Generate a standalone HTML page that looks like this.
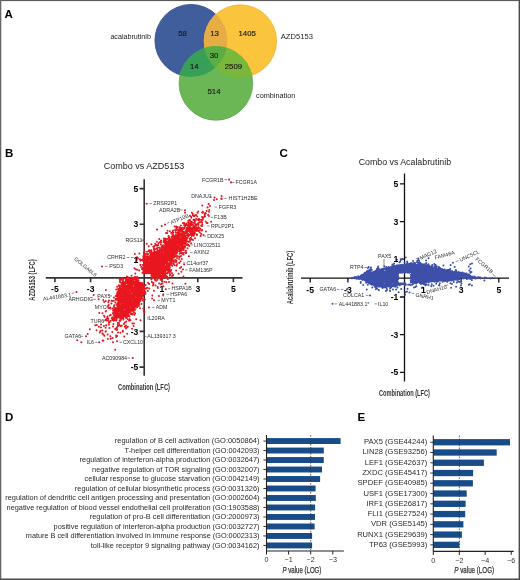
<!DOCTYPE html><html><head><meta charset="utf-8"><style>
html,body{margin:0;padding:0;background:#fff;}
body{width:520px;height:580px;overflow:hidden;position:relative;font-family:"Liberation Sans",sans-serif;}
svg{position:absolute;left:0;top:0;}
#m{filter:blur(0.3px);}
text{font-family:"Liberation Sans",sans-serif;}
</style></head><body>
<svg id="m" width="520" height="580" viewBox="0 0 520 580">
<text x="4.6" y="17.9" font-size="11.5" font-weight="bold" fill="#000">A</text>
<text x="5.0" y="156.6" font-size="11.5" font-weight="bold" fill="#000">B</text>
<text x="279.6" y="156.6" font-size="11.5" font-weight="bold" fill="#000">C</text>
<text x="5.0" y="420.8" font-size="11.5" font-weight="bold" fill="#000">D</text>
<text x="357.5" y="420.8" font-size="11.5" font-weight="bold" fill="#000">E</text>
<defs>
<clipPath id="cb"><circle cx="191" cy="40.5" r="36.5"/></clipPath>
<clipPath id="cy"><circle cx="240.4" cy="41" r="36.6"/></clipPath>
</defs>
<circle cx="191" cy="40.5" r="36.1" fill="#405e9b" stroke="#324d86" stroke-width="0.8"/>
<circle cx="240.4" cy="41" r="36.2" fill="#fbc43d" stroke="#eab23a" stroke-width="0.8"/>
<circle cx="215.9" cy="83.4" r="36.800000000000004" fill="#6bb756" stroke="#5aa84a" stroke-width="0.8"/>
<g clip-path="url(#cb)"><circle cx="240.4" cy="41" r="36.6" fill="#e6ad44"/></g>
<g clip-path="url(#cb)"><circle cx="215.9" cy="83.4" r="37.2" fill="#379f58"/></g>
<g clip-path="url(#cy)"><circle cx="215.9" cy="83.4" r="37.2" fill="#79b83b"/></g>
<g clip-path="url(#cb)"><g clip-path="url(#cy)"><circle cx="215.9" cy="83.4" r="37.2" fill="#5aae44"/></g></g>
<text x="182.5" y="36.2" font-size="7.8" text-anchor="middle" fill="#1a1a1a" stroke="#1a1a1a" stroke-width="0.15">58</text>
<text x="214.6" y="36.1" font-size="7.8" text-anchor="middle" fill="#1a1a1a" stroke="#1a1a1a" stroke-width="0.15">13</text>
<text x="247.2" y="36.0" font-size="7.8" text-anchor="middle" fill="#1a1a1a" stroke="#1a1a1a" stroke-width="0.15">1405</text>
<text x="214.1" y="57.6" font-size="7.8" text-anchor="middle" fill="#1a1a1a" stroke="#1a1a1a" stroke-width="0.15">30</text>
<text x="194.3" y="69.2" font-size="7.8" text-anchor="middle" fill="#1a1a1a" stroke="#1a1a1a" stroke-width="0.15">14</text>
<text x="233.4" y="69.2" font-size="7.8" text-anchor="middle" fill="#1a1a1a" stroke="#1a1a1a" stroke-width="0.15">2509</text>
<text x="214" y="94.2" font-size="7.8" text-anchor="middle" fill="#1a1a1a" stroke="#1a1a1a" stroke-width="0.15">514</text>
<text x="110.4" y="38.8" font-size="7.15" fill="#222">acalabrutinib</text>
<text x="280.8" y="38.5" font-size="7.6" fill="#222">AZD5153</text>
<text x="256" y="98.3" font-size="7.3" fill="#222">combination</text>
<text x="103.8" y="168.8" font-size="9" fill="#222">Combo vs AZD5153</text>
<g stroke="#333" stroke-width="1.6" fill="none">
<path d="M144.2 179.2V375.8M45.8 277.9H242.5"/>
<path d="M54.9 277.9v4.4M144.2 367.1h-4.6"/>
<path d="M90.6 277.9v4.4M144.2 331.4h-4.6"/>
<path d="M126.3 277.9v4.4M144.2 295.8h-4.6"/>
<path d="M162.0 277.9v4.4M144.2 260.0h-4.6"/>
<path d="M197.8 277.9v4.4M144.2 224.3h-4.6"/>
<path d="M233.4 277.9v4.4M144.2 188.6h-4.6"/>
</g>
<path d="M145.7 268.7h0M160 260.1h0M150 269.6h0M144.7 271h0M151.2 267.6h0M157.6 258.9h0M149.2 267.4h0M149.4 268.2h0M150.2 266.9h0M155.6 275.6h0M161.6 258.1h0M144.7 267.7h0M163.4 267.5h0M152.6 273.4h0M145.9 259.5h0M153.6 274.7h0M160.7 256.4h0M149.3 270.7h0M145.6 269.4h0M158.8 269.5h0M153.7 248.9h0M155.8 270.9h0M153.8 260.7h0M148.1 254.1h0M172 273.2h0M166.3 261.7h0M149.8 267.9h0M151.2 254.2h0M166.7 244.8h0M146.9 267.2h0M154 270.4h0M146 272.9h0M155.5 266h0M150.9 265.3h0M148.6 265.6h0M152.9 274.7h0M162.7 268.2h0M153.8 266.1h0M155.3 274.6h0M164.9 257.2h0M154.7 275.1h0M169.9 260.3h0M176.1 270.4h0M150 266.6h0M151.7 276.2h0M150.5 273.1h0M151.4 261h0M154.1 270.7h0M146.5 270.1h0M148.6 263.6h0M152.6 271h0M147.8 270h0M158 263.7h0M156.1 265h0M149.8 250.2h0M157.2 258.3h0M157 269.7h0M144.7 265.4h0M149 266.2h0M153.1 263.7h0M167.6 265h0M144.8 268.1h0M158.8 270.7h0M168.5 270.7h0M148.8 262.6h0M161.5 259.4h0M153.8 264.3h0M163.5 256h0M145.7 270.5h0M160.9 263h0M164.4 277.3h0M143.7 269.2h0M157.9 271.8h0M152.5 264.1h0M146.5 267.5h0M159.4 266.2h0M148.7 272.3h0M149.2 257.5h0M157.1 265.8h0M159.1 270.5h0M162.1 263.1h0M144.4 272.8h0M147 271h0M149 268.9h0M152.8 252.7h0M146.5 272.9h0M153.5 262.9h0M175.6 230.5h0M145.2 272.3h0M148.1 272.6h0M157.1 255.7h0M153.5 268.2h0M150.4 268.3h0M179.9 256.4h0M174.8 248.1h0M149.2 264.6h0M154.2 269.2h0M147.1 269.9h0M158.5 265h0M148.3 270.4h0M157.4 269h0M152.1 255.3h0M164.1 250.3h0M146.1 270.9h0M147.7 272.2h0M154.6 272.5h0M152.8 275.4h0M161.9 258.1h0M156.5 269.3h0M154 276.1h0M160.8 267.5h0M144.9 269.9h0M145.1 270.2h0M148.3 266.4h0M160.9 267.5h0M154.4 268.1h0M159.9 261.8h0M157.9 261.3h0M164 272.1h0M157.2 255.2h0M158.3 245.3h0M159.2 253.8h0M151.5 254.3h0M144.3 268h0M143.4 257.4h0M147.2 272.2h0M162.8 274.4h0M152.7 277.3h0M146.1 270.8h0M166.7 246h0M156.9 255.7h0M155.1 274.7h0M154.8 255.3h0M159.6 264.4h0M151.7 264.5h0M166.8 255.6h0M152.1 265.3h0M150 258.8h0M149.3 267.7h0M151.8 273.3h0M157.7 266.1h0M149.4 267.9h0M150.3 266.7h0M153 270.3h0M153 264.8h0M144.6 261.7h0M154.4 257.6h0M163.7 270.2h0M150.1 265.3h0M147.1 258h0M148.6 270.9h0M161.3 266.2h0M161 273.3h0M155.4 266.3h0M150.1 271.2h0M152.7 274.2h0M162 270.1h0M161.1 258.4h0M159 265.6h0M157.1 267.1h0M149.6 262.5h0M148.2 257.4h0M155.7 256.1h0M143.5 256.4h0M178.6 273.8h0M153.1 269.4h0M153.6 261h0M159.1 250.8h0M162.8 259.1h0M144.8 259.8h0M153.9 253.9h0M152.6 266.8h0M156.2 267.2h0M147.7 254.2h0M155.2 267.4h0M145.8 270h0M143.7 273h0M147.8 272.1h0M150.7 270.9h0M169.5 265.8h0M155.3 263.3h0M184.1 264.5h0M155.6 267.8h0M151 257h0M153.5 254.2h0M154.7 257.4h0M150.5 260.7h0M150.2 260.7h0M151.7 260h0M143.6 269.5h0M146.9 254h0M160.5 258.5h0M153 268h0M152.8 272.2h0M162.8 263.1h0M157.8 273.9h0M172.4 253.8h0M151.4 261.8h0M156.2 270.9h0M155 272.8h0M167.5 269.3h0M152.6 276.6h0M154.4 267.7h0M164.8 272.9h0M146.4 257.8h0M169.8 263.1h0M162.5 257.7h0M155.8 269.8h0M154.2 275.6h0M153.8 272h0M156.3 276.1h0M154 248.1h0M155.3 272.6h0M159.3 264.5h0M151.6 256.2h0M148.4 266.8h0M165.7 277.6h0M162.9 271h0M157.2 260.4h0M159.9 276.2h0M163.9 271.2h0M164.7 274h0M147.6 260.2h0M148.3 256.4h0M168.9 263.5h0M153.1 272.2h0M153.8 275.7h0M176.5 250.3h0M169.8 257h0M145.3 269.8h0M154.8 264.8h0M157.8 271.1h0M151.7 275.5h0M173.3 251h0M168.3 264.9h0M157.8 260.2h0M148.6 271.6h0M163.1 250.5h0M152.9 273.8h0M161.8 270.6h0M168.6 257.5h0M154.9 270.8h0M170.7 251.6h0M147.5 271.9h0M155.3 260.1h0M146.9 258.5h0M149 261.5h0M158.4 258.2h0M151.8 268.7h0M171.6 259.8h0M158.6 274.2h0M146.2 264.1h0M153.8 268.6h0M160.1 275.5h0M144 262.4h0M163.2 268.9h0M143.9 262.1h0M151.4 244.2h0M154.9 264.9h0M144.7 270.4h0M150 262.4h0M181.3 271.7h0M152 273.1h0M147.7 269.2h0M152.5 275.5h0M183.4 276.6h0M173.7 257.4h0M153.7 269.2h0M150.8 268.8h0M163.5 245.5h0M156.7 261.3h0M158.7 261.8h0M151.7 263.2h0M148 256.6h0M169.6 269.7h0M157.9 261h0M162.7 262.6h0M152.7 273h0M154.1 276.2h0M159 265.8h0M169.3 239.9h0M147.6 270.2h0M155.1 257.7h0M146.8 265.8h0M158.3 262.8h0M150 264h0M156.2 268.3h0M143.9 273.2h0M156.7 269.6h0M149.5 269.6h0M157.2 266.1h0M151.1 270.5h0M157 271.5h0M179.1 245h0M179.1 258.9h0M163.7 268.7h0M153.5 257.7h0M146.8 268.2h0M152.2 273.9h0M144.7 270h0M166.1 258.5h0M164.7 262.2h0M149.1 272.3h0M154 254.1h0M144.1 259.2h0M147.5 271.8h0M151.5 267.3h0M144.2 262.8h0M153.3 274.3h0M167.8 259.8h0M153.1 277.7h0M161.5 276.3h0M160.3 256.8h0M153.9 271.8h0M144.1 272.5h0M158.4 254.2h0M160.3 262.8h0M152.5 273.1h0M161.7 273.2h0M151.9 277.2h0M159.9 261.3h0M156.9 264.8h0M143.8 269h0M150.2 265.6h0M167 269.5h0M150.6 260.7h0M176.6 265.8h0M149.3 271.1h0M154 277.6h0M153.6 276.9h0M148.4 271.3h0M154.7 259.4h0M170.2 274.3h0M167.5 270.6h0M144.6 266.6h0M145.3 271h0M155.7 275.4h0M152.3 268.8h0M158.1 251.8h0M162.3 255.9h0M144.2 272.5h0M156.8 251.4h0M158.4 253.8h0M149.1 270.6h0M145.4 272.9h0M154.2 252.9h0M154.8 275.3h0M152.3 259.3h0M176 241.4h0M164.4 270.4h0M149.9 272.5h0M160.6 260.7h0M148.7 246.3h0M150.4 263.5h0M158.9 256h0M150.7 258.2h0M166.4 269.4h0M153.8 253h0M164.7 275.4h0M155.7 265.8h0M161.1 269.8h0M146.1 267.2h0M156 261.4h0M143.6 265h0M160.1 271.9h0M152.8 261h0M145.9 269.9h0M165.4 269.7h0M165.9 262.1h0M168.7 236.1h0M148.6 263.3h0M147 271.2h0M151.6 272h0M145.3 259.2h0M148.2 266.9h0M165.7 258.4h0M160 274.9h0M161.1 265.7h0M151.8 262.9h0M158.7 274.6h0M147.6 266.5h0M155.8 256.2h0M145.2 262.9h0M170 265.3h0M161.4 270.7h0M148.7 264.5h0M157.7 277.4h0M151.5 275.6h0M152 269.7h0M152.4 269.4h0M152.3 268.8h0M152.5 273.8h0M155.9 263.7h0M157.4 266.9h0M149.1 264.8h0M155.7 268.3h0M145.8 261.6h0M150.2 266h0M149.8 266.5h0M165.1 273.2h0M157 276.8h0M159.1 271.1h0M146.6 270.5h0M158 258.1h0M152 266.2h0M163.9 258h0M162.5 263.3h0M148.9 268.7h0M146.3 269.4h0M155.6 260.6h0M145 253.8h0M155.6 251.8h0M164.9 269h0M165.7 262.4h0M163.3 270.8h0M153.7 275h0M145.8 258.8h0M157.9 267.3h0M160.8 272h0M146 258.9h0M150.9 263h0M149.9 269.1h0M147.8 259.4h0M144.5 269.6h0M167.2 273.5h0M148.5 272h0M159.1 261.5h0M145.9 268.8h0M163.1 259.2h0M153.5 259.3h0M144.8 269.9h0M163.2 276.5h0M152.2 266.7h0M150.2 255.3h0M155.3 271.2h0M163.7 264.6h0M162.6 260.3h0M165.3 275.9h0M151.5 263.2h0M149.4 257.3h0M156.6 253.5h0M155.9 260.1h0M162.5 269.9h0M147 272.8h0M150.1 271h0M152.9 265.8h0M154.6 268.3h0M143.8 252.6h0M147.8 269.8h0M157.2 267h0M143.5 268.8h0M162.1 262.2h0M143.3 256.2h0M153.8 252.7h0M157.3 273.7h0M151.1 257.2h0M157.7 251h0M170.3 250.2h0M166.4 266.8h0M147.4 264.8h0M154 267.8h0M159 268.1h0M154.9 267h0M162 262h0M159.1 276.2h0M144.1 270h0M147 251.8h0M152.5 269.1h0M162.1 266.3h0M153.3 265.2h0M151.8 263.7h0M156.9 273.4h0M148.3 267.9h0M159.2 264.4h0M163.5 272.8h0M154 265.8h0M150 271.9h0M160.4 268.8h0M159.3 260h0M151.8 265.9h0M154.5 265.8h0M149.4 273.1h0M151.5 255.9h0M161.5 259.8h0M168.3 265.5h0M165.5 270.7h0M150.4 269.2h0M175.9 252.3h0M155.9 262.4h0M173.2 275.1h0M150.8 263.6h0M165.7 258.2h0M154.6 263.7h0M150.8 263.8h0M154.3 272.5h0M150.9 272.2h0M151.5 265.6h0M150.9 268.4h0M145.3 273.1h0M157.4 254.4h0M145.8 267.6h0M165.2 274.8h0M149.1 268.2h0M146.3 259.2h0M162.9 274.7h0M160.5 256h0M166.9 267.7h0M164.5 272.2h0M153.6 264.3h0M145.9 271.9h0M144.9 267.5h0M150.4 268.9h0M151.1 270.2h0M152.9 276.6h0M145.9 272.7h0M152.4 263.3h0M144.3 261.6h0M160.4 273.7h0M155.4 268.2h0M151.8 269.9h0M165.5 239.3h0M150.7 269.2h0M157.1 261.4h0M152 255.5h0M154.4 269h0M149.3 264.2h0M145.2 270.1h0M154.2 268.3h0M164.4 275.2h0M165.4 261.2h0M147.8 262h0M145.1 267.6h0M154.1 271.9h0M156.4 271.1h0M155.2 262.8h0M146.5 256.6h0M163.7 254.8h0M149.4 272.5h0M149.7 266.1h0M156.9 266.9h0M167.4 264h0M160.1 277.7h0M153.6 273.7h0M152.1 275.3h0M166.8 268.1h0M146 273.1h0M164.8 251.8h0M158.2 254.8h0M147.1 270.9h0M149.6 273h0M156.7 275.4h0M145.2 254.1h0M151.3 250.4h0M159.6 276.1h0M153.6 258.2h0M150.9 272.4h0M151.5 251.9h0M165.4 240.6h0M150.3 272.7h0M149.9 264.9h0M157.8 262h0M147.8 267.7h0M148.2 262.5h0M151 267.8h0M151.9 277.5h0M152.8 273.5h0M152.2 260.5h0M152.5 260.9h0M152.1 265.2h0M150.3 253.1h0M152.7 269.3h0M145.4 270h0M148.9 273.1h0M161.2 263.8h0M156.7 277.4h0M171.6 263.6h0M148.9 268.8h0M153.3 258.8h0M144.3 270.1h0M156.6 267h0M147.7 272.6h0M150.2 270.9h0M153 256.5h0M164.9 272.3h0M158.3 269.4h0M148.3 269.1h0M146 270.6h0M150.7 256.8h0M146.4 265.3h0M161 267.4h0M164.3 259.3h0M148.2 270.9h0M161.2 256.2h0M152.2 263.3h0M154.1 251.1h0M146.6 270h0M160 269.8h0M171.2 270.1h0M161.2 270.6h0M157.5 270.5h0M165.9 266h0M158.9 270.3h0M151.7 272.3h0M146.3 258.7h0M159.6 259h0M143.9 269.7h0M148.4 273.2h0M151.6 277.1h0M174.3 254.4h0M147 269.1h0M145.1 261.2h0M159.3 260h0M171.9 250.1h0M154.2 272.8h0M150.1 258.2h0M170.3 270.1h0M161.4 269.3h0M149.8 271.7h0M148.7 269.7h0M164.4 259.9h0M158.7 253.7h0M163.3 265h0M152.5 269.8h0M150.2 269.5h0M168.9 272.5h0M155.6 274.6h0M165.3 240.6h0M164.2 255.8h0M144.6 272.8h0M165.6 272.2h0M147 269.5h0M165.2 269.8h0M160 263.2h0M148.5 267.3h0M154.3 270.9h0M149.5 270.9h0M165 267.1h0M144.5 256.6h0M150.5 266.3h0M162 261.6h0M154.5 263.6h0M145.9 264.7h0M152.9 273.7h0M165.9 247.4h0M149.6 265.5h0M145.5 272.1h0M153 277.3h0M144.6 268.8h0M147.2 269.4h0M144.3 269.4h0M151.6 273.2h0M169.3 259.4h0M163.7 263.9h0M162.4 256.4h0M144.6 263.3h0M150.2 261h0M163.9 256.7h0M150.2 259.3h0M156.7 274.4h0M160.6 254.3h0M148.1 270.7h0M155.6 275.4h0M154.5 267.1h0M173.7 257.2h0M146.6 269h0M159.7 262.9h0M155.6 262.9h0M150.2 263.8h0M179.4 257.1h0M161.7 258.7h0M175.5 237.9h0M154.1 259.8h0M162.7 254.8h0M145.5 260.6h0M148.7 258.8h0M156.2 257.6h0M149.2 261.8h0M183.5 236h0M145 262.1h0M147.5 268.5h0M154.1 268.3h0M147.1 259.1h0M149 265.6h0M149 258.7h0M153.3 246.8h0M145.6 267.3h0M163.1 277.8h0M151.8 269.1h0M159.1 269.5h0M145.4 271.4h0M161.2 253.4h0M146.1 258.4h0M144.3 271.7h0M152.5 269.5h0M155.8 256.3h0M170.3 242.6h0M156.9 255.4h0M161 262.4h0M152.1 265.4h0M160 270.3h0M161.9 261.2h0M147.6 254.5h0M169.9 264.2h0M155.5 266.8h0M151.5 275.2h0M150.2 266.5h0M152.5 259.4h0M148.8 267.5h0M155.1 277h0M155 256.6h0M178.7 248h0M159.7 277.3h0M180.6 261.2h0M154.1 268.2h0M151.3 259.9h0M166 263.4h0M160 265h0M155.9 265.6h0M162.5 254.9h0M188.9 256.2h0M168.7 266h0M155.8 272.2h0M156.4 261.8h0M153.2 266.7h0M149.8 263.4h0M160.3 274.2h0M154.9 267.2h0M164 255.5h0M168 272.6h0M150.3 255.4h0M158.4 274.4h0M166.4 261.3h0M144.7 269h0M163.8 263.2h0M151.8 257.9h0M162 259.9h0M149.6 251.8h0M146.4 267.9h0M148.9 250.5h0M153.3 273.1h0M154.7 272.5h0M155.8 263.7h0M143.7 261.5h0M153 270.5h0M156.4 268.1h0M172.5 275.7h0M143.6 261.1h0M152 272.2h0M152.1 271h0M151.2 260.7h0M158.3 267.7h0M163.4 274.7h0M148.5 268.2h0M164.9 270.6h0M154.1 263.9h0M164.6 269.8h0M146.8 273.2h0M168 249.5h0M151 272.7h0M158 275.2h0M156.2 269.9h0M160.8 265h0M147.7 267.8h0M153.3 269.6h0M147.5 266.9h0M163.5 266.3h0M145.7 263.7h0M160.5 264.2h0M158.3 258.9h0M148.4 272.2h0M146.5 271.3h0M156.5 265.7h0M148.8 269.5h0M153.3 259.1h0M157.5 269.3h0M156.8 257.7h0M164 254.4h0M169.9 274.2h0M162.3 273.4h0M166.5 264.1h0M148.8 267.1h0M167.8 277.5h0M155.2 276.3h0M155 277.6h0M143.4 272.4h0M157.7 260.2h0M153 276.1h0M148.3 268.6h0M156.9 273.5h0M158.6 274.1h0M156.3 273.9h0M147.9 268h0M169.4 253.4h0M157 270.3h0M166.2 265.7h0M160 269.9h0M152.3 267.7h0M149.4 267.8h0M152.4 266h0M158.5 264.2h0M181.2 266.9h0M162.4 265.9h0M152.6 264.4h0M159.3 272.9h0M157.2 259.7h0M144 265.4h0M166.2 260h0M164.4 262.2h0M164.3 263.6h0M145 272h0M153.8 274.4h0M180.8 253.1h0M147.8 267.7h0M144 270h0M151.4 271.6h0M147.6 261.9h0M168.5 256h0M154 257.8h0M156.9 269h0M170.2 265.4h0M150.9 272.2h0M151.4 260.4h0M149.9 273.2h0M163.9 259.9h0M168 260.6h0M144.1 257.1h0M154.9 272.9h0M154.5 272.3h0M152.8 257h0M154.9 249.3h0M160.9 259.5h0M153.8 273h0M155.7 264.6h0M154.5 256.1h0M160.2 249.9h0M165.4 272.4h0M150.8 260.2h0M158.1 261.5h0M176.4 261.4h0M149.8 259.3h0M143.6 260.7h0M153.5 269.6h0M147.4 265.2h0M160.2 254.7h0M150.5 263.8h0M152.6 265.2h0M158.5 260.1h0M162.6 272.4h0M147.5 268.2h0M163.3 259.2h0M168.1 258.2h0M154.8 260.1h0M149.2 258h0M173.4 264h0M158.7 268.4h0M158.7 264.8h0M173.8 244.5h0M152.6 274.6h0M152.8 277.5h0M146.6 260h0M144.3 269.1h0M167.2 276.7h0M151.1 266.1h0M169.7 258.4h0M146 260.3h0M159.6 261.6h0M154.2 267.9h0M149.5 265.8h0M152.5 276.2h0M151.3 259.7h0M144.2 272.1h0M161.5 268.2h0M148 263.3h0M147.6 270.1h0M162.3 263h0M146.2 259h0M153.2 261.5h0M172.2 265.8h0M145.4 269.9h0M151.2 268.1h0M151.2 271.4h0M155.9 266.8h0M145.7 260.9h0M147.2 261.7h0M164.6 268.6h0M146.9 272.7h0M159.4 252.7h0M154.7 273h0M154.6 273h0M144.6 265.8h0M161.7 265.1h0M146.8 243.8h0M157.1 274.6h0M173.8 263h0M154.9 275.8h0M173.4 256.4h0M164.7 263.5h0M144.6 270.8h0M154.6 263.8h0M158.2 268.4h0M163.6 268.8h0M152.3 271.6h0M151.7 254h0M147.4 272.6h0M156.1 274.9h0M143.5 271.7h0M153.1 257.7h0M151.4 270.4h0M156.7 260.8h0M148.5 263.4h0M165.8 269.1h0M152.5 275.3h0M152.3 265.4h0M158 260h0M165.1 267.4h0M155.6 268.8h0M144.5 268.9h0M154 267.8h0M165.2 241.8h0M164.8 273.5h0M143.4 258.4h0M161.4 264.3h0M153.2 266.5h0M163 261.9h0M151.9 269.8h0M155.9 273.9h0M147.5 261.5h0M145.9 271.2h0M167 254.4h0M149.9 263h0M144.5 264.3h0M160.5 271.5h0M150.7 261.8h0M151.2 269.8h0M158.8 277.4h0M159.8 276h0M158.4 253.4h0M155.4 268.1h0M160.1 262.2h0M162 271.3h0M147.7 271.5h0M168.9 264h0M159.7 268.3h0M168.4 268.7h0M149.2 258.1h0M154.8 273.4h0M153.3 273.4h0M151.9 260h0M154.7 266.4h0M157.5 266.6h0M170 263h0M167.5 256.3h0M145.6 270.4h0M163 251.2h0M155.8 273.8h0M149.5 271h0M157.5 272.6h0M150.6 256.7h0M148.7 262.3h0M160.2 266.4h0M154.8 272.6h0M152.7 267.3h0M152.5 257.7h0M165.2 261.2h0M144.5 271h0M150.2 253.1h0M151.7 277.9h0M148.2 263h0M160.7 266.7h0M153.9 266.4h0M147.4 273h0M147.1 268.8h0M146.6 267h0M153.5 274.8h0M170.7 271.8h0M144.1 271.1h0M160.3 277.2h0M161.5 268.3h0M156 269.5h0M144.4 272.9h0M151.5 264.8h0M144.6 254.8h0M160.8 267.1h0M144.5 268.4h0M144.7 265.1h0M148.3 266.3h0M151.5 254.3h0M150.1 272.3h0M151.6 269h0M144.5 270.3h0M151.6 263.9h0M147.3 258.4h0M145.6 263.1h0M151.1 272h0M143.9 270.7h0M152.3 272h0M158.3 275.6h0M152.9 275.6h0M151.2 257.8h0M158.4 267.1h0M151.1 271h0M148.5 272.6h0M160.2 258.3h0M161.2 276.7h0M143.9 259.8h0M155.2 270.1h0M153.2 275.7h0M151.3 269.9h0M145.7 269.3h0M151.3 260.1h0M147.4 261.1h0M158 266.9h0M153.3 259.6h0M151.7 275h0M155.9 254.3h0M148.9 251.2h0M155.4 257.8h0M166.3 275.8h0M155.1 271.1h0M146.5 259.6h0M156.3 270.2h0M156.4 270h0M161.3 267.2h0M143.9 260.3h0M152.1 273.3h0M150.7 271.4h0M168.1 259.6h0M151.2 268.2h0M152.2 263h0M162 266.8h0M152.6 270.3h0M154 265.4h0M157.8 273.2h0M152.6 268.5h0M144.2 261.4h0M150.3 267.9h0M163.3 246.3h0M164.1 254.1h0M145.9 260.4h0M169.8 275.6h0M157.5 276.3h0M156.9 252.9h0M162.4 262.3h0M158.3 277.8h0M167.4 268.6h0M151.3 267.1h0M171.9 276h0M161 257.1h0M145.8 272.3h0M148.8 267.3h0M150.4 264.2h0M155.8 274.8h0M161.8 246.6h0M154.4 253.1h0M145.3 263.3h0M152 272.8h0M152.7 271.6h0M151.8 268.8h0M149.1 258.9h0M143.9 261.7h0M165.8 267.6h0M150.8 259.1h0M153.6 265.1h0M151.6 265.1h0M155.1 264.6h0M146 262.6h0M157.2 268.7h0M150.6 267.1h0M150.2 272.7h0M158.5 260.1h0M158.2 258.7h0M168.6 266.8h0M157.6 270.3h0M150.9 266.3h0M159.5 262.6h0M151.5 273.8h0M152.2 259.3h0M153.8 270.9h0M165.5 273.1h0M158.5 273.5h0M149.3 258.4h0M151.7 277.9h0M162.8 250.1h0M145.7 259.2h0M149.1 267.9h0M163 265.8h0M145.3 258.7h0M163.9 273.9h0M144.5 255.7h0M163.6 261.1h0M163.6 260.6h0M159.9 269.1h0M151.2 266.9h0M159.2 276.6h0M144.2 253.8h0M146.6 265.2h0M155.5 263.5h0M156 276.3h0M148.3 273h0M159.3 255.1h0M160.9 255.6h0M165.9 262.1h0M150.6 269.9h0M156 277.4h0M166.2 257.9h0M149.4 263.8h0M156 257.6h0M169.3 260.6h0M208.1 214.9h0M176 239.8h0M184 237.7h0M165.7 248.4h0M160.1 256.9h0M161.1 256h0M175.2 259.9h0M172.3 258.8h0M162.3 271.4h0M176.3 245.8h0M156.2 255h0M174.7 246.7h0M164 259.4h0M176.6 247.9h0M161.2 252.5h0M174.6 249.9h0M177.9 232.5h0M187.7 231.5h0M164 248.2h0M170.2 248.7h0M165.6 257.1h0M160.6 265.1h0M171.5 250.8h0M149.1 272h0M179.5 229.2h0M174.3 244.7h0M167 254.3h0M170.3 257.6h0M183.4 243.8h0M158 250.8h0M178.2 241.2h0M167.9 256.9h0M160.8 261.7h0M182.8 239.6h0M170.5 246h0M171.5 250.6h0M173.5 244.9h0M168.7 255h0M176.4 246.9h0M162.6 255.5h0M151.8 263.8h0M170.7 242.5h0M183.8 249.9h0M173.5 249.5h0M174.5 236.7h0M175.5 244.5h0M198.2 219.9h0M150.1 263.6h0M172.4 236.8h0M176.3 239.8h0M153.1 272.5h0M173.2 247.8h0M172.9 251.9h0M155.8 262.6h0M174.4 244.9h0M161.2 272h0M193.6 233.3h0M158.8 267.4h0M179.1 245.8h0M171 246.3h0M152.2 267.7h0M152.5 269.8h0M175.2 246h0M157 267h0M162.4 255.4h0M171.8 248.9h0M165 253.7h0M165.6 258.3h0M164.3 250.9h0M169.4 250.5h0M152.8 266.7h0M155 271.4h0M166.8 252.5h0M174.7 238.2h0M172.4 250h0M166.4 255.8h0M183.6 231.9h0M161.4 265.8h0M183.1 242.7h0M169.1 249.6h0M181.2 244.8h0M170.1 248.3h0M169.5 240h0M167.7 254.2h0M181.1 249h0M171.6 255.9h0M158 275.1h0M143.5 271.9h0M175.2 243.6h0M177.4 241.8h0M164.2 264.5h0M171.3 242.2h0M183.2 242h0M167.7 262.9h0M176 237.9h0M171.6 248.3h0M165.5 257.6h0M180.6 243.4h0M174.8 242.5h0M159.9 271.9h0M157 264.1h0M148.6 268h0M176.7 238.5h0M169.9 238.4h0M159.2 257.4h0M165.2 260h0M179.3 244.2h0M168.8 237.7h0M157.1 249.1h0M147.2 267.2h0M155.9 245h0M169.3 256.7h0M190.4 239.9h0M173.8 251.7h0M182 237.7h0M175.8 244h0M161.5 275.8h0M185.4 231.5h0M153.7 269.7h0M182.9 247.6h0M192.8 227.3h0M156.5 254.3h0M172.1 255.5h0M174.5 241.5h0M182.3 243.9h0M150.3 266.1h0M169.1 267.7h0M156.5 259.5h0M152.3 258.9h0M160.2 261.2h0M161.2 254.9h0M163.7 248.5h0M168 260.3h0M168 257.9h0M171.9 250.7h0M175 251.8h0M178.7 237.5h0M186.7 233.1h0M159.3 260.4h0M164.3 264.3h0M166.1 254.7h0M159.6 264.2h0M153.8 266.2h0M162.3 250.9h0M150.4 268.4h0M160.2 252.8h0M182.1 249.9h0M184.8 245.9h0M181.4 238.2h0M149 267h0M170 257.8h0M155.2 262.1h0M153.1 274.9h0M190.1 234.5h0M168.2 248.4h0M173.3 239.5h0M182.5 242.8h0M185.8 231.1h0M149.2 267.8h0M190.9 232.9h0M175.6 250.9h0M158.4 261.5h0M170.2 247h0M158.6 243.2h0M160.4 275h0M171.4 247h0M163 268.6h0M168 247h0M199.1 230.8h0M151.9 271.5h0M160.8 260.4h0M163.5 269.2h0M157.6 257.6h0M177.5 247.2h0M170.3 246.3h0M161.3 262.1h0M155.2 243.7h0M171.1 255.8h0M166 258.6h0M187.5 248.3h0M149.6 265.2h0M170.5 249.2h0M179.3 250.4h0M174.5 254.2h0M148.7 268.8h0M157.8 265.9h0M177.1 250.5h0M163.9 238.6h0M159.6 253.5h0M179.7 249.5h0M149.7 271.6h0M166.9 249.5h0M165.7 243.9h0M156.5 253.6h0M169.9 245.8h0M160.2 252.8h0M154.1 261.1h0M181.5 242.8h0M157.6 269.1h0M163.9 253.5h0M168.5 236.3h0M183.7 232.9h0M166 263.6h0M173.4 242.1h0M163.2 258.4h0M174.6 265.3h0M163.8 253.8h0M168.6 259.8h0M164.4 252h0M182.7 227.8h0M173 247.1h0M152 272.9h0M150.2 271.9h0M174.1 237.1h0M176.3 242.9h0M178.5 242.9h0M173.2 260.3h0M169.3 270h0M155.4 255.8h0M153 257.6h0M171.4 254.2h0M179.5 251.5h0M156.5 255.5h0M155.5 262.2h0M179 249.6h0M167.6 264.9h0M162.3 253.7h0M185.3 236.6h0M182.5 232h0M161.1 255.2h0M177.7 229.7h0M175 245.2h0M174.7 243.1h0M166.7 251.3h0M191.8 236h0M169.2 259.3h0M171.5 239.3h0M183.1 238.6h0M163.4 250.8h0M166.8 250.9h0M167.1 250.8h0M162.7 254.1h0M150.6 271.3h0M155.1 261.4h0M185.5 243h0M155.4 262.8h0M179.7 233.3h0M171.3 248.9h0M159.1 258.3h0M171.1 247.3h0M165.4 267.4h0M157.4 266.3h0M151 267.6h0M166.7 246.8h0M163.9 246.7h0M162 264.6h0M182 243.8h0M170.9 262.6h0M176.1 237.6h0M164 270.1h0M167.7 250.1h0M172.1 232.8h0M169.4 252.2h0M164.2 258.4h0M153.4 274.8h0M171.3 261.5h0M145.6 266.3h0M154.8 259.8h0M178.6 240.6h0M176.2 244.6h0M156 265.7h0M166.1 253h0M168.2 254.9h0M179 241.7h0M157.3 256h0M154.2 266.7h0M182.8 235.6h0M183.4 237.4h0M160.6 261.1h0M160.8 262.4h0M157.6 256.7h0M171.4 249.9h0M144.6 251.6h0M158.1 251.4h0M155.1 271.5h0M184.5 242.8h0M153.7 267.6h0M158.6 264.2h0M164.3 248.9h0M166.9 250.7h0M175.8 232.4h0M169.1 265.2h0M150 262.7h0M163.2 262.6h0M154.4 253.8h0M168.1 254.7h0M162.1 266.7h0M198.9 219h0M169 253.3h0M182.3 244.4h0M161 241.5h0M168.5 258.1h0M166.4 259.7h0M156.5 263.4h0M172 252.7h0M179 240.5h0M169.3 254.4h0M168.7 247.8h0M176.9 248.7h0M175.6 248.1h0M164.2 249.9h0M185.4 236.6h0M152.6 267.2h0M181.5 239.8h0M201.7 230.4h0M178.9 230.8h0M182.2 243h0M177.2 232.5h0M181.5 239h0M158.1 252h0M171.5 250.8h0M155.3 263.2h0M148 268.6h0M174 257.5h0M166.6 243.7h0M174.2 255.6h0M155.7 258.3h0M152.4 271.4h0M180.5 240.6h0M156.1 258.1h0M183.2 232.2h0M156.9 276.4h0M170.2 263.6h0M161.4 251.6h0M171.9 251.8h0M168.6 247.1h0M167.6 230.8h0M173.3 253.2h0M158.9 271.3h0M172.9 243.7h0M170.6 247.3h0M180.3 229.9h0M180.5 243.7h0M167.4 262.8h0M158 261.7h0M154.2 271.6h0M190.3 229.3h0M153.4 277.3h0M161.6 251.9h0M161.5 251.8h0M174 254.1h0M179.8 242.7h0M190.3 232.5h0M166.5 257.7h0M161.1 255.6h0M159.1 251.9h0M164.7 242.7h0M161.7 248.2h0M180.6 239.3h0M173.2 247.7h0M165.8 255.4h0M173.9 254.3h0M169.2 255.2h0M182.5 230h0M163.8 240.2h0M168.1 246.5h0M154.8 265h0M180.9 233.8h0M161.8 258.1h0M160.3 265.1h0M145.1 267.3h0M179.4 240.2h0M151.5 271.1h0M194.9 233.2h0M162.2 261.5h0M180.5 248.1h0M172.5 253.2h0M166.9 262.3h0M174.3 248.7h0M155 256.8h0M161 240.4h0M170.8 247.8h0M156.9 241.7h0M181.9 238.8h0M172 251.2h0M176 246.9h0M158 258.6h0M178.7 233.3h0M174.8 243.8h0M161.7 254h0M183.7 228.7h0M160.6 253.7h0M173 261.3h0M156.9 266h0M158.6 253.2h0M167.2 257.4h0M164.6 255.2h0M181.2 245.1h0M174.7 244.2h0M198.9 227.7h0M158.5 265.4h0M173.6 249.4h0M176.5 245.4h0M179.4 235.9h0M153.2 268.8h0M157.1 245.7h0M169.6 262.9h0M171.8 257h0M184.5 228.4h0M185.9 235.8h0M152.5 266.2h0M153.6 275h0M157.5 264.3h0M184.8 238.2h0M161.3 254.3h0M173.6 251.1h0M154.2 253.8h0M177.7 235.5h0M193 240.1h0M168.6 253.4h0M172.5 244.8h0M169.5 252.1h0M167.3 248.4h0M181.8 235h0M196.2 219.7h0M166.3 247.2h0M166.5 255.8h0M189.3 246h0M172.7 242.3h0M168.6 248.7h0M156.1 266.6h0M149.5 262.2h0M172.7 244.6h0M171.3 249.1h0M145.8 261.7h0M174.6 245.9h0M168.1 241.2h0M177.5 236h0M176.9 243.8h0M178.4 232.7h0M182.6 246.2h0M171.2 242.8h0M186.1 252.9h0M153.5 264.1h0M161.6 251.5h0M163.8 264.7h0M173.4 248.1h0M160.1 276.1h0M204.7 215.3h0M171 264.3h0M154.6 267.4h0M166.7 246.9h0M155.2 261.7h0M181.7 241.3h0M172.4 261.6h0M161.8 269.6h0M174.6 246.2h0M184.1 233.1h0M173.4 241.9h0M172.7 255.4h0M186 233.2h0M148.1 263.6h0M172.3 234.8h0M194.6 228.5h0M181.8 258.9h0M155.4 258.5h0M156.3 265.3h0M148 259h0M193.4 232.8h0M155.3 264.3h0M172.6 243.2h0M169.9 241.4h0M173.1 230.5h0M170.6 252.2h0M156.7 245h0M173.9 238.8h0M178 230.1h0M198.5 224.7h0M166.3 246.5h0M178.3 242.9h0M159 261.5h0M177.2 235.4h0M156.1 269.9h0M164.4 245.6h0M165 252.5h0M156.2 262.2h0M166.8 259.7h0M152.5 266.3h0M153.9 257.3h0M169.2 252.4h0M182 246.3h0M180.1 244.5h0M177.6 246.9h0M162.2 272.9h0M164.6 251.4h0M170.4 258.4h0M191.1 230.3h0M191 225.6h0M164.6 252.9h0M148.3 265.4h0M169.9 247.2h0M163.8 265.8h0M166.9 246.4h0M168.3 253.1h0M156.7 258.2h0M183.8 236.2h0M145.7 255.9h0M146.2 273.2h0M159.3 250.6h0M170.9 262.3h0M151.8 268.4h0M168.2 257.1h0M165.4 267.3h0M158.2 263.6h0M145.4 263.4h0M166 241.1h0M187.7 241.3h0M167.1 246.6h0M175.2 239.9h0M154 256.2h0M166.6 257.1h0M170.1 253h0M157.7 261.8h0M196.1 218.9h0M168.9 254.3h0M175.1 253.5h0M170.9 246.4h0M165.3 250.6h0M161.1 253.6h0M170.3 244.6h0M162.7 250.2h0M158.8 251h0M159.7 250.2h0M169.3 250.4h0M151.7 264h0M170.3 248.8h0M170.5 247.8h0M160 269.6h0M173 244.8h0M176.2 226.6h0M173.5 240.5h0M172.5 245.9h0M169.2 271.4h0M172.9 241.5h0M166.1 252.5h0M174.1 237.6h0M169.5 251.9h0M170.1 242.8h0M196.1 228.7h0M175.7 250.4h0M151.4 250.4h0M161.8 259.2h0M155.9 257.5h0M167.9 265h0M164.6 248.6h0M165.3 253.2h0M161.7 265.9h0M170.8 257.8h0M164.9 262.9h0M160.1 253.7h0M161.1 249.9h0M170.9 249.6h0M154.9 265h0M149.2 265.8h0M155.6 276.2h0M162.6 271.1h0M170.4 255.5h0M158 257.5h0M166.1 245.6h0M170.2 254.8h0M173.3 238.6h0M158 251.5h0M172.6 255.1h0M169.1 240.1h0M149.6 258.5h0M168.2 250.4h0M183.9 237.4h0M194.7 230.9h0M163.2 265.7h0M172.6 247.4h0M171 239.8h0M171 239.9h0M179.2 240.6h0M161 267.3h0M176.8 246.8h0M157.6 269.9h0M162.2 256.4h0M166.9 261.6h0M181.1 256.1h0M157.6 254.9h0M163.9 247h0M164.4 251.4h0M167.7 256h0M166.1 246.6h0M152 273.5h0M157.9 255.7h0M183 243h0M156.8 259.6h0M159.1 265.4h0M172 256.1h0M153.7 276.6h0M172.2 252.1h0M152 272.5h0M170.2 240.2h0M180.5 238.2h0M167.1 251.1h0M170.8 244.7h0M156.9 270.2h0M158 257.5h0M162.4 264.6h0M171.6 236.9h0M155.2 267.2h0M180.6 242.1h0M181.9 248.9h0M160.2 255.5h0M179.6 232.3h0M151.8 263.1h0M169.6 242h0M175.8 248.7h0M164.4 263.4h0M180.2 249.5h0M165.1 253.6h0M182.9 242.6h0M174 254h0M178.9 243.7h0M165.5 262.7h0M160.8 265.4h0M153.5 258.7h0M152.7 266.9h0M179.7 248.9h0M163.1 255.5h0M165 261.3h0M176.1 241.9h0M191.6 234.4h0M164.4 256.6h0M170.8 247.6h0M157.8 247.7h0M161.7 255.6h0M170 255.1h0M181.5 252.8h0M185 246.6h0M161.3 258.8h0M161.7 263.3h0M169.9 231.2h0M177 241.5h0M161.1 265.9h0M176 236.6h0M176.9 234.9h0M183.3 240.7h0M160.2 268.8h0M165.8 256.3h0M171.5 258.3h0M164.2 250.1h0M177 264.2h0M166.5 256.9h0M176.7 244.3h0M174.3 248.7h0M165.3 247.6h0M161 257.5h0M164.8 251h0M162.1 255h0M172.4 242.4h0M157.3 270.3h0M168.6 249h0M170.5 249.2h0M162.5 250.1h0M159.9 272h0M180.1 245.5h0M176 249.2h0M146.4 263.4h0M170.1 261.4h0M163.4 258.7h0M162.2 257.4h0M153 270.8h0M168 247.6h0M169.4 257.4h0M154 271.1h0M163.7 253.7h0M168.2 258.8h0M156.6 248.4h0M195.2 225.1h0M179.6 253.8h0M164.9 250.2h0M154.6 252.5h0M173 242.2h0M175.5 248.3h0M180.3 233.9h0M174.6 243.8h0M144 263.1h0M176.6 241.2h0M168.5 266.1h0M161 261h0M149.3 261.6h0M178.5 243.4h0M176 244.1h0M170.4 253.5h0M200.1 229.8h0M159.7 253.1h0M183.7 248.3h0M154.8 267.2h0M158.8 267.5h0M163.1 258.8h0M184.9 247.6h0M178.6 242.8h0M173.6 249.1h0M199.8 232.4h0M181 241.9h0M157.2 252.7h0M159.6 254.2h0M184.7 239.1h0M184 225.1h0M162.1 256.8h0M156.1 262.7h0M171.7 240.3h0M170.2 253.9h0M161.8 266.4h0M160 256.1h0M161.5 264.6h0M151 265.9h0M168.9 264h0M174.3 237.2h0M167.2 255.9h0M168.8 258.7h0M171.8 237.3h0M176.5 241.2h0M166.2 250h0M188.5 236.5h0M168 257.6h0M150.2 268.7h0M182.8 244.7h0M174.3 240.1h0M165.6 244.1h0M151.6 257.1h0M159.3 257.3h0M143.8 270.5h0M168.1 256.6h0M152.8 266.9h0M178.8 236.5h0M164.6 262h0M154.7 269.2h0M178.4 241.6h0M166 259.1h0M171.2 243.9h0M184.7 240h0M154.9 271.1h0M151.4 270.6h0M163.8 263.7h0M160.9 252.1h0M176.1 248.6h0M164.5 253.7h0M174.4 248.3h0M149.1 270h0M155.6 268.7h0M158.6 255.3h0M159.2 260.5h0M165 260h0M177.3 246.1h0M169.7 248.3h0M170.4 254h0M160.5 263h0M158.2 263.3h0M168.4 259h0M177.8 234h0M152.1 252.4h0M188.8 220.4h0M181.4 242.6h0M167.9 264.9h0M156.7 256.8h0M167.2 266.4h0M176.2 228.1h0M188.9 242h0M178.2 247.9h0M161.1 254.3h0M185.6 238.4h0M166.4 264h0M169.3 258.6h0M156.7 258.5h0M164.8 254.8h0M165.5 248.6h0M186.1 242.1h0M144.8 273.2h0M168 241.3h0M167.7 239h0M173.9 251h0M180.6 245.8h0M155.9 262.1h0M158.8 254.8h0M153.9 253h0M150.8 265.2h0M154.5 255.6h0M155.8 259.3h0M183.9 233.7h0M163 250.6h0M197.8 228.9h0M166.4 257.5h0M176.5 248.6h0M172.4 245.8h0M181.9 250h0M157.2 268h0M173.7 242.5h0M167.6 260.6h0M169.7 254.1h0M169.1 237.3h0M171.4 257.3h0M190.8 222.7h0M171.4 247.6h0M167.3 252.2h0M174.6 256.9h0M157.7 263.8h0M166.6 252h0M177.8 255.9h0M157.1 269.1h0M168 253.6h0M190.2 231.3h0M168.9 263.3h0M186.5 231.6h0M166.9 258.4h0M168.1 254.8h0M183 242.4h0M162.7 261.9h0M171.2 246h0M175 240.3h0M172.1 247.2h0M174.3 241.4h0M175.9 256.2h0M163 262.8h0M178.3 232.5h0M166.5 241.9h0M165 251.2h0M170.5 243.9h0M160.2 265.8h0M155.5 264.6h0M167.9 264.8h0M181.3 246.9h0M162.8 263.5h0M154.7 261.9h0M163.2 268.6h0M162 266.8h0M144.2 270.6h0M184.6 245.7h0M176.6 228.6h0M147.8 270.5h0M159.1 255.2h0M159.4 257.6h0M185.1 252.4h0M165 255.4h0M168.1 243.1h0M177.4 248.2h0M176.8 248.7h0M175.2 245.8h0M163 256.5h0M148.1 266.2h0M186 244.3h0M162.6 265.3h0M193.7 227.9h0M154.7 268.6h0M162.7 245.5h0M174.1 255.6h0M152.7 254.2h0M178.2 239.2h0M166.6 260.7h0M165.4 250.8h0M164.2 248.2h0M162.9 247.4h0M163.7 249.6h0M155 252.3h0M177.5 236.5h0M153.4 266.2h0M171 255.7h0M164.9 250.2h0M186.6 232h0M160.3 253.3h0M178.3 240.2h0M160.8 265.3h0M163.7 255.9h0M172.2 246.6h0M188.4 228.9h0M167.4 244.5h0M179.3 245h0M167.7 247.6h0M166.7 247.2h0M183.8 241h0M185 212.7h0M175.4 245.4h0M174.3 256.2h0M169.3 256.9h0M166 256.6h0M193.2 231.7h0M171 251.8h0M180.1 230.6h0M152 276.8h0M171.5 253h0M170.8 248.3h0M154.5 268.7h0M171.7 248.5h0M166 251.1h0M159.2 250.7h0M149.4 268.2h0M158.3 259.1h0M173.2 241.3h0M170.7 242.9h0M173 248.4h0M170.6 241.4h0M174.8 242.3h0M177 257.9h0M157.2 265.1h0M172.8 237.3h0M171.9 256.6h0M167.6 244.6h0M177.4 247.3h0M156.9 271h0M149.4 264h0M161 242.5h0M181 230.1h0M155.3 260.4h0M176.6 253.8h0M154 272.8h0M182 240.1h0M149.4 271.3h0M177.5 251.3h0M190.9 233.3h0M175.4 238.7h0M157.7 264h0M167.3 255.6h0M174.3 244.9h0M153.3 269.7h0M168.9 252h0M177.9 242.1h0M153.1 255h0M174.8 245.9h0M167.4 255.9h0M170.4 257.1h0M181.3 228h0M167.7 257.6h0M149.1 267h0M165 243.3h0M148.1 259.1h0M145.4 264.4h0M176.3 239.7h0M146.6 262.2h0M181.6 250.6h0M152.8 262.7h0M166 251.7h0M156 257.5h0M165 267.3h0M165.3 268.5h0M157 267h0M182.2 253.8h0M158 256.9h0M168 245.5h0M192.2 232.8h0M154.5 257.9h0M183.4 232.7h0M166.7 262.4h0M171.8 245h0M155.5 269.3h0M152.2 264.1h0M159.4 251.2h0M180.5 235.8h0M175.8 235.1h0M185.4 236.7h0M166.2 238.9h0M175.5 246.8h0M160 241.9h0M164.2 260.5h0M178.3 243.3h0M169 255.4h0M185.8 237h0M153.2 273.5h0M147.2 264.4h0M151.2 257.4h0M164.9 238.5h0M161.8 251.3h0M153.1 258.2h0M162.2 252.2h0M163.1 266.9h0M160.2 249.3h0M159.6 247.8h0M164 258.5h0M163.3 258.4h0M159.3 262.6h0M161 267h0M180.8 230.6h0M165.3 259h0M145.7 270.5h0M150.9 254.3h0M182.8 239.6h0M186.3 223.6h0M181.5 243.6h0M174.5 236.2h0M160.9 244.4h0M179.5 256.9h0M163.6 241.9h0M156.5 257.5h0M159.1 260.7h0M165.3 258.7h0M174.1 251.7h0M157.7 256.5h0M181.1 240.1h0M160.6 253.4h0M171.1 264h0M172 244.8h0M157.2 259.1h0M163.1 260.3h0M180.8 249.2h0M146.8 267.8h0M163.9 270.2h0M169.9 267.8h0M182 237.3h0M171.7 243.9h0M172.3 255.8h0M176.3 245.8h0M164.9 271.7h0M181.8 239.2h0M168.5 266.8h0M177.2 243.1h0M177.8 241.9h0M153.5 263.1h0M162 252.6h0M179.2 240.7h0M163.5 255.2h0M165.3 258.9h0M173.6 250h0M158.4 252.8h0M170.4 253.6h0M174.5 246.2h0M177.1 249.1h0M162.3 269.5h0M173.3 235.2h0M178.2 238.2h0M169 252.9h0M173.3 247.9h0M149.9 263.6h0M174.1 241.4h0M166.4 256.8h0M165.9 252.6h0M153.8 270.9h0M148.9 263.8h0M154.7 276h0M154.7 265.1h0M147.9 259.9h0M183.6 254.4h0M166.8 250.7h0M151.2 270.9h0M169.1 256.1h0M163 254.9h0M159.8 261.5h0M149.1 267.6h0M153.3 258.4h0M182.9 223.1h0M158.4 259.1h0M160.7 256.5h0M159.9 269h0M168.1 258.5h0M176.9 237h0M170 251.3h0M159.7 253.5h0M166.3 254h0M186.7 231.1h0M163.4 259h0M182.3 240.8h0M155.7 256.8h0M173.5 235.2h0M153.9 263.9h0M157.3 260.4h0M177.3 240.6h0M170.9 251.2h0M166.8 256h0M179.1 240.5h0M180.1 230.3h0M178 247.7h0M167.9 244.2h0M163.9 250.7h0M174.8 236.6h0M169.1 247.2h0M152.5 271h0M168.7 237.9h0M163.6 248.2h0M169.7 257.9h0M169 247.4h0M158.8 268.7h0M168.3 255.7h0M176.9 253.1h0M177.7 246.5h0M176 255.7h0M175.8 242h0M196.8 234.2h0M183.2 249.8h0M168.3 244.3h0M181.6 236.4h0M188.5 226.8h0M178.5 243.3h0M163.9 258h0M156 267.1h0M154.5 269.8h0M178.6 240.4h0M151.1 256.5h0M180.8 237.9h0M183.4 240.1h0M185.7 239.6h0M164.5 259.3h0M168.5 252.5h0M183.8 237.7h0M170.8 248.6h0M171.9 254.3h0M159.9 249.7h0M180 248.3h0M165.1 263.1h0M159.9 265.7h0M149.7 267.9h0M175.7 242.5h0M159.6 259.7h0M152.8 260h0M203.5 235h0M170.1 249.3h0M169.2 252.9h0M161.7 259.9h0M167.2 256.8h0M197.3 230.4h0M166.3 263.9h0M157.8 250.7h0M168.5 258h0M148.2 269h0M155 261h0M159.8 265.1h0M171.5 261.2h0M184.2 243.7h0M165.7 251h0M191.2 223.4h0M177.5 245.9h0M164.1 256.3h0M182 244.8h0M159.2 238.9h0M161.8 273.2h0M160.2 261.4h0M183.2 231.9h0M181.8 242.8h0M164.2 253.8h0M154.9 263.8h0M161.6 257h0M181.5 237.1h0M154.6 245.9h0M175.9 239.8h0M156.8 260.8h0M169.7 251.9h0M179.6 233.3h0M175.9 249.7h0M153.7 258.2h0M171 252.8h0M169.7 249.5h0M161.9 259.6h0M173.7 242.9h0M159.1 266.9h0M173.7 253.7h0M168.1 252.4h0M156.5 264.1h0M161.1 249.2h0M166.4 254h0M172 250.9h0M188.2 234.7h0M158 266.5h0M182.1 241.1h0M154.8 261.4h0M181.2 241h0M176.5 247.9h0M186.2 240.8h0M164.4 259.2h0M155.4 266.1h0M176.8 249h0M186.8 229.9h0M172.7 253.1h0M161.5 252h0M156.8 269.4h0M161.3 269.6h0M176.1 249.7h0M189.6 238.7h0M161.5 258.7h0M162.6 274.7h0M158.2 262.8h0M153.6 265.4h0M186.1 225.2h0M178.6 243.6h0M156.3 255.8h0M159.3 256.4h0M152.8 265.4h0M176.4 260.6h0M162.1 254h0M170.4 246.6h0M180.8 239h0M153.2 260.8h0M191.5 229.5h0M183.9 236.5h0M151.9 276.4h0M151.1 261.1h0M169 255.4h0M161.6 247.9h0M167.6 258.3h0M173.1 253.3h0M167.6 244.8h0M169.5 253.9h0M172.6 258.4h0M174.6 226.5h0M174 262h0M163.5 268.4h0M166.2 259h0M178.3 240.8h0M152.6 265.3h0M152.4 271.7h0M154.8 264h0M164.8 260.2h0M166.8 249.7h0M164.1 247.6h0M151.9 266.3h0M185 233.8h0M160.7 254.8h0M166.4 249h0M179.3 239h0M179.9 249.6h0M155.8 266.2h0M187.2 238h0M159 256.6h0M164.6 266h0M151.1 267.5h0M175.5 252h0M179.2 257h0M168.4 260h0M167.5 251.2h0M165.3 250.2h0M163.8 268h0M147.3 266.6h0M154.9 269h0M170.3 251h0M162.4 274.8h0M178.8 245.2h0M173.9 261.4h0M167.1 253.1h0M170.8 249.2h0M160.4 273.2h0M165.3 259.2h0M184.4 236.9h0M170 249.6h0M165.8 266h0M165.4 245.3h0M165.2 257.5h0M159.7 264.6h0M178 240.9h0M168.1 247.7h0M171.2 247.2h0M171.6 245.2h0M175.1 253.8h0M162.9 246.4h0M160.6 249.7h0M172.2 241.4h0M160.2 265.8h0M153.2 259.3h0M183.9 243.4h0M150.1 270.6h0M179.5 237.9h0M170.8 245.5h0M172.6 248.5h0M168.3 246.7h0M157.6 250.4h0M154.7 269.6h0M151.5 261.7h0M180.8 244.4h0M168 255.8h0M152.8 274.9h0M167 249h0M157 264.2h0M169.5 240h0M172.6 253.8h0M164.1 261h0M159.7 265.6h0M164.6 250.7h0M148.8 258.4h0M182.7 238.5h0M163.1 245.8h0M181.1 242.3h0M185.4 240.5h0M195.5 224.2h0M188.5 229.5h0M180.6 228h0M189.2 235.3h0M176.9 247.3h0M189 228.3h0M192.1 229.2h0M190.5 224.8h0M174.9 241.9h0M192.8 227.3h0M198.2 219.2h0M177.3 235.4h0M209 216.1h0M184.1 228.5h0M190.2 221.1h0M206.8 222.9h0M200.2 228.8h0M182.6 244h0M198.3 231.1h0M194.1 234.6h0M209 211.8h0M191.8 234.7h0M177.7 232.4h0M194.3 232h0M183.6 236.5h0M205.2 212.9h0M188.4 222.8h0M208.7 203.9h0M181 245.1h0M202.9 211.7h0M171.1 252.4h0M184.6 236.6h0M191.7 221.9h0M207.5 223h0M191.4 228.3h0M174.6 239h0M179.9 249.1h0M202.1 212.5h0M191.2 217.8h0M170.6 239.5h0M187 227.8h0M193.5 220.1h0M184.3 234.6h0M185.8 225.4h0M161.5 249h0M171.2 233.1h0M179.6 227.2h0M190.6 224.7h0M201.2 233.9h0M179.3 251.3h0M189.6 230.4h0M194.8 220.7h0M202.6 219.8h0M193.2 228.5h0M182.9 248.6h0M190.3 234.7h0M186.1 239.4h0M167.2 232.9h0M192.9 234.6h0M185.9 232.7h0M169.7 242.7h0M176.9 238.8h0M186.1 238.5h0M221.6 199.1h0M174.6 248.8h0M174.1 238h0M196.2 230.5h0M205.8 213.4h0M170.9 241.4h0M197.7 227.7h0M177.1 243.7h0M179.1 236.5h0M194.6 232.3h0M177.8 243.6h0M202.7 219.7h0M195.8 227.1h0M193.9 228.6h0M194.9 229.9h0M173.3 232.8h0M201.1 225.8h0M199.8 219.6h0M205.7 221.6h0M188.1 234h0M184.8 242.8h0M206.7 211h0M190.3 240.3h0M194.6 215.8h0M190.8 237.8h0M193.2 225.3h0M165.7 239.8h0M198.3 226.9h0M176.8 237.2h0M197.3 216.6h0M194.2 226.8h0M209.2 209.9h0M188.7 227.2h0M182.3 231.1h0M211.1 221.7h0M181.3 228.7h0M203.5 217.3h0M193.9 222.8h0M191.6 231.1h0M193.6 215.9h0M202.8 212.7h0M185.3 225.2h0M221.6 196h0M180.9 225.4h0M185.9 250.7h0M192.8 215.2h0M197.6 212.8h0M201.5 220.8h0M202.1 222.3h0M173.5 247.5h0M179.3 247.5h0M183.2 238.5h0M193.2 232.1h0M182.7 237.2h0M187.9 227.1h0M194.8 221.5h0M190.1 223.3h0M187.2 229.9h0M178.2 239.2h0M200.1 222.2h0M202.9 218.1h0M192.7 213.4h0M191.7 229.2h0M193.9 226.9h0M175.4 236.5h0M165.9 247.6h0M177 235.5h0M176.5 229.7h0M191.1 243.2h0M216.8 199.3h0M186.8 231.8h0M183.8 232.8h0M172.7 231.2h0M178.8 235.7h0M202 217h0M198.5 223h0M181 243.7h0M195 215.5h0M175.4 236.7h0M178.4 239.5h0M202.2 230h0M195.2 225h0M170.9 244h0M189.5 226.4h0M187.6 235.8h0M175.7 245.5h0M179.1 243.4h0M189 223.9h0M191 225.4h0M181.7 230.6h0M201.2 220h0M187 238.7h0M186.4 235.4h0M202.3 205.6h0M171.7 242.6h0M191.7 239.2h0M192.8 230.4h0M189 225.9h0M176 232.8h0M192 232h0M163.7 240.8h0M179.7 239.2h0M187.4 224.9h0M183.2 253.4h0M194.2 234.8h0M177.6 227.1h0M179.4 235.1h0M166 232.9h0M182.6 233.8h0M188.5 234.6h0M199.1 220.6h0M180.5 242.7h0M184.3 234.2h0M191.9 232.6h0M175.1 230h0M180.1 229.8h0M181.8 235.2h0M188.3 245h0M178.8 234.8h0M196 214.9h0M183 239h0M174.9 243.3h0M194.5 222.7h0M178.4 238.8h0M186.4 229.6h0M184.7 233.4h0M183.1 242.6h0M161.4 258.3h0M192.3 233.5h0M198.2 211.5h0M204.7 214h0M183.7 233.4h0M191.2 216.8h0M178.6 242.3h0M168.3 254h0M194.1 219.5h0M208.5 204.1h0M186.1 238.5h0M184.2 223.1h0M178.6 248h0M189.6 231.7h0M198.1 223.4h0M188.1 230.9h0M184.8 224.5h0M180.9 251h0M173.8 248.2h0M186.8 228.3h0M190.2 227.6h0M172.3 252.5h0M196.3 230.9h0M184.3 238h0M195.6 229.1h0M172.3 250.5h0M181.7 231.7h0M182.4 238.6h0M184.1 238.6h0M196.3 227.8h0M193.8 235.8h0M192.4 232h0M188.2 220.9h0M180.9 250.1h0M191.9 212.7h0M195.1 238.3h0M168.6 244.9h0M205.4 213.2h0M170 242h0M176.5 248.2h0M183.6 240.3h0M196.4 228.9h0M185.1 226.2h0M193.5 215.3h0M190 241.1h0M188.6 228.6h0M191.8 229.6h0M195.8 230h0M188.8 229.7h0M192 222.6h0M192.6 224.5h0M179.2 228.9h0M171.7 240.2h0M177.4 238.7h0M183.8 246.5h0M180.9 245.5h0M203 219.1h0M184.2 242.1h0M187.4 231.8h0M195.6 227.8h0M175.9 244.4h0M193.5 219.7h0M179.5 243.6h0M192.9 229.9h0M173 245.7h0M183 234.3h0M197.7 224.1h0M179 246h0M194.8 222.9h0M196.5 224.4h0M196.6 225.2h0M181.3 238.2h0M187.2 233.5h0M184.7 227.6h0M187.2 244.3h0M202.2 224.2h0M188.1 222.8h0M189.9 215.8h0M205.9 231.6h0M196 227.8h0M184.6 246.8h0M176.3 246.1h0M194.3 215.9h0M189.7 220.1h0M122 316.9h0M122.4 306.4h0M125.5 296.2h0M136.2 287.3h0M136.6 295.5h0M137.6 296.3h0M133.8 303.6h0M137.3 292.5h0M122.1 283.9h0M137.2 302.4h0M134.5 299.6h0M125.9 312.2h0M143.5 288.8h0M124.8 315.7h0M122.1 291.7h0M138 284.8h0M130.4 304.7h0M141 287.4h0M128.5 281.6h0M127.8 292.3h0M130 311h0M135.4 283.9h0M136.1 290h0M135.2 289.6h0M139.9 301h0M120.5 296.5h0M126.2 287h0M121.5 310.2h0M140.9 287.9h0M129.9 301.8h0M121 312.2h0M141.3 287.5h0M122.2 308.2h0M128.8 306.1h0M130.9 285.7h0M136.1 300.3h0M117.3 293.6h0M122.5 296.5h0M125 308.3h0M139.8 290.3h0M136.2 277.9h0M137.1 283.9h0M137.8 303h0M115.6 310.3h0M130.3 308.6h0M120.5 310.8h0M126.8 306.2h0M132.1 304.6h0M126.9 301.7h0M129.5 284.1h0M135.7 279.7h0M128.9 296.2h0M127.2 296.1h0M134.7 296.7h0M132.2 286.4h0M127.5 307.9h0M128.9 281.3h0M117.4 316.1h0M113.8 300.8h0M138.4 296.2h0M136.6 282.6h0M115.4 316.9h0M138.6 283h0M128.7 311.4h0M124 311.2h0M128.6 284.2h0M133.3 278.5h0M118.2 313.8h0M127.9 282.4h0M131.3 279.1h0M134.3 283.2h0M135.8 292.1h0M142.1 283.2h0M137.4 298.9h0M135 285.9h0M123.1 305.3h0M141.5 287.5h0M135 277.6h0M121.4 282.9h0M121 294.5h0M115.7 315.6h0M142.9 288.2h0M126.9 288.8h0M122.9 291.2h0M142.2 285.1h0M131.4 283.1h0M120.2 314.9h0M142 285.6h0M135.4 288.1h0M134.1 306.1h0M121.9 305.2h0M136.1 284.5h0M120.1 279.2h0M139.5 301h0M142 295.2h0M135.4 298.4h0M136 280.8h0M130.7 290.5h0M132.9 295.6h0M133.2 293.4h0M132 285.5h0M118.7 292.1h0M138.7 289.8h0M121.5 311.4h0M118.1 310.4h0M117.3 305.7h0M127.1 281.9h0M124.8 289.1h0M133.9 298.3h0M124.9 285.2h0M120 308.8h0M136.9 293.9h0M125.7 308.5h0M120.2 296.6h0M132.7 309.1h0M141.6 291.9h0M139 306.1h0M124 298h0M131.7 291.6h0M125.4 287.1h0M133.5 295.5h0M123.5 294.8h0M128.9 281.3h0M130.2 280.7h0M135.5 279.1h0M126.4 281.7h0M140.7 296.3h0M145.6 284.9h0M124.9 292.2h0M129.4 307.4h0M144.7 289.8h0M143.3 287.2h0M141.5 295h0M117.9 311.8h0M135.1 302.7h0M140.2 295.7h0M132.8 281h0M137.1 291.4h0M123 292.9h0M118.2 302.8h0M135.6 284.2h0M123.5 297.8h0M134.3 306.1h0M124.2 300.6h0M126.5 291.3h0M121 289.6h0M124.8 282.2h0M124.3 308.6h0M125.4 316.2h0M139.2 302.2h0M126.9 312.3h0M133.2 304.3h0M123.8 301.6h0M137.3 284.6h0M146.4 288.3h0M133.7 289.7h0M130.7 304.2h0M126.5 298.7h0M124.2 290.5h0M129.5 293.6h0M128.8 310.8h0M119.3 286.5h0M134.2 310.1h0M122.8 311.5h0M128.7 309.7h0M123.6 314.6h0M142.8 285h0M139.3 289.8h0M122 295.7h0M121.4 279.6h0M118 309.1h0M137.5 281.7h0M124.1 292.9h0M135.1 289.8h0M140.1 286h0M119.5 300.2h0M130.4 285.1h0M134.2 298.3h0M123.7 292.9h0M135.2 294.2h0M139.5 294h0M118.2 300.1h0M126.4 298h0M128.4 287.6h0M126.6 291.8h0M119.8 287.7h0M134.4 286.4h0M145.5 293.8h0M135 292.2h0M140.2 299.9h0M124.8 294.1h0M128.4 283h0M132.6 291h0M132.2 289.9h0M130 282.1h0M138.3 304.9h0M132.9 295.8h0M128.7 283h0M133.1 302.9h0M122.8 308.2h0M136.8 280.9h0M136.4 286.8h0M125.2 303.4h0M126.1 290.8h0M138.4 290h0M140.7 297h0M133.6 304.3h0M134.8 296.9h0M142.4 283.8h0M124.5 282.4h0M137.2 289h0M137.5 304.7h0M138 303.5h0M133.2 305.1h0M135.3 282.5h0M140.7 300.5h0M131.6 284.9h0M123.8 298.1h0M119.5 301.5h0M126.8 279h0M136.8 287.3h0M134.4 296.8h0M128.3 279.9h0M118.3 295.3h0M132.8 291.1h0M121.3 306.7h0M124.8 294.3h0M118.9 310.8h0M133.4 291.3h0M122.3 313.7h0M132.8 284.5h0M114.9 311.2h0M136.5 279.5h0M119.9 282.1h0M125.6 308.2h0M141.2 297.1h0M138.2 296.1h0M141.6 296.8h0M136.4 298.2h0M118.1 297.1h0M126.5 311.7h0M121.9 286.4h0M123.7 301h0M128.5 290.2h0M119.2 298.2h0M131.8 295.2h0M126.5 283.3h0M118.3 300.3h0M133.6 293.3h0M123.3 317.8h0M120.2 305.2h0M134.8 285.3h0M123.9 314.3h0M129.8 293.4h0M125.3 283.7h0M128.5 304.5h0M125.3 308.7h0M122.8 281h0M126.9 296.7h0M128.1 283h0M122.3 306.4h0M124.4 290.7h0M125 300.6h0M132.9 295h0M127.5 280.9h0M123.5 317h0M124.5 300h0M137.9 291.7h0M126.8 281.2h0M121 305.9h0M139.1 294.6h0M144.4 290.4h0M142.7 287.9h0M121 305.2h0M140.4 298.7h0M134.8 295.4h0M128.2 283.1h0M132.1 282.5h0M136.9 280.1h0M133.8 299h0M122.3 317.9h0M129.2 297.9h0M135.9 281.9h0M132 290.5h0M123.9 307.4h0M132.9 284h0M133.8 293h0M124.7 314.8h0M136 305.4h0M131.8 285h0M118.3 314.7h0M126.9 298.7h0M120.7 299.3h0M124.2 299.1h0M127.1 307.3h0M142.8 285.7h0M137.5 290.8h0M132.5 290.7h0M133 307.9h0M132.2 281.6h0M129.4 308.9h0M131.8 313.6h0M133.9 283.5h0M134.8 287.1h0M129.6 311.3h0M138.3 299.7h0M137.6 280.3h0M131.9 306.9h0M127.1 293.3h0M134.5 301.3h0M130.2 279.9h0M139.5 298.2h0M144 293.8h0M133.9 301.6h0M132.2 303.2h0M122.7 281h0M139.3 286.9h0M118.6 315.2h0M137.8 286.7h0M133.9 297.8h0M122.2 309.9h0M114.2 311h0M135.1 295.4h0M126.5 303.6h0M138.3 298.4h0M131.7 299.1h0M141.5 284.4h0M130.6 298.2h0M125.7 298.7h0M120.9 315.1h0M116.9 312.6h0M116.1 314.2h0M130 311.2h0M133.5 297.7h0M122.1 304.5h0M123.1 286.2h0M138.7 288.9h0M116.8 295.6h0M117.9 309h0M119.1 288.9h0M121.8 316.8h0M121 292.3h0M120 317.6h0M137.9 293.2h0M128.6 277.6h0M124.7 302.2h0M134.3 291.8h0M136.3 286.3h0M128.9 315.7h0M137.1 288.2h0M123.8 292.4h0M130 282.7h0M120.6 300.2h0M120.9 309.3h0M135.8 298.2h0M123.1 292.4h0M128.3 304.3h0M134.8 294.7h0M121.1 299.9h0M116.5 310.6h0M125.8 302.8h0M118.9 307.4h0M139.2 301.5h0M135.1 282.1h0M118.6 309.4h0M133.6 282.1h0M117 295.9h0M138.1 281h0M138 285h0M137.4 281.5h0M123.3 281.9h0M120 293h0M124.8 311.7h0M121.7 308.2h0M131.5 287.9h0M142.3 293.3h0M130.9 295.5h0M124 292.2h0M125.4 315.1h0M130.9 280.7h0M120.8 309.2h0M142 294.3h0M116.4 314.7h0M133.4 288.6h0M115.1 313.3h0M129.1 311.7h0M131.6 281.2h0M122.2 316.1h0M124.7 314.9h0M118.3 302.1h0M132.6 301.3h0M136.7 281.2h0M118.7 307.6h0M144 287.8h0M119.5 303.2h0M121.8 302.4h0M120.2 290.3h0M142.4 283.2h0M127.9 298h0M124.5 286.1h0M128.5 309.9h0M122.2 315.7h0M132 286.2h0M129.8 312.5h0M136.3 291.3h0M133.8 288.7h0M139.1 284h0M128.6 308.8h0M113.5 310.6h0M119.7 313.6h0M122.3 309.8h0M120.3 293.9h0M128.4 278.7h0M130.5 303.5h0M117.3 311.4h0M125 313h0M120.8 316.7h0M123.8 295.4h0M121.1 314h0M132.5 289.3h0M130.9 295.5h0M116.3 310.2h0M137.7 294.6h0M123.4 278.8h0M136.2 286.7h0M124.4 305h0M120.4 291.4h0M140.8 287.2h0M137.6 305.5h0M123.6 302.6h0M129.7 309.7h0M129.3 297.3h0M145 288.5h0M125.1 310.9h0M119.9 314.6h0M119.9 316.4h0M133.8 278.2h0M126 289h0M131.7 297.4h0M124.3 303.4h0M136.6 278.5h0M142.4 285.5h0M141.8 287.5h0M140.5 299.7h0M115.7 315.6h0M117.9 294.2h0M120.9 300.2h0M139.2 292.2h0M130.7 286h0M140.8 292.9h0M120.6 297.2h0M125.4 302.6h0M129.4 280.8h0M122.3 291.1h0M126.4 303.4h0M139.9 295.2h0M124.9 311.6h0M122.8 285.1h0M127.7 308.3h0M124.3 308.2h0M135.3 299.7h0M130.6 280.1h0M133 308.1h0M121 318.9h0M127.6 311.7h0M137.1 294.4h0M120 315.7h0M121.8 285.3h0M126.2 285.7h0M117.8 314.7h0M118.4 300.3h0M131.5 288.2h0M130.4 286.9h0M137.4 293.4h0M129.1 295.3h0M126.3 297h0M126 287h0M128.4 303.4h0M131.9 294.2h0M118.3 295.6h0M132 287.3h0M138.6 302.6h0M129 309.1h0M122.7 284.3h0M117.2 304.9h0M127.1 300.2h0M137.6 300.3h0M130 302.9h0M129.2 312.8h0M116.1 309.1h0M121.1 305.3h0M137.3 276.9h0M122.1 282.7h0M134.4 306.1h0M123.3 283.6h0M126.7 308.7h0M123.6 292.7h0M133.8 295.3h0M135.8 290.6h0M127.6 302.7h0M128.1 308h0M116.9 304.5h0M127.8 307.8h0M123.5 316.6h0M134.1 306h0M122.9 287.6h0M115.4 302.5h0M121.6 298.9h0M141.8 292.5h0M120.8 288.7h0M130.5 296.3h0M141.6 290.8h0M122.3 314.4h0M118.9 305h0M130.5 287.9h0M135.8 304.6h0M133.4 299.1h0M136.7 280.5h0M124.6 287.7h0M124.8 283.9h0M135.7 277.6h0M124.5 286.8h0M135.8 291.3h0M122.7 293.2h0M127.1 301h0M121.6 309.1h0M124.5 284.8h0M119.1 303.5h0M134.4 306h0M129.2 284.2h0M121.6 307.5h0M137.3 291h0M119.8 291.8h0M140.5 297.2h0M126.3 305.4h0M124.8 286.7h0M118.8 285.2h0M132.7 293h0M127.2 277.9h0M126 285.9h0M135.1 300.3h0M127.3 309.6h0M130.2 292.7h0M141.3 289.5h0M131.7 285.5h0M127.4 312.8h0M118.8 301.5h0M117.3 316.8h0M131 291.3h0M129 289.3h0M124.3 293h0M126.7 302.3h0M127.9 304.7h0M122.7 298.9h0M119.1 301.3h0M132.2 279.6h0M129.8 304h0M117.6 314h0M117.8 299.7h0M143 286.9h0M142.8 292.4h0M123.7 291.9h0M122.9 295.3h0M141 283.2h0M117.4 293h0M125.4 282.5h0M127.4 310.3h0M115.2 308h0M120.7 308.4h0M119.4 296.1h0M120.8 308.6h0M113.1 312.9h0M136 302.1h0M119 303.1h0M131 306.2h0M125.1 305.1h0M124.6 285h0M120 313.4h0M123.3 295.2h0M126.8 289.4h0M118.5 301.6h0M137 300.3h0M117.5 291.8h0M124.4 295.1h0M133.7 295.9h0M131.9 282.6h0M120.3 306h0M129.5 307.1h0M127 276.4h0M123.9 292.5h0M119.4 311.6h0M130.3 312.1h0M119.4 290.5h0M138.9 294.3h0M131.2 296.2h0M126.4 295.3h0M126.7 282.6h0M132.7 282h0M128.2 300.7h0M131.7 302.5h0M118.8 317.4h0M121.7 289.4h0M123.2 307.1h0M123.6 290.1h0M121.8 313h0M133.9 299.6h0M135.9 288h0M136.2 293h0M129.1 311.8h0M123.5 315.4h0M117.8 312.4h0M121.3 288.5h0M138.5 294h0M137.1 289.1h0M133.7 300.7h0M125.4 289.7h0M121.9 305.7h0M134.9 298.9h0M123.1 297.8h0M133.7 312.2h0M121.3 304.6h0M128.6 282.6h0M128.4 301.9h0M117.7 310.1h0M137.5 292.3h0M142.9 300.6h0M137.4 300.5h0M128.1 278.8h0M140.5 295.4h0M118.5 303.9h0M139.8 294.6h0M117.8 299.9h0M119.6 294.7h0M117.3 304.8h0M134.8 293.4h0M135.7 303.2h0M129.3 287.8h0M114.5 312.3h0M124.3 304.8h0M136.7 290.8h0M130.5 301.4h0M126.5 303.6h0M130.8 301.2h0M129 304.4h0M139.2 295h0M134.1 279.8h0M118.8 317.1h0M122.6 304.3h0M138.7 299.1h0M133.6 298h0M128.4 315.7h0M132.5 286.9h0M133.9 280h0M123.3 279.7h0M123.2 306.1h0M140.2 298.6h0M121.5 305.4h0M131.6 302.4h0M124 299.7h0M124.1 286.6h0M126.5 294.1h0M138.4 284.7h0M124.7 291.6h0M144.2 292.3h0M123.7 302.6h0M138.5 278.2h0M140.2 301h0M137.3 301.5h0M136.8 292.7h0M123.1 297.9h0M140.5 287.7h0M118.7 295.2h0M142.6 284.8h0M140.8 287.9h0M142.2 284.1h0M120.9 316h0M122.9 281.3h0M121.3 316.2h0M122.7 286.8h0M119.2 306.3h0M117.9 312.9h0M119.7 279.3h0M131.3 309.8h0M139.7 282.4h0M129.2 297.4h0M135.7 300.7h0M123.8 284.3h0M128.6 282.6h0M117.6 312.3h0M139.3 284.8h0M138.5 300.3h0M134.1 305.6h0M138.8 300h0M115.9 309.4h0M129.9 295.1h0M133.6 298.4h0M138.5 297.7h0M129.3 294.7h0M129.5 284.8h0M132.1 302.5h0M138.4 300.2h0M121.3 293.6h0M127.4 307.8h0M120.8 307.8h0M130.8 277.9h0M121.6 293h0M134.3 284h0M141.5 285.5h0M122.6 291.5h0M127.6 283.7h0M124.2 303.8h0M129.7 288.9h0M126.2 313h0M138.7 289.2h0M141.5 292.7h0M121.6 305.2h0M113.2 310.7h0M134.4 287.8h0M125.9 299.5h0M127 280.9h0M133.8 290.2h0M134.1 292.3h0M124.5 291.3h0M136.2 280.1h0M137 303.6h0M117.6 297.2h0M136.3 279.7h0M133.5 302.1h0M131.6 282.6h0M118.7 295.3h0M121.8 305.7h0M136.4 304.6h0M134.1 297.7h0M114.6 316.9h0M129.4 308.8h0M121.4 300.4h0M122.2 282.4h0M129.6 293.4h0M123.5 285.2h0M135.4 289.8h0M142.3 298.3h0M126.3 307.4h0M125.4 282.3h0M142.3 287h0M134.4 306.7h0M115.5 311.9h0M132.1 277.9h0M120.7 312h0M125.3 297.6h0M114.1 312.7h0M124.7 305.4h0M120 281.2h0M127.4 304.4h0M128.4 303.3h0M136.1 303.3h0M118.3 315.1h0M123.7 298.8h0M131.7 306.1h0M124.6 287.3h0M124.7 289.4h0M121.2 317.5h0M135.2 284.2h0M141.4 294.8h0M118.5 295.7h0M139.9 288.8h0M126.6 313.1h0M120.1 317.9h0M124.9 302.7h0M127.3 297.4h0M126.3 311h0M137.2 307.3h0M121.8 301h0M127.7 307.8h0M133.2 299.5h0M134.4 300.8h0M127.4 302.7h0M123.9 289.5h0M128.7 313.1h0M121.2 306.6h0M122.6 310.3h0M130.7 309.2h0M126.5 290.7h0M142.3 288.8h0M125 306.7h0M124.5 308.3h0M121.1 295.5h0M126 307.5h0M123.6 296.3h0M129.6 308h0M124.3 292.8h0M116.4 316.5h0M138.6 282.9h0M122.5 314.7h0M119.5 309.9h0M123.6 287.7h0M134 308.2h0M142.6 287.2h0M120.3 308.8h0M118.7 309.8h0M116.6 314.3h0M125.6 310.1h0M135 289.3h0M122.5 282.7h0M136.5 287.1h0M137 301.4h0M142.1 286.4h0M123.7 294.6h0M130.4 291.1h0M132.2 292h0M128.9 282.6h0M141.7 290.2h0M134.5 303.1h0M133.6 308.3h0M117.2 307.6h0M133 287.2h0M136.4 295.7h0M126.2 296.6h0M134.3 282.8h0M129.7 286.5h0M141.9 290.1h0M125.1 310.7h0M132.8 307h0M124.3 292.4h0M140.3 291.5h0M119.2 295.4h0M128.4 312.8h0M130.1 306.1h0M133.3 310.9h0M129 312.8h0M116.6 315.1h0M127.8 302.5h0M125.9 295.2h0M120.2 305.8h0M138.8 295.6h0M127.5 295.8h0M131.3 299.6h0M122 302.1h0M137.7 302h0M127.2 281.9h0M125.4 303.9h0M136.9 299.4h0M129.9 287.9h0M130 305.3h0M131.2 289.5h0M127.6 305.6h0M119.7 307h0M137.8 280h0M133.5 291.8h0M127.1 310.1h0M138.5 280.5h0M134.7 289.8h0M128.9 312.5h0M120.4 297.3h0M128.4 298.7h0M126.8 312.4h0M131.9 282.8h0M122.5 307.9h0M129.5 304.8h0M119.3 304.9h0M140.8 296h0M130.9 295.1h0M125.8 280.2h0M135.7 284.2h0M124 296.7h0M129.5 311.6h0M127.1 315h0M125 285.1h0M136.5 290.7h0M140 285.1h0M136.7 280.4h0M126.8 310.4h0M136.5 283.6h0M120.6 312.7h0M135.4 283.9h0M119.8 293h0M142.2 293h0M139.2 304.1h0M123.2 305.3h0M128.2 293.1h0M129.5 285.5h0M123.4 293.5h0M134.5 298.4h0M141.9 292.2h0M127.2 296.7h0M132.9 311.1h0M132.3 279.4h0M116.4 310.6h0M133 302.4h0M123.8 311.9h0M119.8 302.6h0M123.9 290.7h0M136.1 304.9h0M114.8 310.7h0M142.1 289.9h0M132.4 309h0M133.2 302.7h0M123.7 278.6h0M123.5 299.3h0M126 281.2h0M122.9 298.6h0M122 308.8h0M132.9 299.2h0M140.2 293h0M138.4 287.7h0M135.3 301.7h0M139.4 286.8h0M128.1 300.9h0M133.6 304.4h0M133.3 303.2h0M123 310.8h0M128.9 297.3h0M125.8 310.9h0M138.9 298.3h0M122.1 278.1h0M126.2 312.4h0M142 298.2h0M141.7 295.3h0M128.6 297h0M125 314.3h0M128.2 306.6h0M129.8 294.2h0M138.3 283.3h0M116.6 298.9h0M121.2 295.1h0M127.7 293.6h0M136.9 296.6h0M139.6 284.4h0M128.8 284.2h0M125.2 282.5h0M137.2 302.5h0M143.7 286.6h0M131.7 285.4h0M134.3 304.9h0M121.6 307.2h0M118.7 288.9h0M132.8 283.1h0M118.5 290.1h0M120.7 302.1h0M115.6 310.2h0M130.8 311h0M123.4 290h0M142.5 294.1h0M143.1 284.3h0M117.3 307.3h0M125.3 312.4h0M131.6 305.8h0M131 288.9h0M119.9 287.9h0M119.6 317.7h0M124.8 305.7h0M127.5 288.2h0M132.4 289.4h0M129.3 287.8h0M124.4 293.8h0M136 284.5h0M136.3 287.9h0M141.2 283.4h0M133.9 295.8h0M141.2 283.2h0M119.7 287.6h0M134.5 295.2h0M128.6 297.4h0M143.3 284.7h0M136.2 284h0M126.6 312h0M130.9 288h0M123 317.2h0M133.5 293.8h0M134.7 277h0M134.2 281.8h0M123.6 305.2h0M134.5 299.5h0M120.2 298.7h0M132.2 282.8h0M117.6 307.1h0M127.4 286h0M129 280.5h0M134.4 294.1h0M125.9 312.4h0M118.8 301.6h0M143.8 286h0M137.7 287.7h0M141.7 293.7h0M139.2 288.5h0M133.5 292h0M140.6 293.8h0M119.8 296.3h0M132.6 288.1h0M135.3 290.2h0M135.4 309.5h0M133.1 303.9h0M132.9 307.6h0M121.9 301.5h0M120.5 295.6h0M129.1 306.1h0M128.5 311.3h0M139.3 292.4h0M117 317.8h0M134.5 304.4h0M136.6 293.2h0M140.9 294h0M130.6 292.3h0M130.8 297.5h0M118.2 296.7h0M137.9 285.4h0M140.6 290.6h0M127.2 312.8h0M122.5 316.2h0M144.8 288.5h0M117.7 316.5h0M127.2 294.6h0M138.6 301.5h0M140.1 296.6h0M130.5 303.6h0M131.6 283.6h0M136.9 294.1h0M134.3 308.9h0M134.5 295.3h0M127.9 305h0M122.2 289.3h0M131.4 285.2h0M133.1 297h0M122.7 311.2h0M123.1 309.8h0M127.9 303.1h0M125.3 283.8h0M136 277.3h0M130.1 292.3h0M130.1 299.2h0M122.8 308.3h0M141.2 298.7h0M124.5 286.1h0M121.4 283.5h0M122.3 282.7h0M145 288.8h0M126.6 292.4h0M129 296.8h0M119.9 280.9h0M135.7 300.9h0M128.7 283.2h0M127.7 309.4h0M139.9 298.7h0M131.6 305.7h0M121.5 284.7h0M134.1 297.9h0M123.1 290h0M131.3 289.2h0M128.5 290.4h0M119.6 307.7h0M120 316.6h0M129.9 299.7h0M121.3 305.3h0M137.9 290.2h0M131.9 282.5h0M137.5 288h0M117.3 309.5h0M125.8 311.1h0M127.1 286h0M126 314.3h0M142.6 288.2h0M135.9 301.4h0M132.6 287.7h0M124.5 283.7h0M118.9 293.8h0M120.9 305.9h0M127.7 287.1h0M122.7 283.3h0M118.7 292.8h0M121.2 302.6h0M128.6 296.7h0M114.4 315.9h0M126.4 317.7h0M126 299.9h0M138.4 291.3h0M135.2 294.9h0M132.7 296.6h0M140.3 286h0M133.9 291.5h0M121.6 296.1h0M131.7 280.6h0M130.4 294.9h0M129 282.9h0M128 282h0M135.8 290.7h0M132.9 289.6h0M123.6 313.1h0M132.1 286.7h0M121.7 298.6h0M124 297.4h0M116.7 311.7h0M129.3 286.6h0M128.9 287.7h0M123.5 296.2h0M116.4 319.4h0M136.3 301.7h0M116.8 294.6h0M119.5 286.3h0M132.9 306.3h0M132.2 290.6h0M132 290.6h0M135.8 306.2h0M131.4 307.1h0M114.4 313h0M129.9 283.8h0M126.2 300.7h0M116.6 316.6h0M120.8 295.1h0M132.9 293.2h0M138.3 286.7h0M138.3 292.9h0M128.6 293.2h0M125.6 294.6h0M127.7 312.4h0M135.7 277.5h0M126.7 287.1h0M129.6 279.7h0M134.5 285.2h0M128.7 314.9h0M118 299h0M129.7 284.7h0M143.5 299.4h0M131.8 291.6h0M121.5 294.5h0M126.8 289.2h0M142.1 283.6h0M138.6 286.5h0M125.3 290.9h0M138.1 302.2h0M136.6 295h0M114.2 305.2h0M128.6 299.4h0M118.5 314.8h0M132 289.6h0M131.3 285.2h0M124.1 316.4h0M124.8 307.3h0M143 285.5h0M130.5 298.7h0M112.8 308.4h0M138.4 295.3h0M128.1 289.8h0M134.4 298.4h0M130 298.2h0M120.3 319.7h0M122.2 306.5h0M118.1 288.9h0M136.2 303.4h0M108 320.5h0M130 303.4h0M121 302.5h0M127.6 295.9h0M133.4 293.1h0M120.7 285.8h0M123 304.6h0M130.9 310.2h0M135.9 281.1h0M137.5 286.2h0M130.4 284.5h0M130.2 309.2h0M122.3 300.3h0M109.5 322.3h0M134.9 290.8h0M133.5 294.2h0M136.5 291.3h0M122.6 309.6h0M143.7 310.7h0M120.1 297.5h0M136.1 307.3h0M117.2 286.8h0M119.3 290.7h0M116.3 289.5h0M114.5 318.2h0M121.7 308h0M118.3 308.5h0M122.7 290.6h0M137.3 296.7h0M114.8 309.6h0M144.8 285.5h0M127.7 285.8h0M135.8 301.3h0M121.5 303.2h0M137.8 282.3h0M118.9 314.9h0M121.9 309.1h0M129.4 298.5h0M144.6 312.1h0M124.2 303.2h0M128.2 302.3h0M130.6 308.4h0M122.2 312.2h0M103.2 299.9h0M123.5 300.2h0M104.1 301.9h0M108.2 302.2h0M125 292.1h0M118.8 305.4h0M120 298.6h0M124 291h0M118.4 302.4h0M139 291.7h0M135.2 313.2h0M132.8 303.4h0M138.5 297.9h0M126.1 325.5h0M127.8 319.3h0M122.5 292.1h0M124.1 288.7h0M125 289.5h0M136.2 319.3h0M133.6 302.9h0M125.4 326.3h0M131.9 300.9h0M124.8 322.5h0M110.7 315h0M133 305.4h0M143.4 308.5h0M101 327.4h0M130.4 293.3h0M132.4 310.4h0M106.5 320.4h0M133.1 304.1h0M134.6 297h0M139.6 285.9h0M130.7 301.8h0M128.6 284.1h0M120.1 287.8h0M129.9 299.2h0M140 308.2h0M128.8 294.7h0M120.8 311.4h0M128.2 306.6h0M124.6 283.6h0M138.1 297.5h0M98.9 326.7h0M130.1 300.6h0M115.8 296h0M141.5 304h0M120.2 299.4h0M118.9 299.2h0M127.5 294h0M124.1 298.5h0M111.5 300.8h0M142 291.1h0M128.5 294.5h0M126.3 292.4h0M135.5 287.4h0M119.7 295.6h0M134.2 306.3h0M120.8 299.3h0M131.4 297.1h0M121.6 310.9h0M112.2 301.1h0M128.1 280.1h0M121.4 291.4h0M140.2 290.6h0M117.7 292.2h0M126.3 321.6h0M127.4 279.9h0M129.3 305.1h0M117.5 303.4h0M134 323.4h0M134 307.3h0M105.9 289.9h0M128.5 291.2h0M128.4 311.5h0M123 288.7h0M132.1 288.9h0M129.4 297.3h0M110.3 307.5h0M109.1 321.9h0M116.9 316.4h0M116.5 304.5h0M119.3 311.2h0M134.9 282h0M137.8 292.9h0M137 297.7h0M125.3 312.4h0M139.1 299.3h0M125.8 298.7h0M114.9 311.3h0M123.4 319.5h0M120.9 308.2h0M133.9 296h0M137.3 288.2h0M142.2 295.4h0M133.3 307h0M134 288.6h0M129.9 292.2h0M142.3 291.2h0M136.1 292.9h0M132.7 314h0M109 300.5h0M123 285.5h0M128 280.3h0M125.9 312.7h0M115.8 299.4h0M135 297.4h0M115.6 298.7h0M125.9 302.8h0M112.4 318.4h0M120.6 301.1h0M123.6 300.5h0M133.6 310.7h0M121 301.8h0M118.6 308.9h0M140.4 283.9h0M109 322.7h0M114 297.5h0M124.7 298.6h0M124.8 304.4h0M133.9 303.3h0M123.3 288.8h0M122.5 317.8h0M124.2 284.6h0M152.1 298.4h0M129.7 308.4h0M140.5 320.3h0M125.6 311.6h0M135.5 303h0M124.9 307.5h0M105.7 300.9h0M122.5 289h0M127.5 302.7h0M118.7 304h0M119.4 291.7h0M120 300.7h0M133.5 326.1h0M137.6 282.3h0M126.8 280.7h0M128.7 305.8h0M135 302h0M121.8 299.4h0M117.7 325h0M132.1 305.8h0M118.5 311.6h0M136.9 287.5h0M119.5 314h0M128.2 294.8h0M117.5 310.9h0M126.9 297.2h0M132.7 294h0M121.9 300.9h0M144.9 299.5h0M122.9 306.3h0M132.5 281h0M117.8 296.1h0M124.5 286.5h0M130.7 299.2h0M125.6 297.3h0M129.9 309.1h0M140.5 260.8h0M139 301.2h0M127.7 300.6h0M124.4 314.8h0M133.2 292.7h0M135.8 293.8h0M128.4 313.9h0M104 315.8h0M113.4 324.1h0M107.8 339.1h0M109.4 327.9h0M110.4 336.3h0M102.6 340.6h0M117.2 329.7h0M116.1 336.9h0M128 314.2h0M103.4 340.7h0M105.6 331.8h0M102.4 333.4h0M122.9 330.7h0M127.8 326.8h0M117.1 329.2h0M89.9 329.2h0M112.6 338h0M104.4 335.8h0M127.2 333.8h0M116.1 335.5h0M102.3 330.6h0M117.1 336.1h0M120.4 332.8h0M118.1 332.4h0M112.3 331.9h0M96.6 330.2h0M121.1 314.7h0M77.2 340.2h0M99.8 332.6h0M117.9 322.9h0M87.7 333.9h0M126.5 327.8h0M107.6 334.4h0M125.9 325.9h0M106.6 318.7h0M103.9 325.9h0M115.4 320.3h0M126 318.1h0M123.7 303.7h0M126.4 307.8h0M131.4 303.9h0M126.8 314.9h0M130.4 320.2h0M115.2 311.9h0M116.6 308.5h0M125.6 304.3h0M125.3 300.5h0M116.6 309.2h0M118.8 306.7h0M118.5 314.9h0M106.1 325.2h0M118.9 325.4h0M110.6 320.7h0M122 312h0M121.2 310.5h0M112.6 320.1h0M121.8 315h0M114.3 309.5h0M130.7 304.3h0M129.5 316.5h0M116 300.1h0M114 319.2h0M102.5 313.2h0M107.3 317.9h0M116.3 328.3h0M127.6 316.4h0M110.3 308.4h0M108.7 304.9h0M110.6 308.4h0M115.2 328.9h0M124.5 301.2h0M113.5 310h0M132.4 323.6h0M108.5 307.9h0M117.7 305.2h0M100.4 331h0M116.2 309.2h0M120.9 312.8h0M113 317.6h0M125.2 305.1h0M121.6 318h0M130.9 314h0M105.7 311.5h0M104.7 316.7h0M118.2 307.8h0M132 328.8h0M121.7 315.8h0M112.1 317.5h0M125.1 302.9h0M130.4 300.4h0M126.6 304.8h0M105.4 319.9h0M121.8 325.7h0M122 311.4h0M122.1 306.7h0M120.6 320.4h0M113 326.6h0M118.9 306.8h0M130.2 305.3h0M95.2 325.2h0M119 323h0M115.2 349.8h0M126.2 317.2h0M99.3 312.9h0M113.8 315.3h0M105.7 327.8h0M124.8 326.7h0M119.4 317.1h0M111.8 318.5h0M105.8 319.7h0M129.7 319.3h0M107.8 306.2h0M122.2 311.1h0M117.8 325.9h0M116.9 327.6h0M113.8 320.7h0M114.1 310.5h0M110.7 338.7h0M123.9 323.9h0M118.1 323.1h0M119.7 320.7h0M106 310.9h0M119.8 321h0M114.6 315h0M115.1 317.4h0M122.3 306.5h0M111.3 303.4h0M116.3 320.4h0M109.8 321.4h0M115 320.1h0M107.5 316.4h0M106.3 319.8h0M127 299.1h0M131.9 308.4h0M123.9 306h0M128.5 304.1h0M106.3 325.5h0M108.9 324.5h0M120.7 305.1h0M125.4 312h0M126 328.4h0M120 308.5h0M113.9 306.8h0M122.5 315.6h0M120.7 326.1h0M117.2 312.2h0M93.6 295h0M116.8 315.9h0M120.8 312h0M109.7 315.4h0M115.9 313.2h0M129.1 320.8h0M115.3 313.3h0M134.5 314.7h0M114.2 319.4h0M118.7 306.9h0M101.1 324.6h0M132.3 314.4h0M127.2 310.9h0M96.8 325.1h0M131.5 313.8h0M124.2 336.4h0M116.6 318.7h0M120.9 305h0M119 316.8h0M119.6 307.3h0M122.9 331.7h0M119.4 324.7h0M105.9 331.2h0M128.1 303.7h0M108.3 318.7h0M116.6 330.1h0M103.5 334.5h0M112.9 313.4h0M125.2 309.1h0M172.5 283.6h0M155.1 280.1h0M153.5 283h0M148 282.7h0M151.4 279.4h0M163.3 294.3h0M169 282h0M163.4 286.2h0M152.8 285.4h0M155.6 285.4h0M152.3 295.6h0M185.4 283.7h0M153.9 290.7h0M153.4 284.8h0M161 284.6h0M147.8 291.1h0M154.9 279.3h0M157.4 279.7h0M161.6 278.9h0M157.7 286.9h0M149.1 284.1h0M157.8 287.9h0M166.3 282.3h0M159 295.9h0M165.8 289.2h0M161.2 283.9h0M159.2 283.6h0M167.8 279.1h0M147.4 287.8h0M160.6 279.8h0M151.9 281.9h0M156.1 280.7h0M163.2 295.6h0M162.5 283.5h0M164.4 281.7h0M149.3 288.5h0M145.4 292.1h0M153.2 283.4h0M142.4 272.8h0M134.4 268.3h0M140.4 265h0M135.3 273.6h0M142.4 260.1h0M140.5 264.8h0M137.3 269.7h0M138 258.4h0M139.2 270.6h0M140 259.2h0M131.5 275.8h0M139.4 253.5h0M142.9 265.1h0M143 265h0M136.8 259h0M135.8 269.3h0M136.6 260.6h0M142.6 260.5h0M143 267.4h0M142.7 269.6h0M142 268.9h0M134.9 254h0M141.2 267h0" stroke="#e8161f" stroke-width="2.0" stroke-linecap="round" fill="none" opacity="1.0"/>
<path d="M229.1 179.6h0M231 182.4h0M214.5 197.5h0M214 200h0M221.4 198.6h0M207.6 207.4h0M210 206h0M205 216.5h0M202 226h0M200.7 235.9h0M197 235h0M187 245h0M186 252.6h0M183 253h0M146.7 203.8h0M185 210.3h0M157 229.5h0M161.7 226h0M165 224.5h0M143.8 240h0M137 257.4h0M102 266.5h0M179.3 262.9h0M176 262h0M183 269.5h0M180 268h0M76.5 292h0M98.7 299.2h0M86 336.2h0M81.3 342.2h0M99.2 342.2h0M113 342.2h0M117 341.3h0M132.7 358h0M154 300.2h0M149 307.5h0" stroke="#d41c32" stroke-width="2.1" stroke-linecap="round" fill="none" opacity="1.0"/>
<text x="202" y="181.6" font-size="5.3" fill="#2e2e2e" text-anchor="start">FCGR1B</text>
<text x="235.5" y="184.2" font-size="5.3" fill="#2e2e2e" text-anchor="start">FCGR1A</text>
<text x="191.2" y="198.3" font-size="5.3" fill="#2e2e2e" text-anchor="start">DNAJU1</text>
<text x="228.6" y="200.1" font-size="5.3" fill="#2e2e2e" text-anchor="start">HIST1H2BE</text>
<text x="218.8" y="208.7" font-size="5.3" fill="#2e2e2e" text-anchor="start">FGFR3</text>
<text x="214" y="219.0" font-size="5.3" fill="#2e2e2e" text-anchor="start">F13B</text>
<text x="211" y="227.7" font-size="5.3" fill="#2e2e2e" text-anchor="start">RPLP2P1</text>
<text x="207.2" y="237.7" font-size="5.3" fill="#2e2e2e" text-anchor="start">DDX25</text>
<text x="194.1" y="246.6" font-size="5.3" fill="#2e2e2e" text-anchor="start">LINC02511</text>
<text x="193.8" y="254.4" font-size="5.3" fill="#2e2e2e" text-anchor="start">AXIN2</text>
<text x="153.3" y="205.3" font-size="5.3" fill="#2e2e2e" text-anchor="start">ZRSR2P1</text>
<text x="159" y="211.6" font-size="5.3" fill="#2e2e2e" text-anchor="start">ADRA2B</text>
<text x="125.4" y="241.9" font-size="5.3" fill="#2e2e2e" text-anchor="start">RGS11</text>
<text x="107.2" y="259.2" font-size="5.3" fill="#2e2e2e" text-anchor="start">CRHR2</text>
<text x="109.3" y="268.3" font-size="5.3" fill="#2e2e2e" text-anchor="start">PSD3</text>
<text x="186.5" y="264.7" font-size="5.3" fill="#2e2e2e" text-anchor="start">C14orf37</text>
<text x="189.3" y="271.6" font-size="5.3" fill="#2e2e2e" text-anchor="start">FAM136P</text>
<text x="68.5" y="301.0" font-size="5.3" fill="#2e2e2e" text-anchor="start">ARHGDIG</text>
<text x="97.3" y="297.6" font-size="5.3" fill="#2e2e2e" text-anchor="start">PAX5</text>
<text x="94.8" y="308.8" font-size="5.3" fill="#2e2e2e" text-anchor="start">MYC</text>
<text x="90.4" y="322.6" font-size="5.3" fill="#2e2e2e" text-anchor="start">TUR6</text>
<text x="64.6" y="338.0" font-size="5.3" fill="#2e2e2e" text-anchor="start">GATA6</text>
<text x="86.7" y="344.1" font-size="5.3" fill="#2e2e2e" text-anchor="start">IL6</text>
<text x="123" y="344.0" font-size="5.3" fill="#2e2e2e" text-anchor="start">CXCL10</text>
<text x="102" y="359.8" font-size="5.3" fill="#2e2e2e" text-anchor="start">AC090984</text>
<text x="171.4" y="290.4" font-size="5.3" fill="#2e2e2e" text-anchor="start">HSPA1B</text>
<text x="170.2" y="296.0" font-size="5.3" fill="#2e2e2e" text-anchor="start">HSPA6</text>
<text x="161.3" y="302.0" font-size="5.3" fill="#2e2e2e" text-anchor="start">MYT1</text>
<text x="155.7" y="309.3" font-size="5.3" fill="#2e2e2e" text-anchor="start">ADM</text>
<text x="147.2" y="320.2" font-size="5.3" fill="#2e2e2e" text-anchor="start">IL20RA</text>
<text x="147.2" y="338.3" font-size="5.3" fill="#2e2e2e" text-anchor="start">AL139317.3</text>
<text transform="translate(170.7,222.8) rotate(-22.6)" y="1.8" font-size="5.3" fill="#2e2e2e" text-anchor="start">ATP10B</text>
<text transform="translate(74.9,258) rotate(39.5)" y="1.8" font-size="5.3" fill="#2e2e2e" text-anchor="start">GOLGA6L6</text>
<text transform="translate(42.9,299) rotate(-9)" y="1.8" font-size="5.3" fill="#2e2e2e" text-anchor="start">AL441883.1</text>
<path d="M224.5 179.7L227 179.7" stroke="#444" stroke-width="0.6"/>
<path d="M232 182.4L234.5 182.4" stroke="#444" stroke-width="0.6"/>
<path d="M209.5 196.8L212 196.8" stroke="#444" stroke-width="0.6"/>
<path d="M224.2 198.4L226.7 198.4" stroke="#444" stroke-width="0.6"/>
<path d="M214.5 207L217 207" stroke="#444" stroke-width="0.6"/>
<path d="M210.5 217.3L213 217.3" stroke="#444" stroke-width="0.6"/>
<path d="M207 226L209.5 226" stroke="#444" stroke-width="0.6"/>
<path d="M203.5 236L206 236" stroke="#444" stroke-width="0.6"/>
<path d="M190.5 244.9L193 244.9" stroke="#444" stroke-width="0.6"/>
<path d="M190.2 252.7L192.7 252.7" stroke="#444" stroke-width="0.6"/>
<path d="M149.5 203.6L152 203.6" stroke="#444" stroke-width="0.6"/>
<path d="M179.8 209.9L182.3 209.9" stroke="#444" stroke-width="0.6"/>
<path d="M167 223.3L169.3 222.3" stroke="#444" stroke-width="0.6"/>
<path d="M141 240.2L143 240.2" stroke="#444" stroke-width="0.6"/>
<path d="M126.8 257.5L129.3 257.5" stroke="#444" stroke-width="0.6"/>
<path d="M131 257.5L133.5 257.5" stroke="#444" stroke-width="0.6"/>
<path d="M105 266.6L107.5 266.6" stroke="#444" stroke-width="0.6"/>
<path d="M182.8 263L185.3 263" stroke="#444" stroke-width="0.6"/>
<path d="M185.2 269.9L187.7 269.9" stroke="#444" stroke-width="0.6"/>
<path d="M71.8 293.4L74.3 293" stroke="#444" stroke-width="0.6"/>
<path d="M93.3 299.3L95.8 299.3" stroke="#444" stroke-width="0.6"/>
<path d="M109.5 295.9L112 295.9" stroke="#444" stroke-width="0.6"/>
<path d="M105.8 307.1L108.3 307.1" stroke="#444" stroke-width="0.6"/>
<path d="M102.5 320.9L105 320.9" stroke="#444" stroke-width="0.6"/>
<path d="M80.6 336.3L83 336.3" stroke="#444" stroke-width="0.6"/>
<path d="M95 342.4L97.5 342.4" stroke="#444" stroke-width="0.6"/>
<path d="M119.5 342.3L122 342.3" stroke="#444" stroke-width="0.6"/>
<path d="M127.5 358.1L130 358.1" stroke="#444" stroke-width="0.6"/>
<path d="M167.8 288.7L170.3 288.7" stroke="#444" stroke-width="0.6"/>
<path d="M166.6 294.3L169.1 294.3" stroke="#444" stroke-width="0.6"/>
<path d="M157.5 300.3L160 300.3" stroke="#444" stroke-width="0.6"/>
<path d="M151.9 307.6L154.4 307.6" stroke="#444" stroke-width="0.6"/>
<path d="M144.5 336.6L146.5 336.6" stroke="#444" stroke-width="0.6"/>
<text x="54.9" y="291.8" font-size="8.6" font-weight="bold" text-anchor="middle">-5</text>
<text x="90.6" y="291.8" font-size="8.6" font-weight="bold" text-anchor="middle">-3</text>
<text x="162.0" y="291.8" font-size="8.6" font-weight="bold" text-anchor="middle">1</text>
<text x="197.8" y="291.8" font-size="8.6" font-weight="bold" text-anchor="middle">3</text>
<text x="233.4" y="291.8" font-size="8.6" font-weight="bold" text-anchor="middle">5</text>
<text x="138.4" y="191.7" font-size="8.6" font-weight="bold" text-anchor="end">5</text>
<text x="138.4" y="227.4" font-size="8.6" font-weight="bold" text-anchor="end">3</text>
<text x="138.4" y="263.1" font-size="8.6" font-weight="bold" text-anchor="end">1</text>
<text x="138.4" y="334.5" font-size="8.6" font-weight="bold" text-anchor="end">-3</text>
<text x="138.4" y="370.2" font-size="8.6" font-weight="bold" text-anchor="end">-5</text>
<text x="118" y="389.8" font-size="8.9" font-weight="bold" fill="#333" textLength="52" lengthAdjust="spacingAndGlyphs">Combination (LFC)</text>
<text transform="translate(34.6,300.7) rotate(-90)" font-size="8.2" font-weight="bold" fill="#333" textLength="41.4" lengthAdjust="spacingAndGlyphs">AZD5153 (LFC)</text>
<text x="358.7" y="165.4" font-size="8.8" fill="#222">Combo vs Acalabrutinib</text>
<path d="M371 267.6h0M347 289.3h0M370 295.5h0M332.5 303.8h0M413 261h0M428.5 258.3h0M453 262.7h0M407 291.6h0M409.5 292.5h0M452 284h0" stroke="#3d4fa9" stroke-width="2.0" stroke-linecap="round" fill="none" opacity="1.0"/>
<text x="378" y="258.1" font-size="5.3" fill="#2e2e2e" text-anchor="start">PAX5</text>
<text x="350" y="269.3" font-size="5.3" fill="#2e2e2e" text-anchor="start">RTP4</text>
<text x="319.5" y="291.1" font-size="5.3" fill="#2e2e2e" text-anchor="start">GATA6</text>
<text x="343" y="297.3" font-size="5.3" fill="#2e2e2e" text-anchor="start">COLCA1</text>
<text x="338.8" y="305.6" font-size="5.3" fill="#2e2e2e" text-anchor="start">AL441883.1*</text>
<text x="378" y="305.6" font-size="5.3" fill="#2e2e2e" text-anchor="start">IL10</text>
<text transform="translate(420,258.3) rotate(-24.7)" y="1.8" font-size="5.3" fill="#2e2e2e" text-anchor="start">MAG12</text>
<text transform="translate(434.8,257.7) rotate(-15)" y="1.8" font-size="5.3" fill="#2e2e2e" text-anchor="start">FAM46A</text>
<text transform="translate(459.8,260.2) rotate(-24.6)" y="1.8" font-size="5.3" fill="#2e2e2e" text-anchor="start">UNC5CL</text>
<text transform="translate(476.2,258.3) rotate(41)" y="1.8" font-size="5.3" fill="#2e2e2e" text-anchor="start">FCGR1B</text>
<text transform="translate(426.5,292.4) rotate(-16)" y="1.8" font-size="5.3" fill="#2e2e2e" text-anchor="start">DNAH10</text>
<text transform="translate(415.6,294.7) rotate(11)" y="1.8" font-size="5.3" fill="#2e2e2e" text-anchor="start">GNRH1</text>
<path d="M364.5 267.6L367 267.6" stroke="#444" stroke-width="0.6"/>
<path d="M337 289.4L339.5 289.4" stroke="#444" stroke-width="0.6"/>
<path d="M341 289.4L343.5 289.4" stroke="#444" stroke-width="0.6"/>
<path d="M366 295.6L368.5 295.6" stroke="#444" stroke-width="0.6"/>
<path d="M334.5 303.9L337 303.9" stroke="#444" stroke-width="0.6"/>
<path d="M374.5 303.9L377 303.9" stroke="#444" stroke-width="0.6"/>
<path d="M415.6 259.2L418.5 257.5" stroke="#444" stroke-width="0.6"/>
<path d="M455.5 261.8L458.5 260.6" stroke="#444" stroke-width="0.6"/>
<path d="M492.5 274L495.5 276.5" stroke="#444" stroke-width="0.6"/>
<path d="M445 285.8L448 284.8" stroke="#444" stroke-width="0.6"/>
<path d="M411.5 293L414 293.6" stroke="#444" stroke-width="0.6"/>
<path d="M384 259L384 268" stroke="#444" stroke-width="0.6"/>
<g stroke="#111" stroke-width="1.3" fill="none">
<path d="M404.5 173.6V381.5M301 278.1H509"/>
<path d="M310.2 278.1v4.4M404.5 372.4h-4.6"/>
<path d="M347.9 278.1v4.4M404.5 334.7h-4.6"/>
<path d="M385.6 278.1v4.4M404.5 297.0h-4.6"/>
<path d="M423.4 278.1v4.4M404.5 259.2h-4.6"/>
<path d="M461.1 278.1v4.4M404.5 221.6h-4.6"/>
<path d="M498.8 278.1v4.4M404.5 183.9h-4.6"/>
</g>
<path d="M449.1 278.6h0M424.9 281.8h0M367.5 272.3h0M459.3 279.3h0M380.9 280.7h0M454.5 274.8h0M413.5 275.6h0M392 275.8h0M442.6 275.7h0M443 279.1h0M442 279.9h0M413.1 269.2h0M365.4 280.8h0M447.6 275h0M448.5 275.6h0M396.7 279.8h0M368.9 275.2h0M394.5 266.1h0M380.9 272.6h0M431.5 274.4h0M412.5 271.9h0M383.2 275.6h0M412.7 269.7h0M405.5 267.3h0M439.5 274h0M452.2 273.7h0M452.9 273.7h0M412.9 265.7h0M427.2 272.4h0M379.5 273.7h0M398.1 271.7h0M363.8 276.2h0M379.9 281h0M360.9 277.7h0M440.6 273.8h0M415.2 269.5h0M380.6 283.4h0M426.3 270h0M408 270.9h0M378.2 272.4h0M373.1 275.9h0M367 278.4h0M387.3 280.1h0M435.1 273.4h0M387.8 279.8h0M437 272.5h0M392 276.9h0M464.9 274.7h0M440.5 274.7h0M426.5 281.3h0M391.6 277h0M411.4 268.3h0M468 275.4h0M470.4 278.6h0M390.1 280h0M389.4 280.9h0M428.4 273.5h0M448.1 274.6h0M376.6 282.1h0M394.8 268.4h0M373.4 284.2h0M398.5 269.4h0M418.7 274.5h0M460.3 273.9h0M440.5 278h0M438.2 276.8h0M362.1 275.4h0M371.5 274.9h0M435.7 271.5h0M453.5 278h0M394.2 278.8h0M406.6 269.7h0M376.4 286.8h0M467.2 276.6h0M401.4 270.8h0M384.5 274.4h0M376.2 284.6h0M430.1 281.4h0M430.9 273h0M425.9 269.1h0M381.7 286.8h0M439.7 276.4h0M377.5 276.8h0M436.8 273.6h0M366.6 276.6h0M374.2 285.3h0M390.3 283.9h0M380.4 278.5h0M373 281.1h0M379.4 274h0M412.5 266.9h0M445.5 279h0M454.6 274h0M437.9 277.4h0M372 279.4h0M397.8 269.8h0M381.7 272.9h0M417.7 272.7h0M437 269.1h0M369.7 273.7h0M383.4 270.3h0M366.3 278.1h0M387.3 279.6h0M414.2 274.2h0M451.5 272.3h0M376.8 283.1h0M446.1 272.2h0M366.5 273.1h0M420.7 271.5h0M463 275.3h0M441.7 269.9h0M451.6 276.2h0M411.9 277.4h0M421.3 282.1h0M432.5 275.4h0M398.7 272.3h0M446.4 271.1h0M440.9 274.4h0M466.1 276.9h0M394.7 279.5h0M406.6 266.3h0M441.2 270.6h0M441.8 279.1h0M394.6 269.5h0M441.2 271.2h0M442 271.1h0M365.3 273.8h0M431.8 270.3h0M395.7 276.4h0M393 268.6h0M386.1 272h0M465.6 277.5h0M423 275.2h0M396.8 272.6h0M440.1 279h0M371 278.8h0M443.5 280.5h0M457.8 275.3h0M411.7 275.1h0M397.9 275.2h0M388.9 275.1h0M411.4 263.5h0M478.2 277.6h0M478.6 277.2h0M382.3 279.7h0M447.1 278.2h0M362.3 276.8h0M368.2 276.4h0M436.8 280.4h0M364.2 278.3h0M377.8 279.6h0M393.1 266.8h0M446.3 275.4h0M394.7 274.5h0M415.9 264.4h0M419.3 273.4h0M457.3 274.8h0M439.1 274.2h0M396.8 266h0M416.5 273.8h0M450.3 276.3h0M445.4 273.7h0M427.5 273.9h0M384.1 280.7h0M449.3 278.2h0M374.7 274.8h0M424 273.1h0M464.2 273.8h0M367.9 278.2h0M433 270.1h0M416 266.8h0M414.5 264.6h0M442 271.7h0M426.5 277.4h0M361.4 278.7h0M401.6 269.9h0M414 281.5h0M428.5 274.6h0M370.1 279.4h0M414 266.4h0M376.1 282.2h0M410.2 265.6h0M398.6 271.7h0M395.1 271.6h0M446.7 273.8h0M392.6 282.1h0M426.3 270.9h0M417.1 280.3h0M423.8 279.5h0M436.1 272.5h0M372.5 275.5h0M383 286.3h0M433.9 275.8h0M386.6 274.2h0M395.1 274.1h0M416.3 280.3h0M449.4 278.1h0M383.1 274.5h0M399 284.3h0M368.7 282h0M455.6 274.9h0M388.8 270.6h0M458 275h0M410.9 278.7h0M368.3 275.9h0M430.4 273.9h0M424.3 272.1h0M372.4 282.4h0M457.6 275.1h0M377.4 282.9h0M424.3 265.4h0M404.3 283.6h0M369.7 273.4h0M377.1 278.4h0M433.9 278.4h0M401.1 283.6h0M390.5 274.8h0M423.2 277.4h0M403.3 265.9h0M382.8 274.8h0M417.5 266.3h0M403.1 284.1h0M376 271.9h0M425.2 277.5h0M381 272.9h0M422.1 279.3h0M411 277.1h0M362.8 276h0M429 276.4h0M378.6 273.2h0M429.7 277.7h0M383 269.7h0M431.8 275.8h0M459.4 275.1h0M388.7 280.3h0M368.2 278.7h0M381.5 275.1h0M444.8 271.8h0M362.2 279.7h0M410.5 264.7h0M445.1 275.8h0M438.1 271.6h0M446.7 278.5h0M409.2 266.9h0M401.2 289h0M440.5 274.5h0M423.1 273.8h0M377.1 279.6h0M419.5 281.5h0M386 277.7h0M426.2 280.5h0M362.2 275.5h0M425.2 269.4h0M376.5 284.5h0M399.6 271.1h0M418.9 266.7h0M439.2 272.8h0M431.1 271.5h0M384.4 278.6h0M381.1 281h0M377.8 275.5h0M378.5 279.4h0M445.8 272.3h0M426.7 277.4h0M435.8 272.3h0M366.6 278.5h0M426.2 274.9h0M391.1 270.3h0M446.9 273.4h0M448.7 271.9h0M425 278h0M441.8 275.8h0M438.3 276.6h0M452 278.7h0M404.6 270.4h0M423.6 271.2h0M425.3 267.8h0M420.6 275.1h0M395.8 276.2h0M427.1 266.6h0M444.9 278.1h0M389.9 276.9h0M432.8 272.6h0M402.6 271.7h0M396.4 265.7h0M366.2 275.5h0M428.9 274.1h0M380.9 272.4h0M393.4 280.4h0M428.9 277.6h0M375.6 275.1h0M423.1 278.9h0M364.2 274.6h0M438.6 273.5h0M444.4 274.6h0M434.4 278.2h0M421.7 276.4h0M417.9 272.6h0M373.2 281.6h0M429.5 276.3h0M442.6 275.8h0M425.6 272.9h0M444.9 276h0M423.5 273.7h0M436.9 274.1h0M436.2 277.2h0M370.8 277.2h0M400.2 272.4h0M448 278.9h0M401.8 267.7h0M398 271.2h0M422.1 271.4h0M430.5 275.5h0M381.4 280.4h0M406.4 268.7h0M383.7 286.4h0M432.9 274.7h0M381 277.1h0M381 271.6h0M384.6 271.7h0M388.5 285.6h0M389.2 274.1h0M461.8 273.4h0M424.4 268.2h0M439.7 271.9h0M411.3 266.2h0M368.2 280.1h0M443.9 271.2h0M459.8 278.8h0M387.7 272.2h0M364 279.5h0M416.8 282.8h0M374.7 280.1h0M449.5 275.4h0M388.2 274.1h0M404 266.1h0M424.1 265.2h0M418.4 271.5h0M447.3 272h0M387.2 276.1h0M424.2 273.5h0M361.9 275.2h0M422.3 281.5h0M386.7 278.3h0M463.9 275.5h0M371.3 280.4h0M387.8 271.4h0M392.6 279.5h0M367.7 275.7h0M450.9 273.5h0M398.7 269.1h0M391.1 267.4h0M468.1 277.1h0M450.8 272h0M409.4 267.1h0M385.4 274.2h0M406.7 268.5h0M396.9 278.3h0M386.5 280.6h0M393.2 267.6h0M378.8 285.3h0M419.4 266h0M420.1 278.6h0M437.3 270.7h0M369 277.2h0M447.2 273.6h0M367.9 273h0M393.3 284h0M385.4 273.4h0M440.9 272.4h0M419.9 274.6h0M375 277.9h0M363.1 279.3h0M442.5 273.9h0M428.8 276.2h0M437.3 269.5h0M380.2 281.5h0M368.8 273h0M387.7 281.8h0M412.1 274.5h0M422.3 282.5h0M397.2 276.5h0M409.8 264.1h0M372.3 280.8h0M374 282.6h0M395.4 271.5h0M398.1 278.3h0M359 278.9h0M423.4 270h0M373.1 277.2h0M411.7 268.3h0M445.5 275.4h0M426.8 279.6h0M416.8 266.5h0M421.3 265.9h0M430.9 273.1h0M397.6 277.1h0M415 262.9h0M375.4 280.8h0M380 278.6h0M371.2 275.8h0M384.4 282.3h0M441.6 277.6h0M438.2 269.2h0M446.8 278.9h0M379 282.6h0M367 273.8h0M450.5 280.2h0M440.3 278.3h0M455.5 278.7h0M380 284h0M444.4 271.3h0M438 270.8h0M373.5 281.9h0M377.3 273.5h0M376.7 269.4h0M377.9 283.8h0M392.3 276.1h0M375.2 281.3h0M434.3 275.5h0M380.4 285.4h0M440.9 280.6h0M381.9 275.8h0M397.6 278h0M394.7 276.2h0M436.1 266.4h0M416.3 271.5h0M436 272.4h0M420.1 273.7h0M398.6 283.5h0M429.9 281.1h0M424.2 272.7h0M393.1 282.2h0M436.9 276.6h0M378 275.6h0M370.3 281.8h0M387.7 268h0M416.3 278.8h0M373.1 276.5h0M455.1 275.8h0M396.1 276.7h0M432.7 279.8h0M409.7 265.4h0M427.3 279.3h0M385.7 272.7h0M389.3 268.1h0M435 273.4h0M428.5 271.4h0M397.6 279.8h0M423.6 273.7h0M394.7 281.8h0M417.8 280.3h0M432.8 274.6h0M443.9 270.7h0M429.4 272.6h0M391.1 277.6h0M394.1 275.4h0M362.6 276.8h0M386.4 285.4h0M394.3 269.3h0M431.6 269.7h0M381 273.5h0M424.2 280.5h0M393.4 279.6h0M424.6 276h0M366.7 278.2h0M388.1 271.9h0M390.4 281.5h0M417.8 274.2h0M416.1 273.5h0M419.6 269.2h0M369.7 282.3h0M427.5 278.2h0M410.9 280.7h0M371.9 275.4h0M452.7 275.8h0M417.7 277.7h0M373.2 277.6h0M442.8 274.7h0M434 278.1h0M443.8 279.2h0M382.1 270.1h0M371.4 275.1h0M438.6 274.5h0M375.2 279.7h0M414.2 266h0M409 264.7h0M431.3 279.2h0M389.9 279.2h0M470.8 278.3h0M423.8 283h0M393.2 279.5h0M366.1 277.7h0M463.2 274.6h0M434.9 268.1h0M447.5 279.4h0M445.2 279.7h0M446.6 273.2h0M405.8 269.1h0M439.4 285.2h0M369.7 283.3h0M383.6 285.3h0M414.9 264.1h0M381.9 287h0M388.2 271.5h0M407.7 272h0M413.7 280.9h0M410.1 269.2h0M391.1 283.8h0M375.2 274.1h0M358.2 276.2h0M435.8 273.2h0M399.7 283.8h0M458.2 274.2h0M408 267.5h0M416 273.2h0M423.1 267h0M463.6 275.3h0M428.5 269.3h0M396.3 272.5h0M371 279.6h0M377.1 276.1h0M404 271.7h0M428.1 270.5h0M377.2 274.2h0M396.1 279.7h0M427.5 267.3h0M420.3 263h0M379.9 280.5h0M433.6 273.5h0M416.4 278.6h0M440.1 279.3h0M456.7 277.9h0M377 282.2h0M461.8 276.7h0M423.1 274.6h0M387.9 285.2h0M436.1 274.7h0M364.7 276.3h0M396.9 276.2h0M429 274.4h0M378.7 281.5h0M439.4 277.4h0M361.8 275h0M469.1 275.4h0M454.7 272.8h0M414.2 269.3h0M367 276.8h0M373.2 279.5h0M388.3 269.2h0M382.5 277.6h0M368.5 274.2h0M420.4 280.9h0M398.9 265.7h0M425.7 275.2h0M441.9 275.2h0M451.9 277.7h0M385.4 286.7h0M392.5 279.2h0M421.5 282.5h0M381.7 277.2h0M430.8 277.4h0M437.1 278.2h0M426.8 269.6h0M388.4 278.3h0M414.7 267.7h0M451.4 279h0M365.6 274.9h0M432.8 273.3h0M387 282h0M460.7 277h0M391.1 284.1h0M402.6 272.2h0M421.9 279.1h0M366.5 277.3h0M426.2 272.9h0M480.4 278.4h0M390.9 277.6h0M431.7 266.2h0M414 275.1h0M430.8 269.1h0M435.3 272.7h0M415.2 281.2h0M471.1 277h0M447.9 278.3h0M433.8 279.6h0M367.6 275.6h0M389.2 272.9h0M447.4 272.5h0M375.2 277.3h0M377.1 285.8h0M449.1 275.1h0M435 270.4h0M435.6 264.9h0M419.9 271.2h0M434.4 275.1h0M429.7 280.8h0M452.1 277.2h0M428.7 267.9h0M418.1 270.1h0M402.1 265.1h0M431.6 274.8h0M445.4 280.2h0M382.3 277.1h0M440.3 272.9h0M372.2 273.2h0M434 271.7h0M420 270.1h0M382.6 280.2h0M386.4 283.9h0M436.4 273.4h0M389.2 268.3h0M408.6 264.6h0M384.9 284.4h0M422.6 274.2h0M389.2 279h0M383.2 279.9h0M365.9 277.9h0M384.2 273.6h0M411 280.6h0M423.9 273.3h0M424.3 275.7h0M437.2 275.7h0M417.4 275.5h0M446.1 279.4h0M452.9 277.2h0M386.2 284.1h0M424 280.7h0M442.2 269.7h0M459 277.2h0M432.9 279.8h0M445.8 277.1h0M377.2 274.2h0M369.7 276.8h0M379.1 282h0M397.1 282.4h0M382.8 273.1h0M438.3 278.3h0M374.1 285.4h0M377.8 270.2h0M381.5 278.3h0M360.4 276.7h0M435.1 280.1h0M382.4 283.3h0M453.5 272.5h0M365.7 275h0M381.1 280.7h0M372.7 277.8h0M443.8 273.3h0M375 271.3h0M415 278h0M417.5 262.1h0M398.5 267.9h0M432.3 271h0M366.7 279.8h0M437.2 273h0M401.3 265.2h0M437.9 273.8h0M428.3 268.1h0M388.1 271.2h0M370.9 272.5h0M372.1 277.2h0M363.8 276.8h0M394.5 283.4h0M369 282.9h0M421.2 274.3h0M401.5 283.9h0M411.3 263.5h0M449.9 276h0M384.7 278.2h0M374.8 271.5h0M413.5 269.5h0M374.6 281.6h0M396.4 283.2h0M432.2 272.8h0M414.7 279.6h0M444.6 277.7h0M436.2 272.4h0M384 281.9h0M422.3 273.5h0M385.8 284.4h0M438.4 276.5h0M445.9 272.1h0M400 268.8h0M418.6 273.9h0M408.7 269h0M456.4 279.2h0M447.7 278.1h0M433.6 277.6h0M394.1 270.8h0M378.9 270h0M448.2 274.7h0M422.5 264.6h0M373.5 277.5h0M414.5 280.5h0M433.5 273.8h0M443.3 273.1h0M376.2 280.8h0M444.8 273.6h0M394.4 285.2h0M462.9 274.1h0M426.9 272.8h0M430.5 273.9h0M458.1 272.9h0M407.3 266.7h0M422.7 279h0M424.7 270.5h0M395.1 286.8h0M416.5 277.3h0M415.5 281h0M415.8 270.8h0M366.7 279.8h0M397.6 272.2h0M420.4 265.7h0M427.8 276.5h0M413.4 270.9h0M376.4 278.9h0M396.5 272.3h0M396.5 272.3h0M380.8 275.2h0M423.9 267.5h0M442.7 275.6h0M448.3 275.2h0M422.6 268.5h0M396.8 271h0M449.8 279.7h0M361.1 277.5h0M456.8 276.1h0M412.8 280.3h0M372 276.3h0M402.2 267.6h0M387.7 285.9h0M373.2 272.1h0M413.7 276.2h0M384.7 274.5h0M437 277.3h0M441.2 275.9h0M436.6 268.4h0M476.4 278.3h0M389 286.5h0M396.4 285.7h0M454.4 277.1h0M369.3 272.6h0M421.8 274h0M423 272.3h0M379.8 275.5h0M467.5 276.2h0M440.3 276h0M448.6 273h0M394.8 274.8h0M446 272.7h0M427.6 270.7h0M373.3 275.2h0M412.6 270.7h0M445.5 277.7h0M388.2 281.5h0M458 278.7h0M447.1 274.5h0M457 279.5h0M370.3 273.3h0M422.8 279.2h0M420.9 281.3h0M404.3 266h0M475.4 278.5h0M365 279.7h0M403.8 266h0M366.3 280.7h0M385.5 271.9h0M405.8 267.9h0M368.6 278.9h0M444.6 269.5h0M445.6 271.3h0M436.3 271h0M389.4 278.8h0M369.2 276h0M400.2 265.8h0M439.6 275h0M389 275h0M458.6 275.9h0M452.1 273.7h0M423.7 279h0M385 273.7h0M431.6 268.6h0M367.9 281.8h0M389 286.5h0M378.4 270.9h0M450.6 277.3h0M386.4 274.8h0M433.9 279.7h0M408.9 266h0M427.1 274.9h0M440.3 270.5h0M427.9 274.5h0M414.6 273.6h0M375.2 275.8h0M398 278.2h0M437.2 269.9h0M457.2 279.1h0M429.9 278.9h0M413.5 268.1h0M428.2 278.2h0M374.4 278.2h0M441.8 274.5h0M395.1 269.8h0M441.3 271.4h0M377.8 283.7h0M413.4 280.5h0M383.3 269.4h0M434.2 271.5h0M431.2 272.4h0M419.9 265h0M411.4 268.7h0M361.9 279.3h0M441.8 276.6h0M425.7 273.2h0M449.8 278.3h0M450.6 279.7h0M451.2 272.1h0M395.4 274.9h0M444.5 276.7h0M422 266.1h0M426 272h0M377.7 275h0M442.4 273.6h0M419.3 271.4h0M375.6 276.7h0M367.3 281.4h0M448.1 271.8h0M370.8 282.8h0M379.2 277.3h0M378.7 278.3h0M445.2 278.4h0M439.2 280.6h0M421.5 264.3h0M380.9 273.3h0M440.2 276.1h0M371.4 275.1h0M445.2 278.8h0M383.4 268.9h0M437.9 277.3h0M420.9 264.3h0M380.6 273.7h0M379.5 284.6h0M392.7 278.8h0M424.3 284.5h0M433.3 278.2h0M382.5 274.9h0M447.6 273.2h0M393 284h0M440.3 278.3h0M392.3 275.1h0M396.3 269.8h0M374.9 284.6h0M374.7 284.8h0M417.4 277.4h0M376 279.7h0M445.8 277h0M389 269.8h0M421.2 276.2h0M398.1 273.4h0M391.3 268h0M382.3 278.9h0M441.7 271.8h0M438 274.2h0M392.7 267.2h0M435 273.5h0M436.4 274.2h0M433.8 269.2h0M455.3 272.5h0M432.6 269h0M441.9 273h0M380 280.9h0M444.6 273.6h0M386.3 273.2h0M426.8 265.8h0M463.6 276.5h0M445 271.2h0M448.4 271.7h0M439.7 270.6h0M459.9 272.8h0M421.9 266h0M413.4 277.3h0M399 267.3h0M385.5 283.9h0M422.9 264.9h0M373.7 277.7h0M465.7 275.6h0M392 281.6h0M418.4 269h0M452 272.1h0M432.1 272.1h0M447.8 279.1h0M419 268.5h0M396.9 271.5h0M419.3 264.4h0M379.6 286.1h0M410.7 271.9h0M455.5 279.4h0M407.5 268.2h0M386.2 269h0M382.8 275.4h0M388.3 284.9h0M358.9 276.8h0M409 264h0M433.9 279.8h0M399.1 272.4h0M386.7 278.4h0M458.1 277h0M442.1 280.2h0M454.1 278.8h0M420.9 278.2h0M434.5 274.2h0M451.9 280.1h0M371.2 278.8h0M396.9 277.3h0M445.9 277.3h0M367 279.4h0M396.1 266.6h0M416.5 278.6h0M376.8 276.9h0M418.4 273.1h0M431.6 275.6h0M422.9 275h0M384.2 282.1h0M419.5 280.2h0M438 269.2h0M398.7 271.7h0M434 280h0M412.9 272h0M415.3 264.4h0M370.7 281h0M463.3 276.6h0M431.5 271.9h0M382.9 285.6h0M417.7 273.9h0M445.5 273.1h0M378.1 272.6h0M437.1 280.3h0M412.2 264.4h0M435.6 278.9h0M413.1 270.9h0M369 279.3h0M448.3 275.1h0M390.7 268.7h0M449.4 275.8h0M439.2 278.5h0M367.9 277.3h0M425.4 275.1h0M372.2 272.8h0M369.4 270.5h0M457.8 277.7h0M376.7 283.8h0M375.7 275h0M368.5 274.8h0M425.1 282.2h0M394.9 268.1h0M375.1 277.3h0M370.1 283.1h0M379.9 284.4h0M369.7 279.4h0M421.4 276.7h0M416.3 286.2h0M454 278h0M410.4 266.1h0M383.3 282h0M436 280.5h0M442.2 271.7h0M376.4 271.9h0M374.6 271.6h0M392.4 267.6h0M412.4 265h0M463.7 276.1h0M439.6 273.4h0M414.4 266.2h0M372.3 274.4h0M425.7 280.7h0M385.5 268.4h0M369.6 279.5h0M412.8 283.3h0M437.3 270.5h0M363.3 277.1h0M388.6 278.1h0M424.9 267.7h0M367.8 276h0M374.6 280.7h0M451.6 271.2h0M414.6 273.6h0M445.4 276.2h0M381.9 278.2h0M411.6 281.1h0M372 278.8h0M378.5 278h0M390.6 267.6h0M380 271.6h0M434.4 276.8h0M423.9 274.6h0M367.7 277.6h0M373.6 273.1h0M400.6 270.4h0M386.3 275.9h0M423.8 272.9h0M364.4 278.7h0M392.7 278.4h0M400.5 265.2h0M464.3 277.5h0M442.8 273.8h0M411.3 280.4h0M431.3 273.3h0M426.1 271h0M429.4 278.9h0M388.1 284.9h0M393.2 275.4h0M436.9 280.3h0M427.5 273.6h0M398 277.6h0M375.1 278.9h0M446 277h0M428.9 270.2h0M426.5 276.1h0M444.7 274.3h0M427.5 269.4h0M418.7 272.7h0M431 276.2h0M437.3 275.3h0M418.5 270h0M412.2 277.1h0M435.4 273.1h0M429.3 269.8h0M449.4 276.3h0M416.8 268.1h0M436.8 273.9h0M379.3 269.7h0M423.4 278.9h0M442.7 277.4h0M398.4 271.3h0M362.9 274.7h0M412.7 274.7h0M398.2 273.5h0M369.8 273.2h0M361.2 276.3h0M444 272.5h0M437 275h0M424.9 265.8h0M388.2 272.4h0M458.4 274.2h0M368.6 277h0M431.5 276.4h0M421.6 274.1h0M426.4 265.4h0M422 271.7h0M434.7 266.2h0M411.4 272.2h0M440.1 273.7h0M397 279.9h0M380.7 270.5h0M385.4 276.8h0M393.9 272.7h0M379.3 282.8h0M391 275.1h0M393 271.8h0M450.9 275.7h0M424.9 277.8h0M420.5 266h0M449.3 276.7h0M406.1 264.4h0M361.3 276.6h0M449.8 273.1h0M375.7 272.8h0M429.8 266.6h0M397.9 268.1h0M417.3 260.7h0M395.8 280.6h0M363 278.9h0M371.9 273.7h0M412.6 282.4h0M410.9 282.6h0M425.9 270.3h0M433.8 280.3h0M377.2 277.7h0M412.7 266.8h0M397.3 275.1h0M451.1 273.7h0M399.5 267h0M459.3 272.4h0M381.7 272.9h0M430.1 274.5h0M431 271.9h0M381.1 276.6h0M391.6 266.5h0M421.6 268.2h0M397.5 266.8h0M371.9 274.3h0M444.1 277.6h0M412.1 277h0M431.3 267.5h0M382 285.7h0M442.2 276.4h0M426.1 277.9h0M427.1 272.7h0M392.7 273.2h0M389.9 268.2h0M441.4 273.4h0M375.4 271.9h0M444.3 276.2h0M459.8 275h0M438.7 274.6h0M377.7 275.5h0M436.9 272h0M407.3 262.5h0M417.3 281.2h0M425.8 265.9h0M379.7 280h0M380.6 273.2h0M421.2 273.1h0M439.2 275.4h0M432.7 281.2h0M415.9 272.7h0M437.4 269.8h0M363.8 277.5h0M396.8 269.9h0M370 282.6h0M374.8 278h0M379.5 276.9h0M382.6 269.6h0M405.4 266.1h0M434.6 268.7h0M383.7 279.4h0M400 285h0M391.3 275.5h0M385.5 276h0M388.4 275.9h0M375.6 275.3h0M452 273.4h0M439.1 276.2h0M426.3 279.7h0M445.6 273.8h0M439.2 276.2h0M466.3 278.3h0M431.6 268.9h0M368.9 276.9h0M480.5 278.3h0M401.7 283.9h0M443.6 273.2h0M417.4 282.2h0M377.9 278.8h0M376.5 273.1h0M446.5 272.2h0M360.5 276.4h0M394.9 266.7h0M405.5 285.1h0M390.7 283.5h0M451.7 273h0M451.6 271.9h0M397.9 270.3h0M385.5 280.9h0M449.1 273.1h0M446 272.2h0M454 279.8h0M439.1 276.7h0M414.7 272.3h0M367.4 277.8h0M422.2 271.9h0M449.7 276h0M433.7 273.5h0M429.6 275.7h0M412.2 276.9h0M385.2 279.2h0M430.7 266.7h0M438.2 277.4h0M424.9 279.8h0M369.4 281.3h0M449.5 275.9h0M406.5 271.7h0M384.2 276.6h0M394.5 278.2h0M373.5 283.9h0M386.2 272h0M458.1 275.8h0M379.9 275.2h0M363.6 279.1h0M450.1 279.8h0M369.4 276.4h0M432.3 270.9h0M425.5 273.4h0M416.2 277.1h0M391.6 269h0M378.6 269.4h0M393.4 279.6h0M377.3 277.3h0M451.2 273.3h0M450.2 275.7h0M457.5 275.4h0M388.6 282.5h0M447.6 278.2h0M438 273.9h0M386.5 272.6h0M393.3 279.8h0M461.1 275.2h0M440.8 279.8h0M426 268.9h0M432.9 278.5h0M366.1 274.2h0M384.9 282.1h0M409.5 265.1h0M371.4 279.1h0M394.9 273.1h0M442.5 272.5h0M422.9 267.7h0M451.9 277.8h0M464.1 276.6h0M428.8 278h0M457.8 279.2h0M383.1 279.7h0M384.7 278.8h0M367.5 274.8h0M370.4 282.3h0M452 271.4h0M382.7 284.2h0M379.8 280.5h0M450.9 275.7h0M428.9 271.2h0M382.2 277.6h0M421.4 270.7h0M388.2 270.1h0M427.6 272.1h0M367.4 278.4h0M440 268h0M447.9 275.4h0M436.3 273.7h0M368.5 279.4h0M438 269.6h0M376.6 270.6h0M366.6 280.9h0M444.7 270.5h0M387.4 280h0M434.8 270.2h0M446.1 270.7h0M425.3 272.8h0M437.8 272.9h0M375.7 271.1h0M419.9 270.8h0M422.7 266.7h0M436.8 269.9h0M379.6 276.1h0M478.9 277.2h0M378.7 276.8h0M456.4 275.3h0M407 264.3h0M398.8 267.7h0M415.9 267.3h0M379.3 283.3h0M370.2 274h0M434.9 275.7h0M438.8 273.2h0M435.3 273.9h0M381.4 283.4h0M442 276.8h0M396.8 282.5h0M437.8 274.5h0M399.4 270.7h0M434.1 276.7h0M373.8 274.6h0M435.6 271.1h0M395.1 266.6h0M379.1 284.6h0M398 266.4h0M386 285.6h0M425.4 269.4h0M417 276h0M397.3 268.2h0M437.4 269.3h0M449.3 278h0M397.4 277.9h0M439.5 273.6h0M396.1 271h0M377.1 270.5h0M436.4 280.6h0M448.5 275.5h0M394.8 268.8h0M433.9 267.9h0M441.3 270.4h0M377.8 281.9h0M440.2 271.5h0M367.6 273.9h0M415.2 273.6h0M383.5 279.1h0M422.3 281.1h0M393.7 274.3h0M386.3 281.6h0M374.5 285.2h0M372 281.3h0M436.9 269.2h0M424.8 273.9h0M418 276.6h0M454.8 275h0M396.7 283.4h0M376.1 271.1h0M413.6 265.3h0M382.4 284.7h0M404.8 267.2h0M418.5 275h0M450.9 275.9h0M425.2 264.6h0M373.3 274.6h0M444.5 270.8h0M358.8 277.1h0M453.8 274.3h0M371 276.4h0M451.4 273.9h0M402.2 272.7h0M406.3 268.8h0M384.8 277.4h0M388.2 279.6h0M361.7 276.1h0M393.3 276.6h0M443.6 277.4h0M474.9 277.5h0M429.8 280.5h0M393 274.5h0M356.4 278.7h0M448.9 275.1h0M397.3 278.4h0M384.6 275.2h0M466.3 274.7h0M385.3 275h0M386.2 271.5h0M430.1 276.5h0M458.5 272.6h0M424.3 273.3h0M417 273.7h0M373.8 282.1h0M374.8 273.1h0M379.6 275.8h0M439.1 280.2h0M445.8 272.5h0M440.2 269.7h0M382.9 277.6h0M428 275.4h0M400.3 268.5h0M440.4 280.3h0M384.1 277.5h0M400.1 269.1h0M463.8 275.7h0M430.5 278.3h0M414.2 274.8h0M402.3 265.2h0M391 281h0M388.5 268h0M408.6 271.1h0M440.8 280.7h0M444.9 270.8h0M448.3 279h0M433.6 270.4h0M372.5 276.5h0M422.9 266.3h0M425 276.1h0M401.6 283.9h0M421.5 269h0M430.3 271.8h0M366.3 277.4h0M419.5 276.6h0M433.2 271h0M468.4 277h0M382.3 286h0M402.9 284.1h0M378.6 271h0M402.2 259.2h0M367.1 277.1h0M457.6 273.7h0M452.3 276.4h0M435.8 276.2h0M398.8 265.9h0M365.1 278.8h0M449.5 271.8h0M378.9 278.2h0M438 278.2h0M469.6 276.7h0M446 280.4h0M377.9 270.8h0M429 277.3h0M431.6 278.1h0M384.1 284.6h0M364.4 280.1h0M394 276.9h0M408.3 264.9h0M423.7 273.4h0M416.1 272.9h0M388.2 280.8h0M370.6 273.2h0M422 276.7h0M432 273.4h0M415.6 270.1h0M423.5 274.7h0M427.6 270h0M412.8 267.4h0M403.1 268.5h0M440.7 280.4h0M423.5 276.8h0M381.5 283.4h0M450.1 275.8h0M421.8 267.9h0M468.8 277.8h0M390.7 284.3h0M386.3 282.5h0M382.9 276.3h0M365.1 279h0M418 274.5h0M432.1 280.7h0M397.5 275.6h0M391.6 276.8h0M413.4 275.7h0M423 274.2h0M394.8 270h0M390.6 282.8h0M377 281h0M422 268.7h0M397 272h0M397.6 265.9h0M381.4 278.5h0M421.8 275.2h0M401.7 284.3h0M448.2 279.8h0M371.9 273.4h0M443.9 270.9h0M408.6 265.7h0M377.8 279.8h0M428.9 273.6h0M409.5 271.2h0M424.6 277h0M451.1 277.6h0M431.9 267.9h0M458 279h0M456.3 275.4h0M447.2 274h0M368.4 273.7h0M361 275.9h0M416.3 270.6h0M448.4 279.8h0M423.8 267.5h0M393.1 271h0M432.9 279.6h0M431.4 273.6h0M456.4 274h0M436.5 272.6h0M392.7 280.8h0M449 278.9h0M398.4 283.8h0M423.8 281.8h0M422 281.2h0M381.2 279.1h0M362.6 278.9h0M438.9 271.1h0M438.3 270.6h0M371.3 276.6h0M439.3 278.7h0M408.4 264.9h0M453.8 277.6h0M435.8 275.2h0M376.8 268.9h0M423 275.2h0M385.8 283.3h0M379.4 277.2h0M370.3 283.7h0M444.7 279.7h0M398.6 269.3h0M444.8 278.5h0M394.2 273.9h0M455.4 277.8h0M453.1 274.3h0M389 268.5h0M398 272.9h0M393.3 272.2h0M405.5 283.4h0M451.5 276.2h0M403.4 268.9h0M377.7 274.3h0M370.7 281.7h0M374.9 275.9h0M367.8 281.5h0M380.5 285.9h0M392.5 280.6h0M431.1 272.2h0M411.7 280.5h0M395.4 270.3h0M486 278.1h0M418.4 276.5h0M412.7 271.7h0M460.2 276.3h0M413.5 263.8h0M386.6 279.6h0M449.8 279h0M387.5 274.6h0M387.5 279.6h0M435.1 277.7h0M459.9 278.3h0M444.9 275.2h0M386 271h0M417.8 278.1h0M417.1 273.5h0M389.1 275.6h0M368.7 278.8h0M413.1 272.6h0M384.7 272h0M423.4 266h0M404.1 283.4h0M384.8 275.8h0M424 276.4h0M383.5 271.9h0M366.8 280.9h0M433.3 269.7h0M452.6 278.6h0M376.5 278.2h0M430.6 280h0M452.3 278.8h0M426.1 282.1h0M387.1 282h0M402.8 266.3h0M384.2 275.8h0M429.1 280.1h0M420.8 264.5h0M439.1 278.5h0M458.6 273.1h0M417.4 266.5h0M444.8 279.3h0M415.9 273.1h0M374.6 280.2h0M426.8 275.5h0M385.3 269.1h0M430.4 269.6h0M364.8 277.2h0M442.7 281.8h0M445.2 272.5h0M415.4 278.7h0M431 281.2h0M416.8 264.9h0M392.3 271.4h0M390.1 275.1h0M367.8 284.8h0M395.3 274.7h0M421.6 264.9h0M442 278.6h0M447.2 277.9h0M436.2 271.7h0M395.5 266.2h0M416.2 275.3h0M422.7 280.3h0M452.8 274.5h0M353.2 277.7h0M426.6 272.9h0M432.9 277.5h0M445.6 277.1h0M382.5 271.5h0M439.3 279h0M396.9 282h0M367.3 275.1h0M422.6 280.9h0M437.6 272.7h0M416.8 280.8h0M436.7 280.2h0M369.4 275.2h0M370.9 275h0M401.1 269.1h0M366.6 275.6h0M440.1 269.4h0M465.9 278h0M443.4 277h0M436.2 277.5h0M424.5 268.4h0M399.2 270.6h0M395.1 277.1h0M390.1 282.1h0M437 276.8h0M452.9 275.7h0M414.2 267.3h0M428.9 265.9h0M445.8 275.7h0M434.2 272h0M366.9 277.5h0M384.1 280.9h0M428 269.9h0M393.9 272.8h0M394 273.4h0M428.4 270.7h0M387.9 278.2h0M386.5 280h0M451.4 273.8h0M371.6 283.1h0M449.5 278.1h0M420.6 269.7h0M365.3 274.9h0M425 273.3h0M363.6 275.3h0M375.5 284.6h0M381.2 277.6h0M395.2 282.2h0M376.2 285.9h0M382.7 276.9h0M381.4 278.5h0M367 279.2h0M413.9 270h0M373 276.2h0M387.1 268.4h0M444.9 273.6h0M397.2 281h0M413.3 271.1h0M455 272.7h0M444.8 277.4h0M375.3 272h0M359.2 278.8h0M391.4 276.1h0M426 260.6h0M363 277.4h0M383.4 285.9h0M379 281.9h0M368.8 274.4h0M394.5 272h0M383.8 274.6h0M379.4 269.7h0M375.7 285h0M371.8 275.2h0M378.8 277.2h0M366.7 276.5h0M400.2 265.7h0M447.9 273.6h0M420.6 275.7h0M442.5 277.5h0M372.1 284.1h0M390.8 280.2h0M426.6 270h0M398.8 283.5h0M431.5 276.6h0M398.7 292.3h0M394.2 271.1h0M423.1 281.4h0M450.5 273.7h0M388.8 267.1h0M446 279.2h0M402 265.7h0M437.4 278.2h0M407.5 270.7h0M374.6 279.9h0M392.7 282.1h0M441.7 270.2h0M439.5 270.2h0M397 284h0M391 279.1h0M384.7 273h0M426.9 274.5h0M374.1 281.8h0M375.3 282.2h0M398.2 282.6h0M391.7 286.2h0M431.5 268.2h0M440.4 280.1h0M442.5 278.7h0M461.9 273.7h0M380.1 275.4h0M392.7 274.5h0M405.1 272.5h0M408 270.4h0M430.1 281.4h0M437.1 269.1h0M422.2 282.6h0M398.7 268.1h0M397.2 284.9h0M422.7 279.4h0M398.9 272.5h0M445.6 274.7h0M395.1 275.1h0M373.9 279.9h0M437.6 272.1h0M367.9 279.8h0M383.9 269.3h0M428.7 273.9h0M395.3 275.5h0M387.8 269.5h0M388.2 281.3h0M372 275.1h0M408 272h0M445.5 276.6h0M444.5 278.5h0M451.4 277.4h0M398.2 277h0M383.2 278.2h0M455.5 274.8h0M394.3 275.9h0M450.3 275.9h0M428.2 271.1h0M464.2 278.3h0M379 270.4h0M383.9 276.5h0M420.2 276.8h0M399.5 272.4h0M424.5 264.5h0M365.1 279h0M422.1 270.8h0M449.2 276.1h0M421.1 279.6h0M369.4 279.4h0M420 271.2h0M447.1 276.8h0M472.3 278.1h0M424.4 274.9h0M378.1 279.6h0M387.6 270.3h0M413.6 267.5h0M426.1 276.4h0M400.5 268.4h0M412.2 279.5h0M380 270.5h0M436.4 271.2h0M378.3 277.9h0M393.3 283.9h0M423.8 275.3h0M421.6 267.6h0M368.7 278.7h0M395 278.8h0M376.3 276.4h0M426 265.5h0M381.4 283.6h0M395.4 276.2h0M430.1 274.7h0M390.1 275.6h0M386.6 279.5h0M418.9 272.1h0M369.6 281.8h0M367 274.7h0M372.3 277.5h0M411.9 279.3h0M446.8 275.3h0M378.8 285.8h0M454.9 279.5h0M388.2 276h0M389.9 277.3h0M395.6 269.1h0M387 283.6h0M427.3 277.1h0M436.1 268.5h0M387.2 269.4h0M421.5 271.9h0M443.2 269.7h0M456.6 271.9h0M448.6 279.6h0M425.7 278.2h0M422.9 274h0M437 279.5h0M435.8 269h0M377.4 270.7h0M444.5 279.5h0M400.2 272h0M391.1 277.8h0M393.8 283.1h0M446.2 279.8h0M382 269.1h0M393.5 266.6h0M427.9 268h0M436.9 268.5h0M390.6 274.1h0M447 276.9h0M395.1 275.5h0M468.9 276.3h0M408.7 266.3h0M454.6 274.9h0M388.9 268.2h0M449.4 279.3h0M433.7 270.6h0M442.8 278.3h0M380.7 281.8h0M418.7 281.7h0M437.3 272.4h0M386.4 267.1h0M422.3 274.5h0M376.5 276.8h0M404.6 271.1h0M399.2 284.7h0M443.1 273.3h0M378.1 278.3h0M397.6 272.2h0M396.5 279.3h0M422.4 282.9h0M404.2 272.2h0M372.1 284.3h0M413.6 277.4h0M446.2 271.8h0M391.5 271.8h0M415.9 279.2h0M415.6 276.2h0M444.2 271.2h0M383.5 275.6h0M434.9 280.4h0M444.4 270.5h0M455 274.2h0M453.4 275.7h0M382.3 285.1h0M389 270.5h0M420 265.7h0M367.1 278.9h0M423.4 282.3h0M459.4 274.7h0M367 279.1h0M361.9 277.4h0M401.5 267.8h0M451.7 275.5h0M391.3 269.4h0M398.1 279.2h0M451.4 277.3h0M421.3 265h0M422.9 264.3h0M412.2 266.4h0M411.1 267.2h0M393.2 271.9h0M389.4 267.3h0M454.7 277.1h0M426.6 265.6h0M418.9 275.9h0M451.2 277.5h0M475.6 277.6h0M400.7 283.4h0M412.6 264.1h0M424.9 272.9h0M435.8 268.7h0M457.2 278.1h0M435.8 275.4h0M423.4 276.9h0M386.4 280.1h0M393 276.8h0M373.5 278.8h0M386.5 283.1h0M369.4 275.9h0M398.3 265.6h0M444.3 273h0M412.7 279.1h0M455.7 274.4h0M466.1 277.7h0M382.3 272.8h0M404.7 267h0M366.8 279h0M401.6 265.4h0M389 277.4h0M396.4 274.8h0M440.8 274.1h0M447.5 277.8h0M377.4 276.9h0M426.8 281.7h0M438.7 279.3h0M388.1 275h0M378.9 271.9h0M382.4 273.2h0M412.4 273.5h0M385.2 274.3h0M437.2 269.9h0M380.2 285.9h0M441.1 277.4h0M464.7 276.6h0M391.3 274.4h0M413.7 280h0M418.3 272.3h0M373.6 275.4h0M426.8 267h0M436.2 269h0M380.2 276.4h0M406.9 271.5h0M451.3 272h0M366.8 273.6h0M374.6 278.5h0M395.3 272h0M449.9 280.2h0M434.2 273.1h0M451.4 273.4h0M369 275.3h0M375.4 275.8h0M442.4 274.2h0M399.2 268.6h0M371.1 274.8h0M430.8 281.2h0M394.3 268.6h0M433.8 275.5h0M401.3 267.5h0M371.7 274.5h0M415.7 279h0M424 279.1h0M378.2 283.9h0M429.5 266.6h0M376.4 275.9h0M444.6 270.7h0M420.1 272.6h0M368.6 274h0M422 272.6h0M415.1 263.7h0M362.6 277.8h0M416.9 269.6h0M414.2 278.8h0M366.9 275.2h0M395.8 275.8h0M388.2 282.1h0M444.2 276h0M409.9 270.5h0M454.3 277h0M380.7 273.1h0M370.1 280.5h0M439 276.4h0M448.2 272.5h0M368.4 276h0M439.2 273.2h0M428.5 270.4h0M457.1 279.7h0M423 282.5h0M427.6 275h0M375.2 280.2h0M431.1 266.8h0M425.4 270.5h0M439.5 274.3h0M449.5 273.4h0M410.2 264.7h0M410.3 265h0M424.6 281.3h0M364.3 278.3h0M436 269h0M370.7 277.3h0M433.1 272.6h0M445 274.3h0M455 274.1h0M438.9 276.8h0M376.2 278.1h0M422.3 281.8h0M440.4 274.2h0M399.1 284h0M364.8 279.5h0M414 266h0M421.3 276.5h0M432.1 280.9h0M410.5 271.8h0M388.8 271h0M437.4 273.4h0M388.3 270.8h0M419 275.2h0M442 270.9h0M439.6 278.7h0M389.2 274.9h0M406.8 266.6h0M416 268.5h0M417.9 265.2h0M442 277.5h0M383.4 270.4h0M427.6 278.6h0M426.2 270.7h0M472 276.6h0M421.5 266.3h0M414.9 269.5h0M363.3 276.7h0M430.7 271.1h0M448 277.5h0M398 277.6h0M428.5 273h0M373.8 284.2h0M450.3 275.7h0M386.6 277.5h0M397.6 266.5h0M455.5 278.7h0M395.1 271.9h0M436.8 269.9h0M394.3 284.1h0M399.5 283.7h0M426.8 276.1h0M415.2 273.7h0M456.6 272.8h0M439.8 272.4h0M404.4 272.4h0M394.3 280h0M460.2 272.9h0M432.6 278.7h0M439.4 269.8h0M378 285.3h0M456 278.1h0M416.2 279.4h0M432.6 268.5h0M373.1 281.7h0M397.2 281.3h0M443.4 274h0M446.3 278.9h0M430.2 272.9h0M383.2 282.8h0M435 276.3h0M374.3 281.9h0M366.8 271.2h0M425.2 271.3h0M440.8 272.8h0M457.9 276.3h0M370.6 283.9h0M387.7 272.2h0M395.7 280h0M390.2 285.8h0M423.9 282.4h0M366.6 278.4h0M363.7 278.8h0M441.6 273.1h0M401.3 270.3h0M439 272.9h0M403 267.4h0M460 276.4h0M364.7 274.5h0M374.9 283.4h0M395.1 278.8h0M435 277.8h0M433.6 272.3h0M485.3 277.9h0M366.3 278.8h0M394.2 282.2h0M445.7 274.9h0M371.9 278.2h0M404 271.4h0M393.8 267.1h0M452.2 271.3h0M449.5 279.8h0M386.4 283.5h0M381.1 282.6h0M408.5 272.6h0M438.5 270.2h0M391.1 283.2h0M422.7 272.8h0M398 278.3h0M356.1 277h0M396.9 271.4h0M443.5 279.6h0M380.8 285.6h0M446.6 275.3h0M372.7 280.6h0M385.7 284.2h0M369.9 279.5h0M371.6 282.7h0M422.9 280.1h0M383.2 268.8h0M420.3 266.2h0M424.2 277.6h0M407.3 266.3h0M366.9 279h0M457 274.5h0M411.8 280h0M429.3 267.8h0M379.9 278.1h0M414.1 268.4h0M435 274.2h0M455.4 275.3h0M416.3 273.6h0M382.5 284.1h0M391.9 268.4h0M375.7 284.4h0M420.8 273.2h0M389.2 282.2h0M386.1 273.6h0M411.6 267.4h0M365.8 273.9h0M428.9 269.2h0M445.2 273.1h0M438.5 269.4h0M415.7 267.9h0M432.1 267.8h0M402 283.5h0M380.2 275.6h0M377.3 286.2h0M405.7 257.5h0M398.7 283.6h0M437.3 275.5h0M387.4 278.9h0M417.2 279.9h0M450.8 275.9h0M381.8 270.7h0M426 276.8h0M437.8 273.6h0M441.9 271.7h0M397.2 267.4h0M419.3 266h0M437.5 276.5h0M397.3 274.1h0M375.7 278.6h0M378.1 281.1h0M409.2 264.7h0M411.9 280h0M388.5 274.5h0M373.3 275h0M472.1 277.3h0M412.4 277h0M435.2 277.6h0M378.4 277.8h0M429.6 268.9h0M362.2 276.2h0M449 277.2h0M384.8 278.5h0M369.1 276.8h0M397.5 276.7h0M424.1 272.4h0M461.3 274.5h0M440.6 271.1h0M393.6 273.5h0M434.1 274.2h0M442.1 279.8h0M375.6 279.7h0M378.4 277.6h0M397.8 271h0M408.6 271.2h0M442.4 271.3h0M452.3 280.1h0M386.1 281.9h0M384.7 286.4h0M378.6 279h0M432.4 273.7h0M418.5 264.6h0M393.2 286.2h0M432.9 277.2h0M392.1 272.3h0M389.5 271.4h0M421.2 278.7h0M397.2 267.8h0M384.1 272.9h0M392.4 273.6h0M463.2 278.1h0M443.9 270.4h0M392.4 268.2h0M429.2 280.7h0M435.7 273.7h0M434.6 278.9h0M449.1 277.3h0M441.2 272.8h0M434 269h0M451.8 274.3h0M379.9 275.1h0M391.8 277.6h0M388.4 270.2h0M444.8 272.6h0M437.2 276.9h0M377.5 272.4h0M420.6 272.5h0M358.2 278.5h0M384.8 272.6h0M383.5 281.2h0M464.3 274.2h0M366.8 277.4h0M370.3 283.7h0M430.7 276.1h0M424.9 268.3h0M426.1 267.9h0M379.6 273.5h0M458.1 277.2h0M401.9 270.7h0M425 278.8h0M401.4 264.9h0M424.3 264.5h0M377.7 274.8h0M427.1 276.8h0M376.9 273.8h0M442 269h0M369.8 273.7h0M419.6 271.4h0M422.5 264.4h0M373.4 274.9h0M442.6 275.6h0M387.5 279.8h0M448 274.5h0M366.1 276.6h0M389.1 270.9h0M411.6 278.7h0M367.9 274.5h0M418.4 277.8h0M376.7 283.3h0M440.2 275.3h0M442.1 279.9h0M441.8 278.2h0M367 273.7h0M440.7 280.2h0M439.2 277.5h0M391.9 279.3h0M373.3 284.5h0M381.3 273.2h0M392.8 281.1h0M442.5 277.3h0M429.9 274.4h0M422.3 274.6h0M440.8 275h0M433 279.1h0M380 269.6h0M363 275.4h0M354.9 277.7h0M408 266.2h0M394.3 281.1h0M436.2 283.8h0M451.8 276.1h0M425.3 280.2h0M435.4 271h0M430.9 274.5h0M437.7 273.9h0M416.5 271.4h0M396.4 279h0M419.1 278.9h0M442.9 277.2h0M384.6 285.1h0M448.1 279.1h0M397.6 282.5h0M389.1 276h0M371.7 272.9h0M355.6 277.4h0M393.9 266.4h0M422.8 267.1h0M375.6 280h0M442.5 279.7h0M387.6 282.6h0M472.8 278h0M444.8 274.5h0M370.6 284h0M415.1 276h0M462.3 273.2h0M392.7 280.9h0M416.8 282.7h0M457.1 274h0M375.1 273.3h0M454.7 271.7h0M380.4 271.7h0M422.6 276.9h0M450.2 275.8h0M440.3 277.8h0M365.2 274.7h0M439.3 273h0M436.3 273.2h0M425.2 271.4h0M395.8 269.2h0M410.5 271h0M438.1 273.7h0M427.3 277.7h0M398.8 268.8h0M439.6 276.8h0M451 275.8h0M415.7 266.4h0M428.2 276.4h0M432.6 272.4h0M372.3 282.7h0M424.4 266.8h0M418.9 263.9h0M433.5 271.8h0M369.6 279.1h0M449.2 278.3h0M368.9 275.5h0M371.6 273.7h0M377.6 279.1h0M362.9 277.1h0M432 271.2h0M384 286.4h0M440.4 276h0M440.7 275.9h0M429.5 276.3h0M465.2 274.7h0M457.5 277.3h0M443.3 273.5h0M377.2 281h0M392.9 282.3h0M418.2 267.5h0M420.7 277.4h0M369.2 272.9h0M384.2 279.3h0M431.9 273.2h0M425.6 278.2h0M392.9 275.1h0M423 266.7h0M437.4 272.1h0M392.5 271.2h0M467.5 278.7h0M366.3 280.8h0M370 269.6h0M378.3 284.9h0M374.8 276h0M414.7 271.9h0M440.1 272.5h0M393.5 280.4h0M452.9 273.8h0M370.1 281.7h0M377.2 285.7h0M377.2 283.1h0M368.9 278.8h0M410.8 280.8h0M378.9 275.1h0M390.1 288.2h0M463.4 274.4h0M421.3 282.5h0M422 274.7h0M422.7 278h0M434.4 269.9h0M377.9 275.1h0M393 275.5h0M400.1 270h0M414.2 266.4h0M363.2 277.3h0M431.9 274.8h0M406.7 268.4h0M460.5 273.4h0M415.2 275h0M421.9 274.3h0M369.7 283.6h0M366.5 275.5h0M447.3 270.7h0M406.9 269h0M377.6 281.9h0M378.3 273.6h0M434.6 276.1h0M394.2 270.7h0M440.6 272.9h0M385 276.2h0M394.1 283h0M389.5 271h0M419.8 268.6h0M410.9 276.7h0M369.8 277.2h0M377.4 279.5h0M412.8 277h0M369.3 281.1h0M402 268.4h0M389.5 271h0M393.1 269.4h0M374.1 274.6h0M375.3 284.1h0M376.8 270.4h0M449.6 274h0M432.6 277.3h0M366.9 277h0M433 279.2h0M405.5 270.1h0M389.8 269.4h0M366.8 280.5h0M380.2 273.8h0M422.2 264.7h0M410.3 263.5h0M415 275h0M417 266h0M365.5 278.7h0M414.6 273.4h0M386.7 286.9h0M379.7 282.6h0M427.5 272.8h0M394.1 269.1h0M376.5 275.8h0M378.1 278.8h0M364.1 278.8h0M413.7 279.6h0M371.7 280.4h0M412.5 268.9h0M443.4 279.6h0M368.8 275.9h0M423.4 267.8h0M390.4 273h0M411 271.7h0M383.7 286.7h0M414.6 264.4h0M383.6 282.8h0M434.3 264h0M442.8 277.4h0M413 265.2h0M392 275.5h0M444.7 271.8h0M390.8 276h0M440.1 271.9h0M368.1 278h0M400.1 284h0M415.4 282.1h0M382.4 273.8h0M450.7 279.4h0M454.6 272h0M363.3 274.9h0M411.4 279.4h0M416.3 269.9h0M382.5 273.1h0M367.4 274.9h0M392.2 269.6h0M430.1 273.5h0M412.7 274.2h0M417.4 274.1h0M436.4 280.3h0M426.3 263h0M392.8 274.2h0M434.3 274.7h0M423.6 278h0M466.8 275.4h0M418.6 271.7h0M444 271.9h0M405.4 266.3h0M422.3 281.6h0M423.9 264.9h0M379.6 283.3h0M368.3 281h0M373.3 282.5h0M449.8 275.8h0M424.2 268.9h0M434.2 271.6h0M384.5 275.1h0M379 276h0M446.3 271.4h0M420.4 282.4h0M405.4 266.4h0M411.8 266.6h0M418.3 279.1h0M426.3 265.6h0M427.8 266.8h0M418.9 276.6h0M370.9 273.3h0M386.4 270.5h0M414.6 270.7h0M427.8 281.3h0M447 280.3h0M413.9 273.7h0M440.2 274.1h0M369 274.2h0M397.8 277.2h0M372.3 282.7h0M470.2 275.8h0M392.1 276.9h0M379 283.5h0M376.4 278h0M416.6 281.3h0M387.9 283.7h0M452 271.3h0M385.3 281.6h0M397.4 276.5h0M390.3 269.9h0M387.6 270.1h0M454.1 277.6h0M364.1 279.2h0M400.6 267.4h0M401.5 271h0M366.6 281.2h0M369.8 277.8h0M429.5 277.1h0M434.2 277.3h0M426.9 270.7h0M452.5 279.1h0M451.3 275.2h0M395.9 274.2h0M450.2 279.7h0M392.5 275.5h0M420.5 269.5h0M396.5 273h0M448.9 274.9h0M436.9 274.1h0M448.6 276.9h0M423.3 282.1h0M368.7 274.8h0M407.1 261.6h0M434.7 279.2h0M409.6 284.5h0M438.2 277.6h0M428.3 277.8h0M438.7 269.1h0M384.1 282.2h0M418.9 266h0M380.4 279.8h0M441.4 271.6h0M430.8 273.4h0M371.1 280.9h0M385.8 279.3h0M413.2 265.8h0M386.8 286.7h0M379 284.9h0M377.8 275.8h0M397.4 277.6h0M426.5 273.3h0M369.9 282.6h0M415.4 278.3h0M382.7 286h0M383.2 283h0M432 277.6h0M375.3 274.3h0M428.1 270h0M398.6 270.6h0M366.8 280h0M422.7 267.3h0M377.1 284.9h0M381 285.7h0M380.1 269.9h0M400.9 268.1h0M425.6 281.6h0M395.3 270.8h0M416.8 266.9h0M422.5 268h0M390.8 284.8h0M434.7 271.8h0M393.2 285.1h0M422 277.5h0M443.2 276.5h0M475.3 277.6h0M425.1 272.1h0M448.3 277.5h0M378.5 274.2h0M401 271.3h0M426.5 281.1h0M391.9 281.1h0M457.8 274.6h0M377.9 283.2h0M374.8 283.1h0M395.1 284.7h0M424.9 274h0M365.4 275.3h0M379.9 284.7h0M435.8 271.5h0M392.1 268.8h0M449.9 278.7h0M414.8 272.9h0M368.9 279.6h0M379.7 283.5h0M393.7 267.5h0M393.4 283.4h0M422.5 268.2h0M445.4 274.1h0M446.1 275.5h0M372.9 274.8h0M391 275.9h0M419.9 264.5h0M368.7 276.6h0M423.6 272.6h0M443.3 276h0M374.1 280.4h0M381.9 284.4h0M389 271.7h0M390.9 269.2h0M377.7 279.1h0M406.3 267.3h0M404.2 268.9h0M377.6 272.3h0M441.8 270.7h0M358.1 276.9h0M360.1 278.2h0M422.8 269h0M387.5 286.2h0M457.8 276h0M382.9 276.6h0M417.6 282.5h0M393.4 272.8h0M456.5 273.1h0M406.2 268.3h0M440.2 275.8h0M452.5 275.1h0M457.2 275.7h0M475.3 277.7h0M379.9 277h0M415.3 277h0M376.9 274.5h0M431.2 281.5h0M424.8 268.1h0M434.3 275.3h0M382.7 285.3h0M399.8 269.5h0M395.8 266h0M393.9 275.1h0M426.9 277.7h0M423.3 277.7h0M436 267.1h0M391.1 274.8h0M373.6 284.8h0M382.9 282.5h0M441.5 275h0M388.7 275.3h0M423.7 266.9h0M383.5 278.6h0M371.5 273.4h0M392.1 272.9h0M380.5 286.3h0M388.8 279.3h0M429.1 278.8h0M415.1 270.6h0M377.3 270.3h0M377.6 285h0M451.6 277.2h0M399.4 267.8h0M375 283.8h0M429.2 274.4h0M453.8 278h0M422.3 272.2h0M442.4 275.2h0M433 274h0M378.5 274.8h0M421.8 270.3h0M413.6 267.9h0M387.2 284.5h0M419.3 270.4h0M410.8 264.8h0M395 273.4h0M368.3 281.8h0M383.5 275.8h0M414.7 265h0M443.8 279.2h0M379.6 273h0M429.4 266.1h0M380.3 271.6h0M461.8 276.7h0M377.1 271.3h0M382.3 275.5h0M387.9 276.2h0M428.1 266.6h0M383.8 286.1h0M401.4 284.1h0M404.1 264.8h0M455.6 276.8h0M378.6 276.6h0M390.5 273.4h0M416.2 273.8h0M395.9 276.4h0M433 272.2h0M477.3 277.6h0M395.6 283.2h0M393.4 270.4h0M369.5 273.1h0M402 271.3h0M393.8 271.2h0M410.9 263.5h0M419.4 275.9h0M379.5 280h0M425.1 275.7h0M368.3 282.2h0M370.9 275.5h0M424.4 275.3h0M437.5 280h0M374.6 285h0M427.7 279.9h0M372.6 278.6h0M396.9 277.1h0M420.2 271.3h0M450.5 278.2h0M387.2 269.5h0M444.5 277.9h0M395.1 278h0M400.1 269.6h0M460.7 275.7h0M380.1 279.8h0M378 285.9h0M409.4 272.7h0M385.1 272.4h0M396.8 283.8h0M420.3 270.4h0M357.1 278.4h0M435.2 268.4h0M437.3 272.2h0M419.8 278.4h0M441.4 277.6h0M423.9 277.3h0M448.3 271.1h0M420.2 270.6h0M404.4 283.6h0M450.5 279.6h0M418.6 269.3h0M403.1 270.3h0M451.3 271.4h0M383.5 287.2h0M441.9 273.9h0M424.3 281.1h0M438.5 269.7h0M364.8 275.9h0M373.5 280.9h0M412.9 270.5h0M417.3 276.3h0M458 275.8h0M460.6 275.1h0M380.5 274.3h0M450.3 272.6h0M369.7 273.6h0M440.3 275.2h0M374.7 284.9h0M396.3 270.5h0M366.8 281.2h0M392.7 277h0M435.7 276.7h0M451.3 274.7h0M438.5 272h0M410.6 266h0M453.4 275.4h0M407.2 262.9h0M424.6 266.3h0M392.6 273.8h0M420.6 273.8h0M435.6 270.4h0M432.9 271.5h0M460.3 272.7h0M418.2 276.9h0M383.9 285h0M365.2 274h0M371.9 278.3h0M428.6 276.2h0M387.5 284.2h0M409.8 266.8h0M410.6 266.6h0M368.4 276.8h0M379.4 283.9h0M392.6 269.4h0M420 272.7h0M445.2 277.5h0M410.7 263.5h0M451.8 278.5h0M453.4 272.3h0M410.2 265.8h0M429 270.3h0M432.1 275.7h0M431 269.9h0M419.1 269.9h0M442.4 275.2h0M480.5 277.4h0M430.2 278.6h0M432.9 278.2h0M371.2 281.2h0M453.9 280h0M372.7 277.2h0M440.3 272.2h0M383.9 280h0M414.3 263.9h0M362.7 279.8h0M371.9 279h0M444.1 278.9h0M390.2 268.2h0M399.8 284.3h0M374.6 284.5h0M398 275.4h0M378.2 286.2h0M469.9 278.7h0M381.6 279.1h0M379.9 272.3h0M430 267.1h0M472.8 276.9h0M379.6 279.9h0M426.8 266.9h0M423.1 280.6h0M442.4 272.4h0M448.9 275.5h0M380.1 278.3h0M463.7 278.1h0M468.8 276.6h0M380.1 279.9h0M378.7 286.6h0M450.7 272.7h0M387.9 284.4h0M413.1 270h0M421.1 276.7h0M449.9 274.2h0M387.1 281.6h0M378.9 279.9h0M415.5 269.6h0M453.5 274.2h0M434 275.8h0M379.1 274.4h0M439.5 279.6h0M450.9 277.1h0M383.3 274.2h0M392.9 284.6h0M432.5 272h0M456.6 273.4h0M394.2 273.9h0M393.2 274.5h0M453.5 272.5h0M412.2 263.5h0M405.8 284.8h0M380.5 284.2h0M454.2 279.6h0M421.9 265.3h0M375 278.8h0M411.6 263.7h0M404 283.9h0M442 270.2h0M418.2 269.4h0M394.3 284.5h0M429.6 278.3h0M437.9 269.5h0M446.7 280.3h0M382.6 280h0M396.7 280.9h0M380.6 281.7h0M378.8 272.6h0M437.2 274.1h0M365.1 279.7h0M410.8 267.7h0M380.5 273.1h0M384.7 280.1h0M373.5 275h0M382.6 270.6h0M409.5 269.1h0M377.1 275.2h0M394 280.4h0M397.9 272.6h0M381 281.4h0M402.7 266.3h0M448.9 272.9h0M428 275.2h0M444.5 279h0M379.9 285.4h0M397.2 280.7h0M447.6 271.8h0M399.2 285.2h0M397 277.5h0M398.8 265.3h0M371.3 273h0M490.5 278.4h0M455.1 274.8h0M425.7 279.7h0M446.3 275.9h0M451.6 273.7h0M415.9 270.7h0M368.4 276.9h0M363.1 276.4h0M370 279h0M425.2 266.4h0M460.3 274.3h0M423.1 280.7h0M386.7 281.4h0M412.9 265.9h0M417.5 272.9h0M431.3 270.2h0M447.7 276.3h0M443.4 273.1h0M421.5 267.3h0M366.6 274.8h0M428.4 275.3h0M403 283.4h0M390.3 278.3h0M412.5 279.7h0M368.1 274.2h0M368 272.9h0M432.2 275.1h0M381.7 274.7h0M373.9 272.6h0M428.3 267.6h0M371.8 273.4h0M419.3 266.6h0M437.8 277.7h0M440.7 279.3h0M368.9 277.4h0M418.1 277.6h0M466.4 278.4h0M380.3 278.6h0M416.8 267.8h0M422.5 271.1h0M395.5 272.5h0M436.3 270.4h0M438.5 267.9h0M451.4 273.8h0M361.4 275.3h0M397.3 283h0M412.5 280.9h0M368.4 279.5h0M373.3 276.4h0M377.7 272h0M440.3 277.9h0M372.8 277.1h0M454.5 274h0M414.4 268.8h0M410.2 269.9h0M381.7 270.1h0M431.3 273.2h0M441.1 271.8h0M385.4 273h0M398.9 267.5h0M430.6 279.5h0M366 279h0M376.3 283.6h0M423.3 267.3h0M435.8 268.1h0M426.1 277.9h0M429 274.9h0M364.7 272.7h0M374.6 273.2h0M381.6 280.7h0M411.2 266.2h0M425.4 278.1h0M377.9 276.4h0M450.8 277.1h0M421.9 270.9h0M374.2 284.9h0M371.9 280.6h0M393.3 280.7h0M389.2 268.9h0M370.6 283.9h0M376.2 270.9h0M390.7 277.8h0M462.3 273.5h0M411.2 266h0M364.2 275.7h0M444.1 274.3h0M363.8 274.3h0M385 282.3h0M435.9 277.4h0M376.5 279.9h0M380.9 276.5h0M420.5 276.7h0M461.6 274.3h0M423.4 269.3h0M423.5 278.2h0M434.5 276.1h0M429.7 271.4h0M403.6 271.7h0M381.3 270.6h0M372.8 277.8h0M401.7 265.6h0M492.3 277.9h0M433.5 273.2h0M406.2 272.2h0M451.4 278.7h0M419.4 268.5h0M366 277.6h0M378.3 270h0M436.2 271.8h0M366.5 272h0M354.7 277.1h0M447.8 272.5h0M378.9 278.1h0M372.9 279.4h0M440.3 271.8h0M409.8 266.3h0M470.1 276.4h0M474.2 276.6h0M445.7 274.4h0M442.4 271.5h0M386.8 283.1h0M366.8 274.9h0M446.9 273.8h0M371.8 274.8h0M419.5 267.3h0M401.4 267.2h0M455.1 276.3h0M378.1 280.3h0M450.9 274.5h0M440 280.1h0M436 280.7h0M405.2 270h0M402.3 270.5h0M408.4 269.6h0M384.6 279.1h0M438.5 278.1h0M444.7 274.8h0M420.9 269.3h0M451 276.1h0M443.8 278.4h0M427 267.7h0M444.2 273.3h0M419.8 283h0M450.8 275.5h0M369.6 272.9h0M369.6 276.8h0M457.9 277.3h0M444.9 279.1h0M395.7 284h0M431.5 280.2h0M379.6 278.9h0M445 279.1h0M408.2 264.5h0M419 264.8h0M386.8 270.2h0M455.9 273.1h0M442.4 278.9h0M447.8 279h0M453 273.1h0M383.8 269.8h0M413.4 265.7h0M387.7 278.5h0M400.8 284.3h0M415.8 264.5h0M436.6 275.1h0M395.5 280.5h0M366.3 275.4h0M469.1 278.5h0M430.1 281.4h0M359.7 278.2h0M378 275.6h0M439.7 270.4h0M398.2 269.7h0M411.8 274.1h0M438.1 276.8h0M422.5 268h0M452.3 278.3h0M405.9 267.1h0M457.7 279h0M391.5 281h0M420.6 274.8h0M434 270.8h0M437.6 277.8h0M459 276.9h0M429.7 270h0M388.6 277.9h0M392.3 272.6h0M438 275.6h0M387.3 280.7h0M390.1 286h0M427.6 276.9h0M415.2 278.9h0M442.8 274.2h0M395.9 274.9h0M413 281.2h0M377 282.4h0M444.7 272.8h0M443.6 279.7h0M396 277.4h0M460.6 276.5h0M368.6 275.9h0M400.6 272.4h0M360.6 276.3h0M364 278.4h0M436.5 270.2h0M367.1 276.5h0M415.7 264.9h0M448.8 279.9h0M395.3 267.8h0M406.9 267.2h0M378.8 275.8h0M380.6 271.2h0M415.8 266.6h0M433.6 274h0M448.7 276.5h0M411 268h0M449.1 272.9h0M392.7 278.1h0M377.7 282.1h0M408.5 269.7h0M381.1 277h0M449.5 272h0M463.3 278.3h0M429.7 271.8h0M444.5 275.5h0M386.5 281.2h0M448.8 276.7h0M435.5 271.1h0M429.1 279.8h0M419 266.1h0M390.7 279.6h0M414.2 271.6h0M441.8 275.6h0M385.8 283.8h0M387.5 278.9h0M403.4 271.9h0M381.8 284.2h0M374.4 283.4h0M414.8 266.1h0M397.7 278.8h0M444.4 279.7h0M381 286.5h0M451.8 271.4h0M419 272.5h0M369.3 278.9h0M375 272.3h0M423.1 276.2h0M414.6 266.7h0M420.3 282.6h0M389.8 268.8h0M383.2 282.2h0M459.7 276.3h0M418.7 279.5h0M423 268h0M396.9 265.7h0M459.8 279h0M371.6 277h0M431.8 278.7h0M436.4 274.8h0M447.7 273.6h0M417.2 271.2h0M430.3 269.4h0M420.1 274.7h0M393.1 277.6h0M417.5 278.5h0M428.2 276.5h0M419.9 279.7h0M427.8 266h0M391 278.7h0M424.6 281.7h0M362.6 275h0M374.5 279.4h0M387.8 280.3h0M458.5 273.7h0M421.3 278.2h0M425 277.6h0M425.7 279.7h0M411.7 272.2h0M439.1 274.3h0M427.6 277.6h0M380.4 276h0M386.9 282.1h0M393.5 273.2h0M422.5 282.9h0M391.7 280.7h0M458.8 273.9h0M384.7 272.1h0M407.4 263.9h0M439.8 276.5h0M444.8 276.8h0M393.6 282.6h0M451.2 272.2h0M443.6 272.2h0M436.9 270.9h0M389.5 271h0M395.5 273.3h0M425.5 267.9h0M373.5 277.8h0M418.6 263.1h0M426.1 280.4h0M400.9 267h0M380.5 285.7h0M414.8 269.4h0M459.7 276.1h0M370.6 277h0M372.3 283.3h0M437.5 275.5h0M383.9 274.6h0M370.8 272.1h0M425.2 273.9h0M471.6 277.7h0M418.6 277.6h0M441.5 276.6h0M430.1 270.5h0M441.5 275h0M414.5 271.5h0M410.5 264h0M378.6 279.9h0M422.7 264.4h0M369 279h0M431.2 270.1h0M387.4 270.9h0M422.8 272.1h0M429.2 273.5h0M406 266.5h0M360.7 275.7h0M477.3 277.8h0M426.4 274.3h0M439.4 279.7h0M448.3 276.4h0M399.8 265.2h0M387.1 270.1h0M442.1 272.2h0M383.6 280.7h0M368.9 277h0M383.4 273.9h0M429.1 278.7h0M450.7 273.8h0M432.1 278h0M443.6 273h0M423.6 269.6h0M421.7 266.1h0M412.6 278h0M375.2 276h0M464.1 276.1h0M404.3 270.6h0M422.9 283.3h0M444.2 273.6h0M445.1 270.4h0M437.9 271.6h0M383.6 270.7h0M450.8 278.6h0M393.1 285.2h0M425.8 269.3h0M451.8 275.5h0M388 275.7h0M409 268.7h0M405.4 267.2h0M443.4 275.1h0M430.5 280.4h0M397.5 273.3h0M420.8 263.5h0M390.6 269.3h0M425.6 276.8h0M442.3 273.9h0M426.5 272.3h0M393.4 272.1h0M382.5 283h0M387.8 281.8h0M428.7 271.1h0M415.9 273.8h0M426 266h0M412.3 269.2h0M385.6 287.2h0M457.9 273.4h0M420.5 280.7h0M425.4 278.4h0M396.9 271.7h0M444.9 274.3h0M374.4 272h0M450.8 278.5h0M443 275.9h0M458.4 278.1h0M409.9 264.5h0M419.2 275.7h0M381.6 279.2h0M409 271.5h0M445.6 270.5h0M374.4 272.3h0M426.5 267.7h0M379.7 277.2h0M383.6 270.1h0M428.4 269.8h0M427.5 267.2h0M385.1 272.8h0M439.2 274.8h0M395.3 273.5h0M420 266.7h0M413.6 273.9h0M364.6 278.6h0M428.5 280.1h0M425.8 265.5h0M414.5 266.9h0M357.2 278.3h0M372.8 275.8h0M378.7 280.5h0M432.2 269.1h0M371.1 273h0M416.1 274.1h0M374.9 271.5h0M449.7 276.4h0M405.9 266h0M379.9 285.8h0M430.1 275.4h0M370.7 278.5h0M384.9 274.4h0M440.1 269.6h0M395.6 266.4h0M439.9 274.5h0M441.6 274.9h0M379.3 278.3h0M443.6 279.4h0M400.1 265.8h0M397.5 272.2h0M378.2 271.1h0M395.2 283.9h0M393.6 285.5h0M445.6 278h0M415.5 271.4h0M433.4 269.1h0M465.9 274.6h0M436.7 269.1h0M373.7 275.3h0M422.3 277.6h0M452.3 278.5h0M441.4 270.6h0M436.7 272.2h0M413.5 270.2h0M455.6 275.1h0M375.8 279.5h0M431.4 270.8h0M421.9 270.1h0M386.9 276.2h0M424.2 276.4h0M406 267.5h0M424.4 279.3h0M360.7 277.2h0M455.3 277.5h0M396.6 275.2h0M390.1 279.7h0M465.5 275.2h0M442.6 277.7h0M431.7 279.9h0M413.1 270.9h0M466.9 276.3h0M456.4 275.2h0M437.9 276.1h0M427.5 274.7h0M398.1 270.3h0M411.1 270.6h0M440.1 276.6h0M364.8 275.7h0M408.9 266.2h0M442.3 276h0M372.9 282.7h0M370.2 276.4h0M362.6 277.8h0M388.6 283.8h0M405.2 269.7h0M377.7 271.3h0M362.3 277.4h0M455 277.2h0M451.6 279.9h0M385.7 272.2h0M371.1 278.7h0M428.5 264.3h0M445.7 271.1h0M466.7 279h0M450.5 277.2h0M386.6 286.9h0M441.5 277.2h0M398 266.4h0M375 271.3h0M453.9 273h0M359.8 277.9h0M365.4 275.8h0M391.9 279.1h0M391.1 282.6h0M425.3 282.4h0M379.6 284.3h0M397.8 269.7h0M422.5 282.3h0M369.6 273.6h0M445.8 274.8h0M440.6 274.6h0M438.3 280.5h0M377.8 281.3h0M465.4 275.1h0M380.5 286.1h0M417.9 272.9h0M417.6 268.2h0M393 266.4h0M440.6 277.3h0M391 284.9h0M365.2 279.9h0M365.7 277.6h0M440.6 280h0M457 278.7h0M435.4 277.9h0M413.5 266.5h0M424.6 267h0M382.7 277.1h0M380.3 270.6h0M417 262.3h0M421.5 278.1h0M375.4 272.1h0M432.8 276.6h0M377 288.4h0M378.2 269.4h0M433.8 281.1h0M432.2 265h0M380.3 278.5h0M448.6 276.3h0M397.5 275.9h0M423.3 276.1h0M437.5 268.8h0M382.6 279.2h0M371.7 273.3h0M423.8 278.4h0M452.4 273.5h0M437.2 277.2h0M352 277.9h0M377.7 281.6h0M392.8 268.8h0M378.1 281h0M365.6 277.6h0M456.3 279.8h0M389.4 284.6h0M400.5 269.7h0M446.9 279.2h0M460.7 276.1h0M448.7 274h0M443.4 276.9h0M400.5 272.3h0M434.7 269.5h0M413.2 273.1h0M484.9 277.6h0M431.3 270.4h0M372.5 274.7h0M456.5 278.1h0M378.1 280.4h0M351.3 278.2h0M412 276.1h0M378.4 275.7h0M417.2 281.9h0M412.8 271.8h0M376.1 284.1h0M408.2 269.1h0M460.6 275.7h0M389.8 267.4h0M380.1 270h0M426.5 282.2h0M441.4 275.4h0M368.3 272.9h0M451.7 277h0M384.1 277h0M391.3 267.8h0M415.3 274.6h0M393.8 274.3h0M461 272.7h0M373.3 280h0M397.6 269h0M414 275.6h0M395.7 281.8h0M429.6 272.9h0M386.6 279.5h0M374.5 281.1h0M410.8 274.8h0M369 276.3h0M409.1 267.4h0M434.6 278h0M445.5 279.6h0M430.4 270.4h0M367.9 274.3h0M415.9 278.9h0M405 294.8h0M442.6 278.9h0M461 277.4h0M449.2 277.5h0M441.7 274.5h0M399.4 265.8h0M382.1 285.6h0M360.2 278.8h0M367.6 279.1h0M378.5 283.9h0M439.7 280h0M431.7 274.3h0M396.7 282.5h0M447 274.8h0M370.5 281.6h0M388.2 267.9h0M399.1 270.7h0M431.2 275.1h0M413.6 272h0M394.3 279.1h0M378.2 266.5h0M470.9 277.2h0M384.6 268.8h0M444.7 278.8h0M381.3 273h0M435.9 275.8h0M413.7 264.4h0M430 266.6h0M365.1 276h0M382.5 279.2h0M366.1 275h0M422.3 279.3h0M470.9 278.3h0M387.4 282.3h0M401.5 265.9h0M426 265.8h0M463.2 278.6h0M411 278.7h0M421.4 269.4h0M440.1 269.6h0M417.6 273.7h0M367.7 273.2h0M442.2 280h0M393.5 265.1h0M383.2 272.5h0M445.8 279.1h0M383.8 280.7h0M425.4 275.5h0M393.1 270.1h0M401 268.4h0M446 274.2h0M382.7 282.3h0M452.5 276.3h0M382.8 272.7h0M380.8 270.9h0M442.8 279.1h0M430.6 273.7h0M392.8 270.7h0M450.2 271h0M418.2 273.2h0M409.8 270.6h0M370.4 275h0M450.4 283.2h0M389.6 281.3h0M421.5 280.2h0M377.1 278.4h0M429.6 279h0M454.5 277.4h0M383.7 272.6h0M440.7 277.7h0M463.9 275h0M440.5 271.2h0M401.9 268.9h0M444.7 274.6h0M371.9 284.8h0M371.8 277h0M409.2 270.7h0M420.2 266.3h0M396.7 268.1h0M466.8 274.6h0M429.8 275.4h0M361.9 278.1h0M385.4 278.7h0M390 281.6h0M382.8 272.5h0M446.5 273.8h0M452 271.6h0M417.1 275.6h0M378.7 282.2h0M446 276.6h0M440.2 277.4h0M440.9 269.4h0M415 273.2h0M414.1 272.4h0M367.8 277.5h0M425.4 267.6h0M383.6 269.9h0M411.6 276.2h0M415.6 274.6h0M448.6 273.7h0M387 273.3h0M452 276.2h0M363.4 279.4h0M403.4 268.7h0M419.2 272.1h0M375.4 277.8h0M393.5 281.1h0M393.7 274.7h0M410.5 265.9h0M385.4 273.4h0M407 272.3h0M451.1 275.9h0M468.3 278.1h0M370.5 278.2h0M367.3 275h0M373 278.3h0M454.4 274.8h0M374.2 284.2h0M396.1 280.3h0M369 279.3h0M394.7 272.2h0M388.4 285.5h0M432.5 278.4h0M442.8 278.7h0M382.9 273.2h0M405.4 264.8h0M386.2 284.7h0M457.5 274.2h0M416.3 270.3h0M440.3 274.4h0M435.4 277.8h0M417.6 274.6h0M412.3 263.8h0M368.7 281.4h0M364 276.9h0M371.4 278.9h0M423.7 282.3h0M383.3 285.2h0M431.3 267.8h0M418.3 258.7h0M442.1 272.6h0M433.7 277h0M451.5 275.1h0M373.5 281.1h0M419.6 271h0M486 278h0M367 276h0M367.4 274.5h0M373.2 281.9h0M409.1 272.5h0M389.4 276.6h0M451.4 274.4h0M399.6 270.8h0M439.1 272.3h0M447.9 272.8h0M362.5 275.5h0M449.5 274.1h0M379.5 282.7h0M433.7 268.6h0M437.4 279.5h0M377 270.3h0M434.7 277.4h0M422.6 281.2h0M372.2 277.5h0M415.8 277.9h0M423.7 281.2h0M373.4 283.5h0M439.1 280.8h0M413 268.8h0M369.2 278.4h0M389.4 280.3h0M418.2 270.2h0M406.9 269.5h0M401.2 271.3h0M383.9 274.9h0M387.4 283.4h0M388.1 269.6h0M369.3 274.2h0M449.3 275.1h0M420.7 280.5h0M391.3 270.5h0M393 285.5h0M447.2 280.4h0M429.9 274.4h0M422.4 272.3h0M425.2 282.8h0M442.5 274.9h0M443.6 279.9h0M415.4 273.5h0M383.8 285.3h0M361.6 278.3h0M407 270h0M429.8 267.9h0M391.1 279.8h0M358.4 278.2h0M394.7 277.7h0M417.9 278h0M413.4 274h0M435.8 280.7h0M390 283.5h0M394.2 267.8h0M396.6 284.7h0M434.5 271.6h0M442.8 272.3h0M433.5 273.6h0M390.9 272.1h0M437.5 272.6h0M419.3 270.4h0M365.8 277.5h0M455.1 276h0M384.4 266.3h0M423 272.5h0M376.6 279.7h0M378.9 281.6h0M404.5 272h0M443.8 276.7h0M389.4 276.7h0M390.2 274.3h0M457.4 275.6h0M407.3 267.5h0M393.2 282.8h0M423.3 282.8h0M414.3 266.9h0M462.5 276.3h0M415.3 270.2h0M415.4 266h0M368 279.6h0M370.6 278.1h0M400.4 270.3h0M442 273.8h0M368.2 277.5h0M423 282.4h0M388.1 277.5h0M417 280.8h0M386.9 280.3h0M380.1 286.5h0M412.6 270.7h0M395 282.3h0M411.2 280.9h0M437.2 272.8h0M374.4 275h0M421.7 267.8h0M394.7 285h0M421.9 277.7h0M393.5 273h0M409.7 270.1h0M379 270.4h0M422 282.8h0M366.2 275.2h0M358.6 277.7h0M384.8 287.3h0M371.6 276.7h0M411.9 265.9h0M395.6 274.5h0M383 270.8h0M436.6 277.4h0M364.9 278.5h0M372.8 274.2h0M384.2 278.7h0M431.4 269.3h0M379.1 280.1h0M369.5 276.5h0M444.5 277.5h0M402 266h0M445.9 277.6h0M450.8 278.1h0M434.9 278h0M434.9 271.2h0M397.6 266.2h0M413 272.2h0M366.8 277.3h0M454.8 278.8h0M428 267.7h0M434.9 271.4h0M400.5 272.7h0M433.3 272.5h0M413.4 279.7h0M396.3 267.2h0M415.9 272.9h0M392.9 270.4h0M452.1 274.1h0M449.5 275.5h0M366.7 274.4h0M450.3 278.7h0M374.1 273h0M413.2 267.6h0M444.6 280.2h0M438 269.9h0M371.6 275.8h0M453.7 282.1h0M366.6 279.1h0M425.5 275.6h0M404.2 269h0M420.3 283h0M423.7 269h0M395.1 281.6h0M424.2 281.8h0M436.9 278.7h0M391.5 286.3h0M464.3 277.3h0M444.5 279.3h0M377.2 274.6h0M375.2 276.8h0M395.9 266.5h0M390.8 280.9h0M440.2 278.3h0M413.8 282.1h0M382.8 274.7h0M379.4 271.5h0M371.5 279.5h0M420.3 281.8h0M413.7 280h0M439.9 271h0M440.2 273.9h0M464.7 276.7h0M445 281.2h0M382.2 272.1h0M435.6 267.4h0M425.7 280.4h0M446.7 279.2h0M392.6 266.8h0M437.3 274.8h0M432.4 275.5h0M451.3 276.5h0M378.8 272.9h0M396.1 274.4h0M413.4 275.4h0M376.5 285.4h0M392.7 279.7h0M362.5 275.9h0M413.6 272.9h0M380.2 279.5h0M399.6 265.5h0M413.6 263.5h0M452.9 273.9h0M375.1 276.9h0M401.8 265.1h0M429.7 269.3h0M441.4 269.6h0M405.2 266.4h0M427.1 265.1h0M446.9 277.7h0M476.9 278.2h0M385.9 280.8h0M415.3 267.3h0M406.9 269.2h0M424.7 280.1h0M432.6 276h0M434.5 279.4h0M433.6 275.3h0M440.5 269.8h0M473.2 277.9h0M400.8 266.3h0M408.3 265.8h0M403.9 267.3h0M415.2 279.7h0M426.3 266.4h0M397.6 279.6h0M376.7 273h0M421 274.6h0M368.3 277.8h0M417.6 266h0M422.1 274.9h0M375.1 278.3h0M367 274h0M404.5 271h0M417.1 268.4h0M456.8 278.9h0M385.8 282.3h0M424.7 279.8h0M369.9 273.5h0M433.7 279.7h0M410.3 267.1h0M418 272h0M436 271.4h0M447.1 271.4h0M381.1 272.4h0M380.2 276.6h0M371.3 281.6h0M428.9 270.6h0M394.2 275.6h0M458.5 279h0M407.6 265.6h0M451.1 276.3h0M438.1 276h0M371.1 273.6h0M372.9 280h0M428.7 268.2h0M437.1 268.5h0M447 279.5h0M386.5 268.5h0M428.1 266.1h0M408.2 267.3h0M378.7 279.9h0M380 272.1h0M452.6 279.6h0M400.9 267.9h0M413.7 282.7h0M449.2 272.2h0M407.7 272.6h0M442.7 279.7h0M427.4 271.6h0M411.9 271.2h0M385 282.3h0M452.6 272.8h0M444.2 273.2h0M424.9 265.1h0M372.6 277.2h0M382.7 286.2h0M402.3 265.8h0M412.1 275.2h0M467.4 278.6h0M382.5 288h0M369.3 278.3h0M379 274.2h0M418.1 281.6h0M408.6 271.8h0M453.5 278.5h0M460.7 273.4h0M449.1 277.8h0M383.2 282.8h0M453.8 278.3h0M390.4 283.4h0M390 273.1h0M449.4 269.6h0M412 284.7h0M424.7 283.7h0M377.7 267.9h0M418.1 262.9h0M427.6 265.2h0M421 284.1h0M428.6 282.4h0M414 263h0M436.8 266.2h0M408.1 284.8h0M397.4 287.5h0M462.6 272.5h0M448.1 270h0M366.8 289.5h0M432.5 265.9h0M431.2 286.2h0M400.8 260.1h0M396.1 289.4h0M446.9 270h0M466 273.4h0M419.5 262.3h0M422.1 287.4h0M449 280.8h0M396.9 259.8h0M438.9 267.1h0M368.6 272.4h0M368.2 270.6h0M392.4 264.5h0M387.1 290h0M447.2 281.7h0M435.2 266.8h0M394.1 265.9h0M360.7 283.1h0M360.7 282h0M371.8 270.1h0M404.6 262.8h0M466.7 274.3h0M400.2 261.4h0M466.2 273.4h0M471.9 285.4h0M458.6 272h0M391.2 287.5h0M363.2 285h0M390.1 290.9h0M415 283.2h0M450.2 269h0M412.8 284.2h0M461.5 283.5h0M376.1 287.5h0M407.5 288.7h0M389.8 290.4h0M419.1 260.6h0M438.1 281.3h0M454.7 267.1h0M471.4 271.9h0M404.8 285.3h0M394.1 263.5h0M423.3 283.7h0M458.5 281.6h0M449.7 270.6h0M467.9 274.3h0M464.1 273.2h0M368.7 267.1h0M451.1 287.8h0M450.6 265h0M456.3 270.7h0M426.6 284.6h0M459.9 281.9h0M439.8 283.2h0M366.1 282.7h0M438.9 285.2h0M410.4 285h0M393 289.5h0M386.7 288.4h0M378.5 268.3h0M378.6 289.8h0M399.5 262.3h0M378.8 290.2h0M370.7 269h0M375.8 289.2h0M414 287.5h0M369.9 270.6h0M436.6 282h0M421.9 283.4h0M443.4 265.4h0M451.8 280.4h0M455.8 269.9h0M434.5 281.8h0M433.5 285.7h0M397 265.2h0M471.9 280.1h0M405.6 292.3h0M416.3 283.6h0M422 287.7h0M372.3 287.6h0M419.3 263.1h0M469.9 284.3h0M431.8 284.3h0M428.6 284.9h0M434.5 267.2h0M375.1 287.1h0M367.9 267.9h0M456.8 282.5h0M378.4 269.7h0M385.9 291h0M470.2 279h0M469.4 276.9h0M469.3 274.8h0M470.4 272.7h0M469.3 270.6h0M470.6 268.5h0M468.8 266.4h0M470.2 264.3h0M415.7 286.8h0M394.3 272.3h0M367 282.3h0M424.8 274.6h0M415.4 286.9h0M391.7 270.3h0M454.2 272.6h0M472 263.6h0M423.8 277.7h0M465.8 274.9h0M442.7 275.7h0M458.2 281.5h0M425.6 285.2h0M468.8 284.8h0M414.7 275.9h0M460.9 285.5h0M364.7 273.4h0M361.2 276.5h0M442.6 271.6h0M456.1 286.7h0M484.4 280.4h0M400.8 266.1h0M470.7 271.8h0" stroke="#3d4fa9" stroke-width="2.0" stroke-linecap="round" fill="none" opacity="1.0"/>
<text x="310.2" y="292.6" font-size="8.6" font-weight="bold" text-anchor="middle">-5</text>
<text x="347.9" y="292.6" font-size="8.6" font-weight="bold" text-anchor="middle">-3</text>
<text x="423.4" y="292.6" font-size="8.6" font-weight="bold" text-anchor="middle">1</text>
<text x="461.1" y="292.6" font-size="8.6" font-weight="bold" text-anchor="middle">3</text>
<text x="498.8" y="292.6" font-size="8.6" font-weight="bold" text-anchor="middle">5</text>
<text x="398.4" y="186.9" font-size="8.6" font-weight="bold" text-anchor="end">5</text>
<text x="398.4" y="224.6" font-size="8.6" font-weight="bold" text-anchor="end">3</text>
<text x="398.4" y="262.3" font-size="8.6" font-weight="bold" text-anchor="end">1</text>
<text x="398.4" y="300.0" font-size="8.6" font-weight="bold" text-anchor="end">-1</text>
<text x="398.4" y="337.7" font-size="8.6" font-weight="bold" text-anchor="end">-3</text>
<text x="398.4" y="375.4" font-size="8.6" font-weight="bold" text-anchor="end">-5</text>
<text x="379" y="395.8" font-size="8.9" font-weight="bold" fill="#333" textLength="51" lengthAdjust="spacingAndGlyphs">Combination (LFC)</text>
<text transform="translate(292.9,304.2) rotate(-90)" font-size="8.8" font-weight="bold" fill="#333" textLength="53.3" lengthAdjust="spacingAndGlyphs">Acalabrutinib (LFC)</text>
<rect x="266.5" y="438.10" width="74.1" height="5.9" fill="#174c89"/>
<text x="259.5" y="443.40" font-size="7.3" text-anchor="end" fill="#2a2a2a" textLength="144.7" lengthAdjust="spacingAndGlyphs">regulation of B cell activation (GO:0050864)</text>
<path d="M263.4 441.05H266.5" stroke="#222" stroke-width="0.9"/>
<rect x="266.5" y="447.59" width="57.3" height="5.9" fill="#174c89"/>
<text x="259.5" y="452.89" font-size="7.3" text-anchor="end" fill="#2a2a2a" textLength="134.9" lengthAdjust="spacingAndGlyphs">T-helper cell differentiation (GO:0042093)</text>
<path d="M263.4 450.54H266.5" stroke="#222" stroke-width="0.9"/>
<rect x="266.5" y="457.08" width="57.3" height="5.9" fill="#174c89"/>
<text x="259.5" y="462.38" font-size="7.3" text-anchor="end" fill="#2a2a2a" textLength="179.9" lengthAdjust="spacingAndGlyphs">regulation of interferon-alpha production (GO:0032647)</text>
<path d="M263.4 460.03H266.5" stroke="#222" stroke-width="0.9"/>
<rect x="266.5" y="466.57" width="55.5" height="5.9" fill="#174c89"/>
<text x="259.5" y="471.87" font-size="7.3" text-anchor="end" fill="#2a2a2a" textLength="167.4" lengthAdjust="spacingAndGlyphs">negative regulation of TOR signaling (GO:0032007)</text>
<path d="M263.4 469.52H266.5" stroke="#222" stroke-width="0.9"/>
<rect x="266.5" y="476.06" width="53.6" height="5.9" fill="#174c89"/>
<text x="259.5" y="481.36" font-size="7.3" text-anchor="end" fill="#2a2a2a" textLength="174.9" lengthAdjust="spacingAndGlyphs">cellular response to glucose starvation (GO:0042149)</text>
<path d="M263.4 479.01H266.5" stroke="#222" stroke-width="0.9"/>
<rect x="266.5" y="485.55" width="49.1" height="5.9" fill="#174c89"/>
<text x="259.5" y="490.85" font-size="7.3" text-anchor="end" fill="#2a2a2a" textLength="184.7" lengthAdjust="spacingAndGlyphs">regulation of cellular biosynthetic process (GO:0031326)</text>
<path d="M263.4 488.50H266.5" stroke="#222" stroke-width="0.9"/>
<rect x="266.5" y="495.04" width="49.3" height="5.9" fill="#174c89"/>
<text x="259.5" y="500.34" font-size="7.3" text-anchor="end" fill="#2a2a2a" textLength="254.2" lengthAdjust="spacingAndGlyphs">regulation of dendritic cell antigen processing and presentation (GO:0002604)</text>
<path d="M263.4 497.99H266.5" stroke="#222" stroke-width="0.9"/>
<rect x="266.5" y="504.53" width="48.6" height="5.9" fill="#174c89"/>
<text x="259.5" y="509.83" font-size="7.3" text-anchor="end" fill="#2a2a2a" textLength="252.9" lengthAdjust="spacingAndGlyphs">negative regulation of blood vessel endothelial cell proliferation (GO:1903588)</text>
<path d="M263.4 507.48H266.5" stroke="#222" stroke-width="0.9"/>
<rect x="266.5" y="514.02" width="48.5" height="5.9" fill="#174c89"/>
<text x="259.5" y="519.32" font-size="7.3" text-anchor="end" fill="#2a2a2a" textLength="169.7" lengthAdjust="spacingAndGlyphs">regulation of pro-B cell differentiation (GO:2000973)</text>
<path d="M263.4 516.97H266.5" stroke="#222" stroke-width="0.9"/>
<rect x="266.5" y="523.51" width="48.1" height="5.9" fill="#174c89"/>
<text x="259.5" y="528.81" font-size="7.3" text-anchor="end" fill="#2a2a2a" textLength="205.9" lengthAdjust="spacingAndGlyphs">positive regulation of interferon-alpha production (GO:0032727)</text>
<path d="M263.4 526.46H266.5" stroke="#222" stroke-width="0.9"/>
<rect x="266.5" y="533.00" width="45.6" height="5.9" fill="#174c89"/>
<text x="259.5" y="538.30" font-size="7.3" text-anchor="end" fill="#2a2a2a" textLength="233.7" lengthAdjust="spacingAndGlyphs">mature B cell differentiation involved in immune response (GO:0002313)</text>
<path d="M263.4 535.95H266.5" stroke="#222" stroke-width="0.9"/>
<rect x="266.5" y="542.49" width="45.6" height="5.9" fill="#174c89"/>
<text x="259.5" y="547.79" font-size="7.3" text-anchor="end" fill="#2a2a2a" textLength="168.7" lengthAdjust="spacingAndGlyphs">toll-like receptor 9 signaling pathway (GO:0034162)</text>
<path d="M263.4 545.44H266.5" stroke="#222" stroke-width="0.9"/>
<path d="M310.7 435V550" stroke="#333" stroke-width="0.8" stroke-dasharray="1.6 1.4"/>
<path d="M266.5 435V551M266.5 551H343.9" stroke="#222" stroke-width="1.1" fill="none"/>
<path d="M266.5 551v3.5" stroke="#222" stroke-width="1"/>
<text x="266.5" y="562.1" font-size="7.2" text-anchor="middle" fill="#333">0</text>
<path d="M288.6 551v3.5" stroke="#222" stroke-width="1"/>
<text x="288.6" y="562.1" font-size="7.2" text-anchor="middle" fill="#333">−1</text>
<path d="M310.7 551v3.5" stroke="#222" stroke-width="1"/>
<text x="310.7" y="562.1" font-size="7.2" text-anchor="middle" fill="#333">−2</text>
<path d="M332.8 551v3.5" stroke="#222" stroke-width="1"/>
<text x="332.8" y="562.1" font-size="7.2" text-anchor="middle" fill="#333">−3</text>
<text x="282.5" y="572.6" font-size="8.6" fill="#333" textLength="38.9" lengthAdjust="spacingAndGlyphs" stroke="#333" stroke-width="0.25"><tspan font-style="italic">P</tspan> value (LOG)</text>
<rect x="433.3" y="439.10" width="76.7" height="6.3" fill="#174c89"/>
<text x="427.2" y="444.20" font-size="7.6" text-anchor="end" fill="#2a2a2a">PAX5 (GSE44244)</text>
<path d="M430.3 442.25H433.3" stroke="#222" stroke-width="0.9"/>
<rect x="433.3" y="449.36" width="63.4" height="6.3" fill="#174c89"/>
<text x="427.2" y="454.46" font-size="7.6" text-anchor="end" fill="#2a2a2a">LIN28 (GSE93256)</text>
<path d="M430.3 452.51H433.3" stroke="#222" stroke-width="0.9"/>
<rect x="433.3" y="459.62" width="50.6" height="6.3" fill="#174c89"/>
<text x="427.2" y="464.72" font-size="7.6" text-anchor="end" fill="#2a2a2a">LEF1 (GSE42637)</text>
<path d="M430.3 462.77H433.3" stroke="#222" stroke-width="0.9"/>
<rect x="433.3" y="469.88" width="39.8" height="6.3" fill="#174c89"/>
<text x="427.2" y="474.98" font-size="7.6" text-anchor="end" fill="#2a2a2a">ZXDC (GSE45417)</text>
<path d="M430.3 473.03H433.3" stroke="#222" stroke-width="0.9"/>
<rect x="433.3" y="480.14" width="39.6" height="6.3" fill="#174c89"/>
<text x="427.2" y="485.24" font-size="7.6" text-anchor="end" fill="#2a2a2a">SPDEF (GSE40985)</text>
<path d="M430.3 483.29H433.3" stroke="#222" stroke-width="0.9"/>
<rect x="433.3" y="490.40" width="33.4" height="6.3" fill="#174c89"/>
<text x="427.2" y="495.50" font-size="7.6" text-anchor="end" fill="#2a2a2a">USF1 (GSE17300)</text>
<path d="M430.3 493.55H433.3" stroke="#222" stroke-width="0.9"/>
<rect x="433.3" y="500.66" width="32.3" height="6.3" fill="#174c89"/>
<text x="427.2" y="505.76" font-size="7.6" text-anchor="end" fill="#2a2a2a">IRF1 (GSE26817)</text>
<path d="M430.3 503.81H433.3" stroke="#222" stroke-width="0.9"/>
<rect x="433.3" y="510.92" width="31.9" height="6.3" fill="#174c89"/>
<text x="427.2" y="516.02" font-size="7.6" text-anchor="end" fill="#2a2a2a">FLI1 (GSE27524)</text>
<path d="M430.3 514.07H433.3" stroke="#222" stroke-width="0.9"/>
<rect x="433.3" y="521.18" width="30.1" height="6.3" fill="#174c89"/>
<text x="427.2" y="526.28" font-size="7.6" text-anchor="end" fill="#2a2a2a">VDR (GSE5145)</text>
<path d="M430.3 524.33H433.3" stroke="#222" stroke-width="0.9"/>
<rect x="433.3" y="531.44" width="28.6" height="6.3" fill="#174c89"/>
<text x="427.2" y="536.54" font-size="7.6" text-anchor="end" fill="#2a2a2a">RUNX1 (GSE29639)</text>
<path d="M430.3 534.59H433.3" stroke="#222" stroke-width="0.9"/>
<rect x="433.3" y="541.70" width="26.1" height="6.3" fill="#174c89"/>
<text x="427.2" y="546.80" font-size="7.6" text-anchor="end" fill="#2a2a2a">TP63 (GSE5993)</text>
<path d="M430.3 544.85H433.3" stroke="#222" stroke-width="0.9"/>
<path d="M459.4 435.5V551" stroke="#333" stroke-width="0.8" stroke-dasharray="1.6 1.4"/>
<path d="M433.3 435.5V551.4M433.3 551.4H513.7" stroke="#222" stroke-width="1.1" fill="none"/>
<path d="M433.3 551.4v3.5" stroke="#222" stroke-width="1"/>
<text x="433.3" y="562.5" font-size="7.2" text-anchor="middle" fill="#333">0</text>
<path d="M459.3 551.4v3.5" stroke="#222" stroke-width="1"/>
<text x="459.3" y="562.5" font-size="7.2" text-anchor="middle" fill="#333">−2</text>
<path d="M485.2 551.4v3.5" stroke="#222" stroke-width="1"/>
<text x="485.2" y="562.5" font-size="7.2" text-anchor="middle" fill="#333">−4</text>
<path d="M511.2 551.4v3.5" stroke="#222" stroke-width="1"/>
<text x="511.2" y="562.5" font-size="7.2" text-anchor="middle" fill="#333">−6</text>
<text x="454.3" y="572.7" font-size="8.6" fill="#333" textLength="39.8" lengthAdjust="spacingAndGlyphs" stroke="#333" stroke-width="0.25"><tspan font-style="italic">P</tspan> value (LOG)</text>
</svg>
<svg width="520" height="580" viewBox="0 0 520 580">
<rect x="0" y="0" width="520" height="1.1" fill="#5c5c5c"/>
<rect x="0" y="0" width="1.3" height="580" fill="#666"/>
<rect x="518.6" y="0" width="1.4" height="580" fill="#4a4a4a"/>
<rect x="0" y="578.5" width="520" height="1.5" fill="#4a4a4a"/>
</svg></body></html>
